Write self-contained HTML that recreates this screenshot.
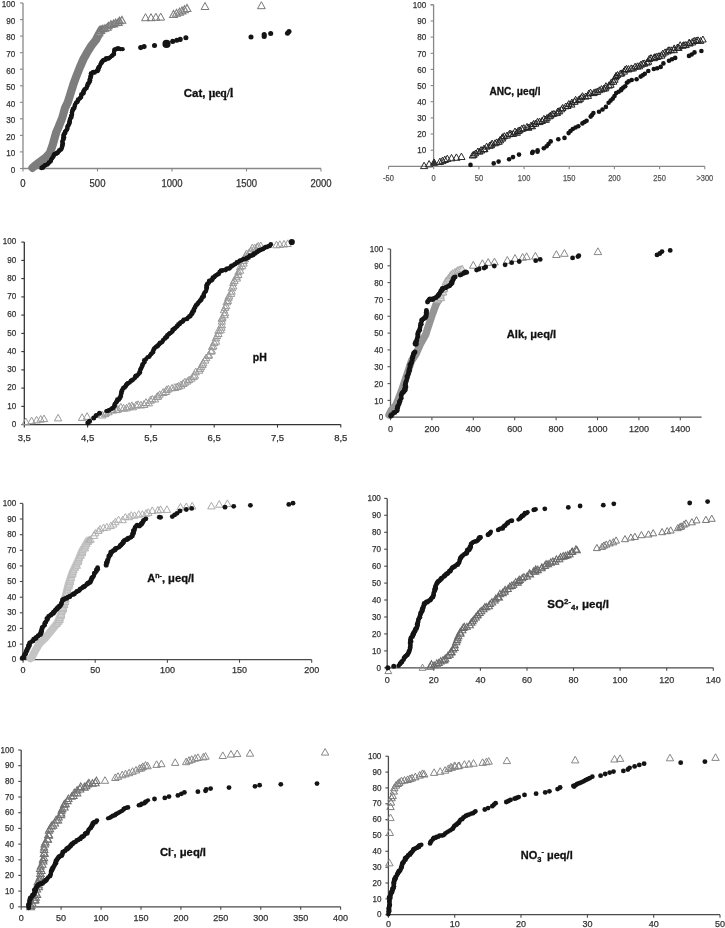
<!DOCTYPE html>
<html><head><meta charset="utf-8"><title>Cumulative distributions</title>
<style>html,body{margin:0;padding:0;background:#fff;} svg{display:block;}</style></head>
<body><svg width="725" height="928" viewBox="0 0 725 928">
<rect width="725" height="928" fill="#fff"/>
<line x1="23.0" y1="168.5" x2="23.0" y2="3.0" stroke="#888" stroke-width="1.3"/>
<line x1="20.0" y1="168.5" x2="23.0" y2="168.5" stroke="#888" stroke-width="1.1"/>
<text x="15.2" y="172.8" font-size="9" text-anchor="end" fill="#333" stroke="#333" stroke-width="0.25" font-weight="normal" font-family='"Liberation Sans", Arial, sans-serif'  textLength="4.50" lengthAdjust="spacingAndGlyphs">0</text>
<line x1="20.0" y1="151.9" x2="23.0" y2="151.9" stroke="#888" stroke-width="1.1"/>
<text x="15.2" y="156.2" font-size="9" text-anchor="end" fill="#333" stroke="#333" stroke-width="0.25" font-weight="normal" font-family='"Liberation Sans", Arial, sans-serif'  textLength="9.01" lengthAdjust="spacingAndGlyphs">10</text>
<line x1="20.0" y1="135.4" x2="23.0" y2="135.4" stroke="#888" stroke-width="1.1"/>
<text x="15.2" y="139.7" font-size="9" text-anchor="end" fill="#333" stroke="#333" stroke-width="0.25" font-weight="normal" font-family='"Liberation Sans", Arial, sans-serif'  textLength="9.01" lengthAdjust="spacingAndGlyphs">20</text>
<line x1="20.0" y1="118.8" x2="23.0" y2="118.8" stroke="#888" stroke-width="1.1"/>
<text x="15.2" y="123.1" font-size="9" text-anchor="end" fill="#333" stroke="#333" stroke-width="0.25" font-weight="normal" font-family='"Liberation Sans", Arial, sans-serif'  textLength="9.01" lengthAdjust="spacingAndGlyphs">30</text>
<line x1="20.0" y1="102.3" x2="23.0" y2="102.3" stroke="#888" stroke-width="1.1"/>
<text x="15.2" y="106.6" font-size="9" text-anchor="end" fill="#333" stroke="#333" stroke-width="0.25" font-weight="normal" font-family='"Liberation Sans", Arial, sans-serif'  textLength="9.01" lengthAdjust="spacingAndGlyphs">40</text>
<line x1="20.0" y1="85.8" x2="23.0" y2="85.8" stroke="#888" stroke-width="1.1"/>
<text x="15.2" y="90.0" font-size="9" text-anchor="end" fill="#333" stroke="#333" stroke-width="0.25" font-weight="normal" font-family='"Liberation Sans", Arial, sans-serif'  textLength="9.01" lengthAdjust="spacingAndGlyphs">50</text>
<line x1="20.0" y1="69.2" x2="23.0" y2="69.2" stroke="#888" stroke-width="1.1"/>
<text x="15.2" y="73.5" font-size="9" text-anchor="end" fill="#333" stroke="#333" stroke-width="0.25" font-weight="normal" font-family='"Liberation Sans", Arial, sans-serif'  textLength="9.01" lengthAdjust="spacingAndGlyphs">60</text>
<line x1="20.0" y1="52.7" x2="23.0" y2="52.7" stroke="#888" stroke-width="1.1"/>
<text x="15.2" y="57.0" font-size="9" text-anchor="end" fill="#333" stroke="#333" stroke-width="0.25" font-weight="normal" font-family='"Liberation Sans", Arial, sans-serif'  textLength="9.01" lengthAdjust="spacingAndGlyphs">70</text>
<line x1="20.0" y1="36.1" x2="23.0" y2="36.1" stroke="#888" stroke-width="1.1"/>
<text x="15.2" y="40.4" font-size="9" text-anchor="end" fill="#333" stroke="#333" stroke-width="0.25" font-weight="normal" font-family='"Liberation Sans", Arial, sans-serif'  textLength="9.01" lengthAdjust="spacingAndGlyphs">80</text>
<line x1="20.0" y1="19.6" x2="23.0" y2="19.6" stroke="#888" stroke-width="1.1"/>
<text x="15.2" y="23.9" font-size="9" text-anchor="end" fill="#333" stroke="#333" stroke-width="0.25" font-weight="normal" font-family='"Liberation Sans", Arial, sans-serif'  textLength="9.01" lengthAdjust="spacingAndGlyphs">90</text>
<line x1="20.0" y1="3.0" x2="23.0" y2="3.0" stroke="#888" stroke-width="1.1"/>
<text x="15.2" y="7.3" font-size="9" text-anchor="end" fill="#333" stroke="#333" stroke-width="0.25" font-weight="normal" font-family='"Liberation Sans", Arial, sans-serif'  textLength="13.51" lengthAdjust="spacingAndGlyphs">100</text>
<line x1="23.0" y1="168.5" x2="321.0" y2="168.5" stroke="#888" stroke-width="1.3"/>
<line x1="23.0" y1="168.5" x2="23.0" y2="171.5" stroke="#888" stroke-width="1.1"/>
<text x="23.0" y="187.4" font-size="10" text-anchor="middle" fill="#333" stroke="#333" stroke-width="0.25" font-weight="normal" font-family='"Liberation Sans", Arial, sans-serif'  textLength="5.28" lengthAdjust="spacingAndGlyphs">0</text>
<line x1="97.5" y1="168.5" x2="97.5" y2="171.5" stroke="#888" stroke-width="1.1"/>
<text x="97.5" y="187.4" font-size="10" text-anchor="middle" fill="#333" stroke="#333" stroke-width="0.25" font-weight="normal" font-family='"Liberation Sans", Arial, sans-serif'  textLength="15.85" lengthAdjust="spacingAndGlyphs">500</text>
<line x1="172.0" y1="168.5" x2="172.0" y2="171.5" stroke="#888" stroke-width="1.1"/>
<text x="172.0" y="187.4" font-size="10" text-anchor="middle" fill="#333" stroke="#333" stroke-width="0.25" font-weight="normal" font-family='"Liberation Sans", Arial, sans-serif'  textLength="21.13" lengthAdjust="spacingAndGlyphs">1000</text>
<line x1="246.5" y1="168.5" x2="246.5" y2="171.5" stroke="#888" stroke-width="1.1"/>
<text x="246.5" y="187.4" font-size="10" text-anchor="middle" fill="#333" stroke="#333" stroke-width="0.25" font-weight="normal" font-family='"Liberation Sans", Arial, sans-serif'  textLength="21.13" lengthAdjust="spacingAndGlyphs">1500</text>
<line x1="321.0" y1="168.5" x2="321.0" y2="171.5" stroke="#888" stroke-width="1.1"/>
<text x="321.0" y="187.4" font-size="10" text-anchor="middle" fill="#333" stroke="#333" stroke-width="0.25" font-weight="normal" font-family='"Liberation Sans", Arial, sans-serif'  textLength="21.13" lengthAdjust="spacingAndGlyphs">2000</text>
<polyline points="32.5,167.8 34.5,166.0 39.0,162.5 46.0,157.3 49.8,153.1 52.7,144.8 56.2,132.4 58.6,126.9 62.2,118.0 65.0,108.0 67.9,102.0 71.0,92.0 73.5,84.0 76.0,77.2 80.0,67.0 83.5,59.0 87.2,52.4 91.5,45.5 95.9,40.0 99.0,34.0 101.5,29.5" fill="none" stroke="#7d7d7d" stroke-width="8.2" stroke-linecap="round" stroke-linejoin="round" opacity="1"/>
<path d="M95.3 35.8L99.1 29.0L102.8 35.8Z" fill="#9a9a9a" stroke="#7a7a7a" stroke-width="1.1"/>
<path d="M97.1 33.5L100.9 26.7L104.7 33.5Z" fill="none" stroke="#7a7a7a" stroke-width="1.1"/>
<path d="M99.2 31.8L102.9 25.1L106.6 31.8Z" fill="none" stroke="#7a7a7a" stroke-width="1.1"/>
<path d="M101.4 31.1L105.0 24.6L108.6 31.1Z" fill="#9a9a9a" stroke="#7a7a7a" stroke-width="1.1"/>
<path d="M103.5 30.2L107.3 23.3L111.1 30.2Z" fill="none" stroke="#7a7a7a" stroke-width="1.1"/>
<path d="M104.9 28.8L108.5 22.3L112.1 28.8Z" fill="#9a9a9a" stroke="#7a7a7a" stroke-width="1.1"/>
<path d="M107.1 27.4L110.9 20.6L114.7 27.4Z" fill="#9a9a9a" stroke="#7a7a7a" stroke-width="1.1"/>
<path d="M109.8 26.9L113.6 19.9L117.5 26.9Z" fill="#9a9a9a" stroke="#7a7a7a" stroke-width="1.1"/>
<path d="M112.0 25.8L115.7 19.1L119.4 25.8Z" fill="#9a9a9a" stroke="#7a7a7a" stroke-width="1.1"/>
<path d="M114.4 25.4L118.2 18.5L122.1 25.4Z" fill="none" stroke="#7a7a7a" stroke-width="1.1"/>
<path d="M116.0 23.6L119.6 17.1L123.3 23.6Z" fill="#9a9a9a" stroke="#7a7a7a" stroke-width="1.1"/>
<path d="M118.2 23.2L121.9 16.4L125.7 23.2Z" fill="none" stroke="#7a7a7a" stroke-width="1.1"/>
<path d="M141.6 20.7L145.5 13.7L149.4 20.7Z" fill="none" stroke="#777" stroke-width="1.0"/>
<path d="M147.1 20.7L151.0 13.7L154.9 20.7Z" fill="none" stroke="#777" stroke-width="1.0"/>
<path d="M152.0 20.3L155.9 13.3L159.8 20.3Z" fill="none" stroke="#777" stroke-width="1.0"/>
<path d="M156.8 20.1L160.7 13.1L164.6 20.1Z" fill="none" stroke="#777" stroke-width="1.0"/>
<path d="M169.6 17.5L173.5 10.5L177.4 17.5Z" fill="none" stroke="#808080" stroke-width="1.1"/>
<path d="M172.6 16.3L176.5 9.3L180.4 16.3Z" fill="none" stroke="#808080" stroke-width="1.1"/>
<path d="M175.6 15.1L179.5 8.1L183.4 15.1Z" fill="none" stroke="#808080" stroke-width="1.1"/>
<path d="M178.1 13.9L182.0 6.9L185.9 13.9Z" fill="none" stroke="#808080" stroke-width="1.1"/>
<path d="M180.6 12.7L184.5 5.7L188.4 12.7Z" fill="none" stroke="#808080" stroke-width="1.1"/>
<path d="M183.1 11.5L187.0 4.5L190.9 11.5Z" fill="none" stroke="#808080" stroke-width="1.1"/>
<path d="M201.1 9.5L205.0 2.5L208.9 9.5Z" fill="none" stroke="#777" stroke-width="1.0"/>
<path d="M257.5 8.7L261.4 1.7L265.3 8.7Z" fill="none" stroke="#777" stroke-width="1.0"/>
<circle cx="41.6" cy="167.9" r="2.42" fill="#141414"/>
<circle cx="43.0" cy="167.4" r="2.31" fill="#141414"/>
<circle cx="43.3" cy="166.4" r="2.17" fill="#141414"/>
<circle cx="44.9" cy="165.6" r="2.42" fill="#141414"/>
<circle cx="45.3" cy="164.9" r="2.10" fill="#141414"/>
<circle cx="47.2" cy="164.4" r="2.24" fill="#141414"/>
<circle cx="47.8" cy="164.0" r="2.22" fill="#141414"/>
<circle cx="48.6" cy="162.9" r="2.18" fill="#141414"/>
<circle cx="49.3" cy="162.3" r="2.31" fill="#141414"/>
<circle cx="50.7" cy="161.3" r="2.21" fill="#141414"/>
<circle cx="51.1" cy="159.8" r="2.22" fill="#141414"/>
<circle cx="52.1" cy="158.2" r="2.24" fill="#141414"/>
<circle cx="52.7" cy="157.5" r="2.08" fill="#141414"/>
<circle cx="53.6" cy="156.1" r="2.27" fill="#141414"/>
<circle cx="53.8" cy="155.0" r="2.14" fill="#141414"/>
<circle cx="54.5" cy="154.1" r="2.32" fill="#141414"/>
<circle cx="56.2" cy="153.6" r="2.30" fill="#141414"/>
<circle cx="57.0" cy="153.0" r="2.39" fill="#141414"/>
<circle cx="57.9" cy="152.6" r="2.32" fill="#141414"/>
<circle cx="59.3" cy="150.9" r="2.10" fill="#141414"/>
<circle cx="59.4" cy="150.3" r="2.41" fill="#141414"/>
<circle cx="61.0" cy="149.7" r="2.11" fill="#141414"/>
<circle cx="61.5" cy="148.6" r="2.36" fill="#141414"/>
<circle cx="62.1" cy="146.7" r="2.13" fill="#141414"/>
<circle cx="62.3" cy="146.0" r="2.39" fill="#141414"/>
<circle cx="62.2" cy="144.9" r="2.12" fill="#141414"/>
<circle cx="63.0" cy="143.7" r="2.19" fill="#141414"/>
<circle cx="62.3" cy="142.0" r="2.32" fill="#141414"/>
<circle cx="62.8" cy="140.2" r="2.17" fill="#141414"/>
<circle cx="63.5" cy="138.9" r="2.41" fill="#141414"/>
<circle cx="63.1" cy="137.8" r="2.11" fill="#141414"/>
<circle cx="64.1" cy="137.3" r="2.18" fill="#141414"/>
<circle cx="63.6" cy="135.8" r="2.39" fill="#141414"/>
<circle cx="63.9" cy="134.5" r="2.38" fill="#141414"/>
<circle cx="64.9" cy="133.3" r="2.36" fill="#141414"/>
<circle cx="65.1" cy="131.7" r="2.31" fill="#141414"/>
<circle cx="66.0" cy="130.8" r="2.19" fill="#141414"/>
<circle cx="67.0" cy="129.4" r="2.31" fill="#141414"/>
<circle cx="67.5" cy="128.3" r="2.09" fill="#141414"/>
<circle cx="67.3" cy="126.8" r="2.12" fill="#141414"/>
<circle cx="67.8" cy="125.9" r="2.20" fill="#141414"/>
<circle cx="68.6" cy="125.1" r="2.31" fill="#141414"/>
<circle cx="69.3" cy="123.5" r="2.31" fill="#141414"/>
<circle cx="69.5" cy="122.0" r="2.27" fill="#141414"/>
<circle cx="69.7" cy="121.4" r="2.33" fill="#141414"/>
<circle cx="69.9" cy="119.8" r="2.23" fill="#141414"/>
<circle cx="70.3" cy="118.1" r="2.09" fill="#141414"/>
<circle cx="71.3" cy="117.6" r="2.23" fill="#141414"/>
<circle cx="71.2" cy="115.9" r="2.33" fill="#141414"/>
<circle cx="71.9" cy="115.1" r="2.24" fill="#141414"/>
<circle cx="72.2" cy="114.0" r="2.09" fill="#141414"/>
<circle cx="71.9" cy="112.3" r="2.17" fill="#141414"/>
<circle cx="72.4" cy="110.7" r="2.34" fill="#141414"/>
<circle cx="73.2" cy="109.4" r="2.32" fill="#141414"/>
<circle cx="73.1" cy="108.8" r="2.32" fill="#141414"/>
<circle cx="74.4" cy="107.9" r="2.19" fill="#141414"/>
<circle cx="74.7" cy="106.0" r="2.33" fill="#141414"/>
<circle cx="75.0" cy="104.9" r="2.16" fill="#141414"/>
<circle cx="75.3" cy="104.4" r="2.10" fill="#141414"/>
<circle cx="76.0" cy="102.6" r="2.13" fill="#141414"/>
<circle cx="77.3" cy="101.9" r="2.31" fill="#141414"/>
<circle cx="78.2" cy="100.7" r="2.08" fill="#141414"/>
<circle cx="78.1" cy="99.7" r="2.33" fill="#141414"/>
<circle cx="79.7" cy="98.6" r="2.15" fill="#141414"/>
<circle cx="80.1" cy="98.0" r="2.19" fill="#141414"/>
<circle cx="81.1" cy="96.9" r="2.28" fill="#141414"/>
<circle cx="81.3" cy="94.9" r="2.11" fill="#141414"/>
<circle cx="81.5" cy="94.4" r="2.33" fill="#141414"/>
<circle cx="83.3" cy="93.3" r="2.43" fill="#141414"/>
<circle cx="83.3" cy="91.6" r="2.09" fill="#141414"/>
<circle cx="83.9" cy="91.0" r="2.43" fill="#141414"/>
<circle cx="84.6" cy="89.5" r="2.33" fill="#141414"/>
<circle cx="85.3" cy="88.8" r="2.12" fill="#141414"/>
<circle cx="86.5" cy="88.1" r="2.34" fill="#141414"/>
<circle cx="87.3" cy="86.3" r="2.08" fill="#141414"/>
<circle cx="87.2" cy="85.8" r="2.24" fill="#141414"/>
<circle cx="87.7" cy="83.8" r="2.13" fill="#141414"/>
<circle cx="88.5" cy="83.5" r="2.39" fill="#141414"/>
<circle cx="89.5" cy="82.2" r="2.14" fill="#141414"/>
<circle cx="90.1" cy="80.4" r="2.26" fill="#141414"/>
<circle cx="89.4" cy="79.9" r="2.12" fill="#141414"/>
<circle cx="90.3" cy="78.3" r="2.30" fill="#141414"/>
<circle cx="90.6" cy="76.7" r="2.36" fill="#141414"/>
<circle cx="91.0" cy="75.7" r="2.42" fill="#141414"/>
<circle cx="91.2" cy="73.8" r="2.31" fill="#141414"/>
<circle cx="90.9" cy="73.5" r="2.20" fill="#141414"/>
<circle cx="93.0" cy="72.4" r="2.41" fill="#141414"/>
<circle cx="93.3" cy="71.9" r="2.07" fill="#141414"/>
<circle cx="94.6" cy="72.4" r="2.37" fill="#141414"/>
<circle cx="96.6" cy="71.0" r="2.32" fill="#141414"/>
<circle cx="97.6" cy="71.0" r="2.17" fill="#141414"/>
<circle cx="98.3" cy="69.8" r="2.32" fill="#141414"/>
<circle cx="98.2" cy="68.3" r="2.34" fill="#141414"/>
<circle cx="99.0" cy="67.2" r="2.40" fill="#141414"/>
<circle cx="99.5" cy="66.5" r="2.09" fill="#141414"/>
<circle cx="100.2" cy="65.1" r="2.07" fill="#141414"/>
<circle cx="100.9" cy="63.5" r="2.30" fill="#141414"/>
<circle cx="101.7" cy="62.4" r="2.41" fill="#141414"/>
<circle cx="102.2" cy="61.5" r="2.23" fill="#141414"/>
<circle cx="103.0" cy="60.5" r="2.34" fill="#141414"/>
<circle cx="103.9" cy="60.1" r="2.39" fill="#141414"/>
<circle cx="105.4" cy="59.7" r="2.37" fill="#141414"/>
<circle cx="106.2" cy="58.3" r="2.35" fill="#141414"/>
<circle cx="108.2" cy="58.5" r="2.33" fill="#141414"/>
<circle cx="108.9" cy="58.1" r="2.34" fill="#141414"/>
<circle cx="110.3" cy="57.3" r="2.09" fill="#141414"/>
<circle cx="111.4" cy="56.3" r="2.07" fill="#141414"/>
<circle cx="112.0" cy="55.7" r="2.26" fill="#141414"/>
<circle cx="113.3" cy="54.5" r="2.27" fill="#141414"/>
<circle cx="114.0" cy="54.0" r="2.27" fill="#141414"/>
<circle cx="114.1" cy="51.8" r="2.12" fill="#141414"/>
<circle cx="114.3" cy="51.3" r="2.11" fill="#141414"/>
<circle cx="114.3" cy="49.8" r="2.18" fill="#141414"/>
<circle cx="115.5" cy="49.1" r="2.22" fill="#141414"/>
<circle cx="117.5" cy="48.7" r="2.36" fill="#141414"/>
<circle cx="118.0" cy="48.5" r="2.31" fill="#141414"/>
<circle cx="119.2" cy="48.6" r="2.13" fill="#141414"/>
<circle cx="120.7" cy="49.2" r="2.13" fill="#141414"/>
<circle cx="122.6" cy="49.2" r="2.16" fill="#141414"/>
<circle cx="140.7" cy="47.6" r="2.53" fill="#141414"/>
<circle cx="144.1" cy="46.6" r="2.53" fill="#141414"/>
<circle cx="154.5" cy="45.5" r="2.53" fill="#141414"/>
<circle cx="172.7" cy="41.4" r="2.53" fill="#141414"/>
<circle cx="176.8" cy="40.3" r="2.53" fill="#141414"/>
<circle cx="180.2" cy="39.4" r="2.53" fill="#141414"/>
<circle cx="185.9" cy="37.8" r="2.53" fill="#141414"/>
<circle cx="251.0" cy="37.0" r="2.53" fill="#141414"/>
<circle cx="264.2" cy="34.6" r="2.53" fill="#141414"/>
<circle cx="264.2" cy="36.4" r="2.53" fill="#141414"/>
<circle cx="270.7" cy="33.5" r="2.53" fill="#141414"/>
<circle cx="287.5" cy="33.3" r="2.53" fill="#141414"/>
<circle cx="289.0" cy="31.5" r="2.53" fill="#141414"/>
<circle cx="166.5" cy="43.9" r="4.07" fill="#141414"/>
<text x="183.8" y="96.5" font-size="11.5" font-weight="bold" fill="#111" stroke="#111" stroke-width="0.3" font-family='"Liberation Sans", Arial, sans-serif'>Cat, <tspan font-family='"Liberation Serif", "Times New Roman", serif'>μeq/l</tspan></text>
<line x1="433.6" y1="166.3" x2="433.6" y2="4.8" stroke="#888" stroke-width="1.3"/>
<line x1="430.6" y1="150.2" x2="433.6" y2="150.2" stroke="#888" stroke-width="1.1"/>
<text x="426.3" y="153.3" font-size="9" text-anchor="end" fill="#333" stroke="#333" stroke-width="0.25" font-weight="normal" font-family='"Liberation Sans", Arial, sans-serif'  textLength="9.01" lengthAdjust="spacingAndGlyphs">10</text>
<line x1="430.6" y1="134.0" x2="433.6" y2="134.0" stroke="#888" stroke-width="1.1"/>
<text x="426.3" y="137.2" font-size="9" text-anchor="end" fill="#333" stroke="#333" stroke-width="0.25" font-weight="normal" font-family='"Liberation Sans", Arial, sans-serif'  textLength="9.01" lengthAdjust="spacingAndGlyphs">20</text>
<line x1="430.6" y1="117.9" x2="433.6" y2="117.9" stroke="#888" stroke-width="1.1"/>
<text x="426.3" y="121.1" font-size="9" text-anchor="end" fill="#333" stroke="#333" stroke-width="0.25" font-weight="normal" font-family='"Liberation Sans", Arial, sans-serif'  textLength="9.01" lengthAdjust="spacingAndGlyphs">30</text>
<line x1="430.6" y1="101.7" x2="433.6" y2="101.7" stroke="#888" stroke-width="1.1"/>
<text x="426.3" y="104.9" font-size="9" text-anchor="end" fill="#333" stroke="#333" stroke-width="0.25" font-weight="normal" font-family='"Liberation Sans", Arial, sans-serif'  textLength="9.01" lengthAdjust="spacingAndGlyphs">40</text>
<line x1="430.6" y1="85.6" x2="433.6" y2="85.6" stroke="#888" stroke-width="1.1"/>
<text x="426.3" y="88.8" font-size="9" text-anchor="end" fill="#333" stroke="#333" stroke-width="0.25" font-weight="normal" font-family='"Liberation Sans", Arial, sans-serif'  textLength="9.01" lengthAdjust="spacingAndGlyphs">50</text>
<line x1="430.6" y1="69.4" x2="433.6" y2="69.4" stroke="#888" stroke-width="1.1"/>
<text x="426.3" y="72.6" font-size="9" text-anchor="end" fill="#333" stroke="#333" stroke-width="0.25" font-weight="normal" font-family='"Liberation Sans", Arial, sans-serif'  textLength="9.01" lengthAdjust="spacingAndGlyphs">60</text>
<line x1="430.6" y1="53.3" x2="433.6" y2="53.3" stroke="#888" stroke-width="1.1"/>
<text x="426.3" y="56.5" font-size="9" text-anchor="end" fill="#333" stroke="#333" stroke-width="0.25" font-weight="normal" font-family='"Liberation Sans", Arial, sans-serif'  textLength="9.01" lengthAdjust="spacingAndGlyphs">70</text>
<line x1="430.6" y1="37.1" x2="433.6" y2="37.1" stroke="#888" stroke-width="1.1"/>
<text x="426.3" y="40.3" font-size="9" text-anchor="end" fill="#333" stroke="#333" stroke-width="0.25" font-weight="normal" font-family='"Liberation Sans", Arial, sans-serif'  textLength="9.01" lengthAdjust="spacingAndGlyphs">80</text>
<line x1="430.6" y1="21.0" x2="433.6" y2="21.0" stroke="#888" stroke-width="1.1"/>
<text x="426.3" y="24.2" font-size="9" text-anchor="end" fill="#333" stroke="#333" stroke-width="0.25" font-weight="normal" font-family='"Liberation Sans", Arial, sans-serif'  textLength="9.01" lengthAdjust="spacingAndGlyphs">90</text>
<line x1="430.6" y1="4.8" x2="433.6" y2="4.8" stroke="#888" stroke-width="1.1"/>
<text x="426.3" y="8.0" font-size="9" text-anchor="end" fill="#333" stroke="#333" stroke-width="0.25" font-weight="normal" font-family='"Liberation Sans", Arial, sans-serif'  textLength="13.51" lengthAdjust="spacingAndGlyphs">100</text>
<line x1="430.6" y1="4.8" x2="433.6" y2="4.8" stroke="#888" stroke-width="1.1"/>
<line x1="388.5" y1="166.3" x2="704.8" y2="166.3" stroke="#888" stroke-width="1.3"/>
<line x1="388.5" y1="166.3" x2="388.5" y2="169.3" stroke="#888" stroke-width="1.1"/>
<text x="388.5" y="181.0" font-size="8.5" text-anchor="middle" fill="#555" stroke="#555" stroke-width="0.25" font-weight="normal" font-family='"Liberation Sans", Arial, sans-serif'  textLength="10.81" lengthAdjust="spacingAndGlyphs">-50</text>
<line x1="433.7" y1="166.3" x2="433.7" y2="169.3" stroke="#888" stroke-width="1.1"/>
<text x="433.7" y="181.0" font-size="8.5" text-anchor="middle" fill="#555" stroke="#555" stroke-width="0.25" font-weight="normal" font-family='"Liberation Sans", Arial, sans-serif'  textLength="4.16" lengthAdjust="spacingAndGlyphs">0</text>
<line x1="478.9" y1="166.3" x2="478.9" y2="169.3" stroke="#888" stroke-width="1.1"/>
<text x="478.9" y="181.0" font-size="8.5" text-anchor="middle" fill="#555" stroke="#555" stroke-width="0.25" font-weight="normal" font-family='"Liberation Sans", Arial, sans-serif'  textLength="8.32" lengthAdjust="spacingAndGlyphs">50</text>
<line x1="524.1" y1="166.3" x2="524.1" y2="169.3" stroke="#888" stroke-width="1.1"/>
<text x="524.1" y="181.0" font-size="8.5" text-anchor="middle" fill="#555" stroke="#555" stroke-width="0.25" font-weight="normal" font-family='"Liberation Sans", Arial, sans-serif'  textLength="12.48" lengthAdjust="spacingAndGlyphs">100</text>
<line x1="569.2" y1="166.3" x2="569.2" y2="169.3" stroke="#888" stroke-width="1.1"/>
<text x="569.2" y="181.0" font-size="8.5" text-anchor="middle" fill="#555" stroke="#555" stroke-width="0.25" font-weight="normal" font-family='"Liberation Sans", Arial, sans-serif'  textLength="12.48" lengthAdjust="spacingAndGlyphs">150</text>
<line x1="614.4" y1="166.3" x2="614.4" y2="169.3" stroke="#888" stroke-width="1.1"/>
<text x="614.4" y="181.0" font-size="8.5" text-anchor="middle" fill="#555" stroke="#555" stroke-width="0.25" font-weight="normal" font-family='"Liberation Sans", Arial, sans-serif'  textLength="12.48" lengthAdjust="spacingAndGlyphs">200</text>
<line x1="659.6" y1="166.3" x2="659.6" y2="169.3" stroke="#888" stroke-width="1.1"/>
<text x="659.6" y="181.0" font-size="8.5" text-anchor="middle" fill="#555" stroke="#555" stroke-width="0.25" font-weight="normal" font-family='"Liberation Sans", Arial, sans-serif'  textLength="12.48" lengthAdjust="spacingAndGlyphs">250</text>
<line x1="704.8" y1="166.3" x2="704.8" y2="169.3" stroke="#888" stroke-width="1.1"/>
<text x="704.8" y="181.0" font-size="8.5" text-anchor="middle" fill="#555" stroke="#555" stroke-width="0.25" font-weight="normal" font-family='"Liberation Sans", Arial, sans-serif'  textLength="16.84" lengthAdjust="spacingAndGlyphs">&gt;300</text>
<path d="M430.5 165.3L434.1 158.9L437.7 165.3Z" fill="#333" stroke="#2a2a2a" stroke-width="1.0"/>
<path d="M420.5 168.6L424.1 162.2L427.7 168.6Z" fill="none" stroke="#2a2a2a" stroke-width="1.0"/>
<path d="M425.5 166.9L429.1 160.5L432.7 166.9Z" fill="none" stroke="#2a2a2a" stroke-width="1.0"/>
<path d="M436.3 164.5L439.9 158.1L443.5 164.5Z" fill="none" stroke="#2a2a2a" stroke-width="1.0"/>
<path d="M438.8 163.6L442.4 157.2L446.0 163.6Z" fill="none" stroke="#2a2a2a" stroke-width="1.0"/>
<path d="M441.2 162.5L444.8 156.1L448.4 162.5Z" fill="none" stroke="#2a2a2a" stroke-width="1.0"/>
<path d="M443.7 161.5L447.3 155.1L450.9 161.5Z" fill="none" stroke="#2a2a2a" stroke-width="1.0"/>
<path d="M447.9 160.8L451.5 154.4L455.1 160.8Z" fill="none" stroke="#2a2a2a" stroke-width="1.0"/>
<path d="M452.8 160.3L456.4 153.9L460.0 160.3Z" fill="none" stroke="#2a2a2a" stroke-width="1.0"/>
<path d="M457.8 159.5L461.4 153.1L465.0 159.5Z" fill="none" stroke="#2a2a2a" stroke-width="1.0"/>
<path d="M469.2 158.0L472.7 151.8L476.1 158.0Z" fill="none" stroke="#222" stroke-width="1.0"/>
<path d="M470.5 157.3L473.9 151.2L477.2 157.3Z" fill="none" stroke="#222" stroke-width="1.0"/>
<path d="M472.2 155.8L475.5 150.0L478.7 155.8Z" fill="none" stroke="#222" stroke-width="1.0"/>
<path d="M474.6 153.8L477.9 148.0L481.1 153.8Z" fill="none" stroke="#222" stroke-width="1.0"/>
<path d="M476.4 154.1L479.7 148.2L482.9 154.1Z" fill="none" stroke="#222" stroke-width="1.0"/>
<path d="M477.6 153.0L481.1 146.6L484.7 153.0Z" fill="none" stroke="#222" stroke-width="1.0"/>
<path d="M480.1 151.8L483.7 145.4L487.3 151.8Z" fill="none" stroke="#222" stroke-width="1.0"/>
<path d="M481.3 151.6L484.7 145.6L488.0 151.6Z" fill="none" stroke="#222" stroke-width="1.0"/>
<path d="M483.3 149.1L486.6 143.1L490.0 149.1Z" fill="none" stroke="#222" stroke-width="1.0"/>
<path d="M486.2 148.3L489.7 142.1L493.1 148.3Z" fill="none" stroke="#222" stroke-width="1.0"/>
<path d="M487.8 147.7L491.2 141.5L494.6 147.7Z" fill="none" stroke="#222" stroke-width="1.0"/>
<path d="M488.8 146.1L492.1 140.1L495.4 146.1Z" fill="none" stroke="#222" stroke-width="1.0"/>
<path d="M491.7 145.8L495.0 139.8L498.4 145.8Z" fill="none" stroke="#222" stroke-width="1.0"/>
<path d="M493.4 144.9L496.7 138.9L500.1 144.9Z" fill="none" stroke="#222" stroke-width="1.0"/>
<path d="M495.6 144.3L498.9 138.3L502.2 144.3Z" fill="none" stroke="#222" stroke-width="1.0"/>
<path d="M496.6 142.8L500.1 136.5L503.7 142.8Z" fill="none" stroke="#222" stroke-width="1.0"/>
<path d="M498.5 141.1L502.0 134.7L505.6 141.1Z" fill="none" stroke="#222" stroke-width="1.0"/>
<path d="M499.1 139.9L502.6 133.7L506.1 139.9Z" fill="none" stroke="#222" stroke-width="1.0"/>
<path d="M501.1 138.6L504.3 132.7L507.6 138.6Z" fill="none" stroke="#222" stroke-width="1.0"/>
<path d="M503.6 138.1L507.0 132.0L510.4 138.1Z" fill="none" stroke="#222" stroke-width="1.0"/>
<path d="M505.9 136.7L509.4 130.4L512.8 136.7Z" fill="none" stroke="#222" stroke-width="1.0"/>
<path d="M507.5 136.4L510.8 130.3L514.2 136.4Z" fill="none" stroke="#222" stroke-width="1.0"/>
<path d="M509.9 136.4L513.3 130.3L516.7 136.4Z" fill="none" stroke="#222" stroke-width="1.0"/>
<path d="M511.5 134.3L515.0 128.0L518.4 134.3Z" fill="none" stroke="#222" stroke-width="1.0"/>
<path d="M513.4 135.3L516.9 129.0L520.4 135.3Z" fill="none" stroke="#222" stroke-width="1.0"/>
<path d="M514.8 133.5L518.3 127.3L521.7 133.5Z" fill="none" stroke="#222" stroke-width="1.0"/>
<path d="M516.5 132.8L519.8 126.9L523.1 132.8Z" fill="none" stroke="#222" stroke-width="1.0"/>
<path d="M518.4 131.4L521.9 125.1L525.3 131.4Z" fill="none" stroke="#222" stroke-width="1.0"/>
<path d="M520.4 130.7L523.8 124.6L527.1 130.7Z" fill="none" stroke="#222" stroke-width="1.0"/>
<path d="M523.6 129.5L527.0 123.4L530.4 129.5Z" fill="none" stroke="#222" stroke-width="1.0"/>
<path d="M524.9 130.3L528.4 124.0L531.9 130.3Z" fill="none" stroke="#222" stroke-width="1.0"/>
<path d="M527.5 128.3L530.9 122.3L534.3 128.3Z" fill="none" stroke="#222" stroke-width="1.0"/>
<path d="M528.4 128.8L532.0 122.4L535.5 128.8Z" fill="none" stroke="#222" stroke-width="1.0"/>
<path d="M530.2 126.5L533.5 120.5L536.8 126.5Z" fill="none" stroke="#222" stroke-width="1.0"/>
<path d="M532.1 126.2L535.5 120.0L538.9 126.2Z" fill="none" stroke="#222" stroke-width="1.0"/>
<path d="M534.1 124.4L537.5 118.3L540.8 124.4Z" fill="none" stroke="#222" stroke-width="1.0"/>
<path d="M536.0 124.6L539.5 118.2L543.1 124.6Z" fill="none" stroke="#222" stroke-width="1.0"/>
<path d="M538.6 123.5L542.0 117.3L545.4 123.5Z" fill="none" stroke="#222" stroke-width="1.0"/>
<path d="M540.3 121.8L543.9 115.4L547.4 121.8Z" fill="none" stroke="#222" stroke-width="1.0"/>
<path d="M542.4 122.3L545.9 116.0L549.4 122.3Z" fill="none" stroke="#222" stroke-width="1.0"/>
<path d="M543.8 120.3L547.1 114.4L550.4 120.3Z" fill="none" stroke="#222" stroke-width="1.0"/>
<path d="M546.2 118.8L549.4 112.9L552.7 118.8Z" fill="none" stroke="#222" stroke-width="1.0"/>
<path d="M547.2 118.1L550.5 112.1L553.9 118.1Z" fill="none" stroke="#222" stroke-width="1.0"/>
<path d="M548.8 116.7L552.1 110.8L555.4 116.7Z" fill="none" stroke="#222" stroke-width="1.0"/>
<path d="M550.7 116.2L553.9 110.4L557.2 116.2Z" fill="none" stroke="#222" stroke-width="1.0"/>
<path d="M553.8 115.6L557.1 109.7L560.4 115.6Z" fill="none" stroke="#222" stroke-width="1.0"/>
<path d="M554.4 114.0L557.8 108.0L561.1 114.0Z" fill="none" stroke="#222" stroke-width="1.0"/>
<path d="M555.7 113.9L559.2 107.5L562.8 113.9Z" fill="none" stroke="#222" stroke-width="1.0"/>
<path d="M558.3 111.8L561.6 105.9L564.8 111.8Z" fill="none" stroke="#222" stroke-width="1.0"/>
<path d="M559.3 110.4L562.7 104.4L566.0 110.4Z" fill="none" stroke="#222" stroke-width="1.0"/>
<path d="M562.5 108.8L565.7 103.0L569.0 108.8Z" fill="none" stroke="#222" stroke-width="1.0"/>
<path d="M564.5 108.5L567.7 102.6L571.0 108.5Z" fill="none" stroke="#222" stroke-width="1.0"/>
<path d="M565.4 106.6L568.8 100.5L572.2 106.6Z" fill="none" stroke="#222" stroke-width="1.0"/>
<path d="M567.9 107.1L571.4 100.8L574.9 107.1Z" fill="none" stroke="#222" stroke-width="1.0"/>
<path d="M568.6 104.9L571.9 99.0L575.2 104.9Z" fill="none" stroke="#222" stroke-width="1.0"/>
<path d="M571.1 104.3L574.6 98.0L578.1 104.3Z" fill="none" stroke="#222" stroke-width="1.0"/>
<path d="M572.1 102.6L575.6 96.3L579.1 102.6Z" fill="none" stroke="#222" stroke-width="1.0"/>
<path d="M575.1 102.7L578.6 96.4L582.1 102.7Z" fill="none" stroke="#222" stroke-width="1.0"/>
<path d="M576.8 101.4L580.1 95.4L583.5 101.4Z" fill="none" stroke="#222" stroke-width="1.0"/>
<path d="M578.2 99.7L581.5 93.9L584.7 99.7Z" fill="none" stroke="#222" stroke-width="1.0"/>
<path d="M579.2 98.7L582.5 92.7L585.8 98.7Z" fill="none" stroke="#222" stroke-width="1.0"/>
<path d="M582.2 99.1L585.6 93.0L588.9 99.1Z" fill="none" stroke="#222" stroke-width="1.0"/>
<path d="M584.4 98.4L587.9 92.0L591.5 98.4Z" fill="none" stroke="#222" stroke-width="1.0"/>
<path d="M585.5 96.0L588.8 90.1L592.1 96.0Z" fill="none" stroke="#222" stroke-width="1.0"/>
<path d="M587.0 95.3L590.5 89.1L593.9 95.3Z" fill="none" stroke="#222" stroke-width="1.0"/>
<path d="M590.3 95.6L593.7 89.5L597.1 95.6Z" fill="none" stroke="#222" stroke-width="1.0"/>
<path d="M591.9 94.6L595.2 88.8L598.5 94.6Z" fill="none" stroke="#222" stroke-width="1.0"/>
<path d="M593.7 94.4L597.2 88.1L600.7 94.4Z" fill="none" stroke="#222" stroke-width="1.0"/>
<path d="M596.0 92.7L599.3 86.8L602.6 92.7Z" fill="none" stroke="#222" stroke-width="1.0"/>
<path d="M597.9 91.9L601.4 85.6L604.9 91.9Z" fill="none" stroke="#222" stroke-width="1.0"/>
<path d="M600.3 91.2L603.7 85.2L607.1 91.2Z" fill="none" stroke="#222" stroke-width="1.0"/>
<path d="M602.2 90.8L605.5 84.9L608.8 90.8Z" fill="none" stroke="#222" stroke-width="1.0"/>
<path d="M602.4 89.1L605.9 82.7L609.5 89.1Z" fill="none" stroke="#222" stroke-width="1.0"/>
<path d="M605.5 88.1L609.0 81.8L612.5 88.1Z" fill="none" stroke="#222" stroke-width="1.0"/>
<path d="M607.4 87.3L610.8 81.3L614.1 87.3Z" fill="none" stroke="#222" stroke-width="1.0"/>
<path d="M608.1 84.7L611.4 78.9L614.6 84.7Z" fill="none" stroke="#222" stroke-width="1.0"/>
<path d="M610.1 84.2L613.5 78.1L616.9 84.2Z" fill="none" stroke="#222" stroke-width="1.0"/>
<path d="M611.1 82.2L614.6 75.8L618.1 82.2Z" fill="none" stroke="#222" stroke-width="1.0"/>
<path d="M612.3 79.8L615.6 73.9L618.9 79.8Z" fill="none" stroke="#222" stroke-width="1.0"/>
<path d="M612.6 78.5L616.1 72.3L619.5 78.5Z" fill="none" stroke="#222" stroke-width="1.0"/>
<path d="M614.4 77.4L617.6 71.5L620.9 77.4Z" fill="none" stroke="#222" stroke-width="1.0"/>
<path d="M617.1 76.1L620.5 70.0L623.9 76.1Z" fill="none" stroke="#222" stroke-width="1.0"/>
<path d="M618.3 75.9L621.7 69.9L625.0 75.9Z" fill="none" stroke="#222" stroke-width="1.0"/>
<path d="M620.6 74.1L624.0 68.0L627.5 74.1Z" fill="none" stroke="#222" stroke-width="1.0"/>
<path d="M621.7 72.1L625.1 66.1L628.5 72.1Z" fill="none" stroke="#222" stroke-width="1.0"/>
<path d="M623.0 71.6L626.5 65.3L630.0 71.6Z" fill="none" stroke="#222" stroke-width="1.0"/>
<path d="M625.0 71.9L628.5 65.6L632.0 71.9Z" fill="none" stroke="#222" stroke-width="1.0"/>
<path d="M627.8 71.0L631.2 64.9L634.6 71.0Z" fill="none" stroke="#222" stroke-width="1.0"/>
<path d="M629.9 70.9L633.2 65.0L636.4 70.9Z" fill="none" stroke="#222" stroke-width="1.0"/>
<path d="M631.8 69.2L635.1 63.2L638.4 69.2Z" fill="none" stroke="#222" stroke-width="1.0"/>
<path d="M634.0 69.0L637.4 62.8L640.9 69.0Z" fill="none" stroke="#222" stroke-width="1.0"/>
<path d="M636.0 68.8L639.3 62.7L642.7 68.8Z" fill="none" stroke="#222" stroke-width="1.0"/>
<path d="M637.6 67.2L641.0 61.0L644.4 67.2Z" fill="none" stroke="#222" stroke-width="1.0"/>
<path d="M639.6 66.1L643.0 60.0L646.4 66.1Z" fill="none" stroke="#222" stroke-width="1.0"/>
<path d="M641.0 66.1L644.5 59.9L647.9 66.1Z" fill="none" stroke="#222" stroke-width="1.0"/>
<path d="M643.8 65.1L647.1 59.1L650.4 65.1Z" fill="none" stroke="#222" stroke-width="1.0"/>
<path d="M644.8 64.2L648.3 57.8L651.8 64.2Z" fill="none" stroke="#222" stroke-width="1.0"/>
<path d="M645.9 61.5L649.3 55.4L652.7 61.5Z" fill="none" stroke="#222" stroke-width="1.0"/>
<path d="M647.7 60.5L651.0 54.6L654.3 60.5Z" fill="none" stroke="#222" stroke-width="1.0"/>
<path d="M650.4 60.7L653.9 54.3L657.5 60.7Z" fill="none" stroke="#222" stroke-width="1.0"/>
<path d="M651.5 59.8L655.0 53.6L658.4 59.8Z" fill="none" stroke="#222" stroke-width="1.0"/>
<path d="M653.4 59.5L656.9 53.1L660.5 59.5Z" fill="none" stroke="#222" stroke-width="1.0"/>
<path d="M655.6 58.7L659.0 52.6L662.4 58.7Z" fill="none" stroke="#222" stroke-width="1.0"/>
<path d="M657.9 58.1L661.4 51.8L665.0 58.1Z" fill="none" stroke="#222" stroke-width="1.0"/>
<path d="M659.4 56.2L662.8 50.1L666.2 56.2Z" fill="none" stroke="#222" stroke-width="1.0"/>
<path d="M661.7 54.9L665.1 48.9L668.4 54.9Z" fill="none" stroke="#222" stroke-width="1.0"/>
<path d="M664.2 53.8L667.6 47.6L671.1 53.8Z" fill="none" stroke="#222" stroke-width="1.0"/>
<path d="M665.7 52.8L669.0 46.7L672.4 52.8Z" fill="none" stroke="#222" stroke-width="1.0"/>
<path d="M668.0 52.6L671.2 46.8L674.5 52.6Z" fill="none" stroke="#222" stroke-width="1.0"/>
<path d="M670.3 52.7L673.9 46.3L677.4 52.7Z" fill="none" stroke="#222" stroke-width="1.0"/>
<path d="M671.0 50.7L674.2 44.9L677.5 50.7Z" fill="none" stroke="#222" stroke-width="1.0"/>
<path d="M674.1 50.0L677.4 44.1L680.7 50.0Z" fill="none" stroke="#222" stroke-width="1.0"/>
<path d="M675.1 50.4L678.6 44.1L682.1 50.4Z" fill="none" stroke="#222" stroke-width="1.0"/>
<path d="M676.7 48.1L680.2 41.7L683.7 48.1Z" fill="none" stroke="#222" stroke-width="1.0"/>
<path d="M679.5 48.2L682.8 42.3L686.0 48.2Z" fill="none" stroke="#222" stroke-width="1.0"/>
<path d="M680.5 47.7L683.9 41.6L687.2 47.7Z" fill="none" stroke="#222" stroke-width="1.0"/>
<path d="M682.4 47.6L685.9 41.4L689.3 47.6Z" fill="none" stroke="#222" stroke-width="1.0"/>
<path d="M685.7 45.4L689.2 39.1L692.7 45.4Z" fill="none" stroke="#222" stroke-width="1.0"/>
<path d="M686.5 46.0L689.8 39.9L693.2 46.0Z" fill="none" stroke="#222" stroke-width="1.0"/>
<path d="M688.8 44.9L692.3 38.5L695.9 44.9Z" fill="none" stroke="#222" stroke-width="1.0"/>
<path d="M690.8 43.5L694.2 37.4L697.6 43.5Z" fill="none" stroke="#222" stroke-width="1.0"/>
<path d="M693.0 43.0L696.2 37.1L699.5 43.0Z" fill="none" stroke="#222" stroke-width="1.0"/>
<path d="M694.6 42.8L698.0 36.8L701.3 42.8Z" fill="none" stroke="#222" stroke-width="1.0"/>
<path d="M697.2 43.4L700.5 37.4L703.8 43.4Z" fill="none" stroke="#222" stroke-width="1.0"/>
<path d="M699.5 42.0L702.9 36.0L706.2 42.0Z" fill="none" stroke="#222" stroke-width="1.0"/>
<circle cx="470.5" cy="164.9" r="2.31" fill="#141414"/>
<circle cx="493.7" cy="163.4" r="2.31" fill="#141414"/>
<circle cx="498.6" cy="161.6" r="2.31" fill="#141414"/>
<circle cx="509.1" cy="159.3" r="2.31" fill="#141414"/>
<circle cx="513.0" cy="157.1" r="2.31" fill="#141414"/>
<circle cx="519.0" cy="154.6" r="2.31" fill="#141414"/>
<circle cx="532.2" cy="153.0" r="2.31" fill="#141414"/>
<circle cx="537.5" cy="151.7" r="2.31" fill="#141414"/>
<circle cx="532.8" cy="151.7" r="2.31" fill="#141414"/>
<circle cx="537.6" cy="150.3" r="2.31" fill="#141414"/>
<circle cx="543.8" cy="148.3" r="2.31" fill="#141414"/>
<circle cx="546.6" cy="146.2" r="2.31" fill="#141414"/>
<circle cx="550.7" cy="141.4" r="2.31" fill="#141414"/>
<circle cx="548.5" cy="144.0" r="2.31" fill="#141414"/>
<circle cx="558.3" cy="139.3" r="2.31" fill="#141414"/>
<circle cx="564.5" cy="137.9" r="2.31" fill="#141414"/>
<circle cx="568.6" cy="133.1" r="2.31" fill="#141414"/>
<circle cx="570.5" cy="131.0" r="2.31" fill="#141414"/>
<circle cx="572.8" cy="129.0" r="2.31" fill="#141414"/>
<circle cx="575.5" cy="127.5" r="2.31" fill="#141414"/>
<circle cx="578.3" cy="126.2" r="2.31" fill="#141414"/>
<circle cx="582.4" cy="123.4" r="2.31" fill="#141414"/>
<circle cx="584.5" cy="122.0" r="2.31" fill="#141414"/>
<circle cx="586.6" cy="120.7" r="2.31" fill="#141414"/>
<circle cx="590.7" cy="116.6" r="2.31" fill="#141414"/>
<circle cx="592.0" cy="115.0" r="2.31" fill="#141414"/>
<circle cx="593.4" cy="113.1" r="2.31" fill="#141414"/>
<circle cx="599.0" cy="111.7" r="2.31" fill="#141414"/>
<circle cx="602.5" cy="109.5" r="2.31" fill="#141414"/>
<circle cx="605.9" cy="106.9" r="2.31" fill="#141414"/>
<circle cx="608.6" cy="102.8" r="2.31" fill="#141414"/>
<circle cx="610.7" cy="100.6" r="2.31" fill="#141414"/>
<circle cx="612.8" cy="98.6" r="2.31" fill="#141414"/>
<circle cx="614.5" cy="96.0" r="2.31" fill="#141414"/>
<circle cx="616.2" cy="93.1" r="2.31" fill="#141414"/>
<circle cx="618.6" cy="91.8" r="2.31" fill="#141414"/>
<circle cx="621.0" cy="90.3" r="2.31" fill="#141414"/>
<circle cx="621.4" cy="89.0" r="2.31" fill="#141414"/>
<circle cx="623.3" cy="87.6" r="2.31" fill="#141414"/>
<circle cx="625.2" cy="86.2" r="2.31" fill="#141414"/>
<circle cx="626.9" cy="82.8" r="2.31" fill="#141414"/>
<circle cx="628.6" cy="81.4" r="2.31" fill="#141414"/>
<circle cx="631.7" cy="80.0" r="2.31" fill="#141414"/>
<circle cx="636.6" cy="79.3" r="2.31" fill="#141414"/>
<circle cx="640.7" cy="76.6" r="2.31" fill="#141414"/>
<circle cx="642.7" cy="75.2" r="2.31" fill="#141414"/>
<circle cx="644.8" cy="73.8" r="2.31" fill="#141414"/>
<circle cx="648.3" cy="71.0" r="2.31" fill="#141414"/>
<circle cx="653.8" cy="69.0" r="2.31" fill="#141414"/>
<circle cx="657.2" cy="68.3" r="2.31" fill="#141414"/>
<circle cx="660.7" cy="66.9" r="2.31" fill="#141414"/>
<circle cx="663.4" cy="63.4" r="2.31" fill="#141414"/>
<circle cx="669.0" cy="60.7" r="2.31" fill="#141414"/>
<circle cx="672.0" cy="59.3" r="2.31" fill="#141414"/>
<circle cx="675.2" cy="57.9" r="2.31" fill="#141414"/>
<circle cx="689.0" cy="55.9" r="2.31" fill="#141414"/>
<circle cx="691.7" cy="54.5" r="2.31" fill="#141414"/>
<circle cx="694.5" cy="52.4" r="2.31" fill="#141414"/>
<circle cx="701.4" cy="51.0" r="2.31" fill="#141414"/>
<text x="489.4" y="94.9" font-size="10.1" font-weight="bold" fill="#111" stroke="#111" stroke-width="0.3" font-family='"Liberation Sans", Arial, sans-serif'>ANC, μeq/l</text>
<line x1="24.3" y1="424.6" x2="24.3" y2="242.1" stroke="#333" stroke-width="1.3"/>
<line x1="21.3" y1="424.6" x2="24.3" y2="424.6" stroke="#333" stroke-width="1.1"/>
<text x="16.2" y="426.7" font-size="9" text-anchor="end" fill="#333" stroke="#333" stroke-width="0.25" font-weight="normal" font-family='"Liberation Sans", Arial, sans-serif'  textLength="4.50" lengthAdjust="spacingAndGlyphs">0</text>
<line x1="21.3" y1="406.4" x2="24.3" y2="406.4" stroke="#333" stroke-width="1.1"/>
<text x="16.2" y="408.5" font-size="9" text-anchor="end" fill="#333" stroke="#333" stroke-width="0.25" font-weight="normal" font-family='"Liberation Sans", Arial, sans-serif'  textLength="9.01" lengthAdjust="spacingAndGlyphs">10</text>
<line x1="21.3" y1="388.1" x2="24.3" y2="388.1" stroke="#333" stroke-width="1.1"/>
<text x="16.2" y="390.2" font-size="9" text-anchor="end" fill="#333" stroke="#333" stroke-width="0.25" font-weight="normal" font-family='"Liberation Sans", Arial, sans-serif'  textLength="9.01" lengthAdjust="spacingAndGlyphs">20</text>
<line x1="21.3" y1="369.9" x2="24.3" y2="369.9" stroke="#333" stroke-width="1.1"/>
<text x="16.2" y="372.0" font-size="9" text-anchor="end" fill="#333" stroke="#333" stroke-width="0.25" font-weight="normal" font-family='"Liberation Sans", Arial, sans-serif'  textLength="9.01" lengthAdjust="spacingAndGlyphs">30</text>
<line x1="21.3" y1="351.6" x2="24.3" y2="351.6" stroke="#333" stroke-width="1.1"/>
<text x="16.2" y="353.7" font-size="9" text-anchor="end" fill="#333" stroke="#333" stroke-width="0.25" font-weight="normal" font-family='"Liberation Sans", Arial, sans-serif'  textLength="9.01" lengthAdjust="spacingAndGlyphs">40</text>
<line x1="21.3" y1="333.4" x2="24.3" y2="333.4" stroke="#333" stroke-width="1.1"/>
<text x="16.2" y="335.5" font-size="9" text-anchor="end" fill="#333" stroke="#333" stroke-width="0.25" font-weight="normal" font-family='"Liberation Sans", Arial, sans-serif'  textLength="9.01" lengthAdjust="spacingAndGlyphs">50</text>
<line x1="21.3" y1="315.1" x2="24.3" y2="315.1" stroke="#333" stroke-width="1.1"/>
<text x="16.2" y="317.2" font-size="9" text-anchor="end" fill="#333" stroke="#333" stroke-width="0.25" font-weight="normal" font-family='"Liberation Sans", Arial, sans-serif'  textLength="9.01" lengthAdjust="spacingAndGlyphs">60</text>
<line x1="21.3" y1="296.9" x2="24.3" y2="296.9" stroke="#333" stroke-width="1.1"/>
<text x="16.2" y="299.0" font-size="9" text-anchor="end" fill="#333" stroke="#333" stroke-width="0.25" font-weight="normal" font-family='"Liberation Sans", Arial, sans-serif'  textLength="9.01" lengthAdjust="spacingAndGlyphs">70</text>
<line x1="21.3" y1="278.6" x2="24.3" y2="278.6" stroke="#333" stroke-width="1.1"/>
<text x="16.2" y="280.7" font-size="9" text-anchor="end" fill="#333" stroke="#333" stroke-width="0.25" font-weight="normal" font-family='"Liberation Sans", Arial, sans-serif'  textLength="9.01" lengthAdjust="spacingAndGlyphs">80</text>
<line x1="21.3" y1="260.4" x2="24.3" y2="260.4" stroke="#333" stroke-width="1.1"/>
<text x="16.2" y="262.5" font-size="9" text-anchor="end" fill="#333" stroke="#333" stroke-width="0.25" font-weight="normal" font-family='"Liberation Sans", Arial, sans-serif'  textLength="9.01" lengthAdjust="spacingAndGlyphs">90</text>
<line x1="21.3" y1="242.1" x2="24.3" y2="242.1" stroke="#333" stroke-width="1.1"/>
<text x="16.2" y="244.2" font-size="9" text-anchor="end" fill="#333" stroke="#333" stroke-width="0.25" font-weight="normal" font-family='"Liberation Sans", Arial, sans-serif'  textLength="13.51" lengthAdjust="spacingAndGlyphs">100</text>
<line x1="24.3" y1="424.6" x2="340.8" y2="424.6" stroke="#333" stroke-width="1.3"/>
<line x1="24.3" y1="424.6" x2="24.3" y2="427.6" stroke="#333" stroke-width="1.1"/>
<text x="24.3" y="440.8" font-size="9.5" text-anchor="middle" fill="#333" stroke="#333" stroke-width="0.25" font-weight="normal" font-family='"Liberation Sans", Arial, sans-serif' >3,5</text>
<line x1="87.6" y1="424.6" x2="87.6" y2="427.6" stroke="#333" stroke-width="1.1"/>
<text x="87.6" y="440.8" font-size="9.5" text-anchor="middle" fill="#333" stroke="#333" stroke-width="0.25" font-weight="normal" font-family='"Liberation Sans", Arial, sans-serif' >4,5</text>
<line x1="150.9" y1="424.6" x2="150.9" y2="427.6" stroke="#333" stroke-width="1.1"/>
<text x="150.9" y="440.8" font-size="9.5" text-anchor="middle" fill="#333" stroke="#333" stroke-width="0.25" font-weight="normal" font-family='"Liberation Sans", Arial, sans-serif' >5,5</text>
<line x1="214.2" y1="424.6" x2="214.2" y2="427.6" stroke="#333" stroke-width="1.1"/>
<text x="214.2" y="440.8" font-size="9.5" text-anchor="middle" fill="#333" stroke="#333" stroke-width="0.25" font-weight="normal" font-family='"Liberation Sans", Arial, sans-serif' >6,5</text>
<line x1="277.5" y1="424.6" x2="277.5" y2="427.6" stroke="#333" stroke-width="1.1"/>
<text x="277.5" y="440.8" font-size="9.5" text-anchor="middle" fill="#333" stroke="#333" stroke-width="0.25" font-weight="normal" font-family='"Liberation Sans", Arial, sans-serif' >7,5</text>
<line x1="340.8" y1="424.6" x2="340.8" y2="427.6" stroke="#333" stroke-width="1.1"/>
<text x="340.8" y="440.8" font-size="9.5" text-anchor="middle" fill="#333" stroke="#333" stroke-width="0.25" font-weight="normal" font-family='"Liberation Sans", Arial, sans-serif' >8,5</text>
<path d="M22.1 424.6L25.8 418.0L29.5 424.6Z" fill="none" stroke="#999" stroke-width="1.0"/>
<path d="M27.9 423.7L31.6 417.1L35.3 423.7Z" fill="none" stroke="#999" stroke-width="1.0"/>
<path d="M32.9 422.9L36.6 416.3L40.3 422.9Z" fill="none" stroke="#999" stroke-width="1.0"/>
<path d="M37.0 422.1L40.7 415.5L44.4 422.1Z" fill="none" stroke="#999" stroke-width="1.0"/>
<path d="M40.3 421.6L44.0 415.0L47.7 421.6Z" fill="none" stroke="#999" stroke-width="1.0"/>
<path d="M54.4 420.9L58.1 414.3L61.8 420.9Z" fill="none" stroke="#999" stroke-width="1.0"/>
<path d="M78.4 420.4L82.1 413.8L85.8 420.4Z" fill="none" stroke="#999" stroke-width="1.0"/>
<path d="M83.4 419.3L87.1 412.7L90.8 419.3Z" fill="none" stroke="#999" stroke-width="1.0"/>
<path d="M98.6 418.0L102.3 411.4L105.9 418.0Z" fill="none" stroke="#999" stroke-width="1.0"/>
<path d="M101.6 416.7L105.1 410.3L108.6 416.7Z" fill="none" stroke="#999" stroke-width="1.0"/>
<path d="M102.4 415.8L106.0 409.3L109.6 415.8Z" fill="none" stroke="#999" stroke-width="1.0"/>
<path d="M104.9 414.8L108.5 408.2L112.2 414.8Z" fill="none" stroke="#999" stroke-width="1.0"/>
<path d="M108.3 412.9L112.0 406.1L115.8 412.9Z" fill="none" stroke="#999" stroke-width="1.0"/>
<path d="M109.3 412.9L113.1 406.0L116.9 412.9Z" fill="none" stroke="#999" stroke-width="1.0"/>
<path d="M112.6 412.6L116.3 405.9L120.1 412.6Z" fill="none" stroke="#999" stroke-width="1.0"/>
<path d="M114.1 412.2L117.8 405.4L121.6 412.2Z" fill="none" stroke="#999" stroke-width="1.0"/>
<path d="M116.9 410.3L120.8 403.4L124.6 410.3Z" fill="none" stroke="#999" stroke-width="1.0"/>
<path d="M119.7 411.2L123.6 404.3L127.4 411.2Z" fill="none" stroke="#999" stroke-width="1.0"/>
<path d="M122.8 410.9L126.5 404.3L130.2 410.9Z" fill="none" stroke="#999" stroke-width="1.0"/>
<path d="M125.3 409.7L129.1 402.7L133.0 409.7Z" fill="none" stroke="#999" stroke-width="1.0"/>
<path d="M128.2 408.3L131.8 401.9L135.3 408.3Z" fill="none" stroke="#999" stroke-width="1.0"/>
<path d="M129.2 409.8L132.9 403.2L136.6 409.8Z" fill="none" stroke="#999" stroke-width="1.0"/>
<path d="M132.5 408.0L136.2 401.3L139.9 408.0Z" fill="none" stroke="#999" stroke-width="1.0"/>
<path d="M134.4 407.5L138.1 400.8L141.8 407.5Z" fill="none" stroke="#999" stroke-width="1.0"/>
<path d="M137.2 408.0L140.9 401.2L144.7 408.0Z" fill="none" stroke="#999" stroke-width="1.0"/>
<path d="M140.2 407.5L144.0 400.5L147.9 407.5Z" fill="none" stroke="#999" stroke-width="1.0"/>
<path d="M142.1 405.5L146.0 398.6L149.8 405.5Z" fill="none" stroke="#999" stroke-width="1.0"/>
<path d="M145.1 405.9L148.8 399.2L152.5 405.9Z" fill="none" stroke="#999" stroke-width="1.0"/>
<path d="M146.6 403.2L150.4 396.3L154.2 403.2Z" fill="none" stroke="#999" stroke-width="1.0"/>
<path d="M148.7 401.8L152.3 395.4L155.8 401.8Z" fill="none" stroke="#999" stroke-width="1.0"/>
<path d="M151.5 402.0L155.0 395.6L158.6 402.0Z" fill="none" stroke="#999" stroke-width="1.0"/>
<path d="M153.5 399.6L157.0 393.1L160.6 399.6Z" fill="none" stroke="#999" stroke-width="1.0"/>
<path d="M154.3 399.1L158.1 392.2L161.9 399.1Z" fill="none" stroke="#999" stroke-width="1.0"/>
<path d="M156.2 397.2L159.7 390.8L163.2 397.2Z" fill="none" stroke="#999" stroke-width="1.0"/>
<path d="M159.3 395.5L163.1 388.6L167.0 395.5Z" fill="none" stroke="#999" stroke-width="1.0"/>
<path d="M161.8 394.5L165.7 387.5L169.6 394.5Z" fill="none" stroke="#999" stroke-width="1.0"/>
<path d="M162.9 392.6L166.7 385.8L170.4 392.6Z" fill="none" stroke="#999" stroke-width="1.0"/>
<path d="M164.8 391.9L168.5 385.3L172.1 391.9Z" fill="none" stroke="#999" stroke-width="1.0"/>
<path d="M168.4 390.8L172.0 384.4L175.5 390.8Z" fill="none" stroke="#999" stroke-width="1.0"/>
<path d="M171.0 390.5L174.8 383.6L178.7 390.5Z" fill="none" stroke="#999" stroke-width="1.0"/>
<path d="M173.5 389.6L177.2 383.0L180.9 389.6Z" fill="none" stroke="#999" stroke-width="1.0"/>
<path d="M175.0 389.1L178.7 382.4L182.5 389.1Z" fill="none" stroke="#999" stroke-width="1.0"/>
<path d="M177.2 388.1L181.0 381.1L184.9 388.1Z" fill="none" stroke="#999" stroke-width="1.0"/>
<path d="M179.4 386.5L183.2 379.7L187.0 386.5Z" fill="none" stroke="#999" stroke-width="1.0"/>
<path d="M181.0 385.2L184.9 378.2L188.7 385.2Z" fill="none" stroke="#999" stroke-width="1.0"/>
<path d="M184.0 384.0L187.5 377.6L191.0 384.0Z" fill="none" stroke="#999" stroke-width="1.0"/>
<path d="M185.7 382.5L189.2 376.2L192.8 382.5Z" fill="none" stroke="#999" stroke-width="1.0"/>
<path d="M188.1 381.1L191.6 374.7L195.1 381.1Z" fill="none" stroke="#999" stroke-width="1.0"/>
<path d="M189.8 379.4L193.6 372.6L197.4 379.4Z" fill="none" stroke="#999" stroke-width="1.0"/>
<path d="M190.9 378.1L194.7 371.2L198.5 378.1Z" fill="none" stroke="#999" stroke-width="1.0"/>
<path d="M191.9 374.8L195.7 368.0L199.4 374.8Z" fill="none" stroke="#999" stroke-width="1.0"/>
<path d="M195.5 373.2L199.2 366.6L202.8 373.2Z" fill="none" stroke="#999" stroke-width="1.0"/>
<path d="M196.4 371.4L200.0 364.8L203.7 371.4Z" fill="none" stroke="#999" stroke-width="1.0"/>
<path d="M197.3 369.7L201.1 362.9L204.8 369.7Z" fill="none" stroke="#999" stroke-width="1.0"/>
<path d="M198.5 367.6L202.3 360.8L206.1 367.6Z" fill="none" stroke="#999" stroke-width="1.0"/>
<path d="M199.3 365.9L203.1 359.0L206.9 365.9Z" fill="none" stroke="#999" stroke-width="1.0"/>
<path d="M201.2 363.1L205.0 356.2L208.8 363.1Z" fill="none" stroke="#999" stroke-width="1.0"/>
<path d="M202.5 360.7L206.2 354.1L209.9 360.7Z" fill="none" stroke="#999" stroke-width="1.0"/>
<path d="M204.8 358.4L208.4 351.9L212.1 358.4Z" fill="none" stroke="#999" stroke-width="1.0"/>
<path d="M205.3 357.8L209.0 351.1L212.6 357.8Z" fill="none" stroke="#999" stroke-width="1.0"/>
<path d="M207.5 354.2L211.1 347.6L214.8 354.2Z" fill="none" stroke="#999" stroke-width="1.0"/>
<path d="M208.1 353.4L211.8 346.8L215.5 353.4Z" fill="none" stroke="#999" stroke-width="1.0"/>
<path d="M208.4 349.7L212.1 343.0L215.8 349.7Z" fill="none" stroke="#999" stroke-width="1.0"/>
<path d="M209.3 348.9L213.1 342.0L217.0 348.9Z" fill="none" stroke="#999" stroke-width="1.0"/>
<path d="M210.4 345.6L214.2 338.7L218.0 345.6Z" fill="none" stroke="#999" stroke-width="1.0"/>
<path d="M212.4 344.2L216.1 337.6L219.7 344.2Z" fill="none" stroke="#999" stroke-width="1.0"/>
<path d="M212.1 340.9L215.9 334.1L219.7 340.9Z" fill="none" stroke="#999" stroke-width="1.0"/>
<path d="M213.4 338.6L217.1 332.0L220.8 338.6Z" fill="none" stroke="#999" stroke-width="1.0"/>
<path d="M214.4 336.5L218.3 329.6L222.1 336.5Z" fill="none" stroke="#999" stroke-width="1.0"/>
<path d="M214.8 333.4L218.6 326.5L222.5 333.4Z" fill="none" stroke="#999" stroke-width="1.0"/>
<path d="M217.1 332.8L220.8 326.2L224.4 332.8Z" fill="none" stroke="#999" stroke-width="1.0"/>
<path d="M217.9 330.2L221.5 323.7L225.1 330.2Z" fill="none" stroke="#999" stroke-width="1.0"/>
<path d="M217.9 327.7L221.7 321.0L225.5 327.7Z" fill="none" stroke="#999" stroke-width="1.0"/>
<path d="M218.2 324.1L221.8 317.5L225.5 324.1Z" fill="none" stroke="#999" stroke-width="1.0"/>
<path d="M218.1 321.3L221.9 314.6L225.6 321.3Z" fill="none" stroke="#999" stroke-width="1.0"/>
<path d="M219.1 320.2L222.6 313.8L226.1 320.2Z" fill="none" stroke="#999" stroke-width="1.0"/>
<path d="M220.6 317.8L224.4 310.9L228.3 317.8Z" fill="none" stroke="#999" stroke-width="1.0"/>
<path d="M221.3 315.7L225.0 309.0L228.8 315.7Z" fill="none" stroke="#999" stroke-width="1.0"/>
<path d="M220.3 312.8L223.9 306.4L227.5 312.8Z" fill="none" stroke="#999" stroke-width="1.0"/>
<path d="M221.4 310.4L225.1 303.7L228.8 310.4Z" fill="none" stroke="#999" stroke-width="1.0"/>
<path d="M222.4 308.6L226.1 301.8L229.8 308.6Z" fill="none" stroke="#999" stroke-width="1.0"/>
<path d="M223.0 304.9L226.8 298.0L230.7 304.9Z" fill="none" stroke="#999" stroke-width="1.0"/>
<path d="M224.3 303.5L228.0 296.9L231.6 303.5Z" fill="none" stroke="#999" stroke-width="1.0"/>
<path d="M224.5 300.8L228.3 293.9L232.1 300.8Z" fill="none" stroke="#999" stroke-width="1.0"/>
<path d="M225.2 299.0L229.1 292.1L232.9 299.0Z" fill="none" stroke="#999" stroke-width="1.0"/>
<path d="M227.7 296.4L231.2 290.1L234.7 296.4Z" fill="none" stroke="#999" stroke-width="1.0"/>
<path d="M228.2 294.2L231.8 287.8L235.3 294.2Z" fill="none" stroke="#999" stroke-width="1.0"/>
<path d="M228.2 290.8L231.9 284.1L235.6 290.8Z" fill="none" stroke="#999" stroke-width="1.0"/>
<path d="M229.3 289.0L233.1 282.1L236.9 289.0Z" fill="none" stroke="#999" stroke-width="1.0"/>
<path d="M229.6 285.6L233.2 279.2L236.7 285.6Z" fill="none" stroke="#999" stroke-width="1.0"/>
<path d="M230.5 283.6L234.3 276.6L238.2 283.6Z" fill="none" stroke="#999" stroke-width="1.0"/>
<path d="M233.1 281.1L236.8 274.5L240.5 281.1Z" fill="none" stroke="#999" stroke-width="1.0"/>
<path d="M233.0 279.2L236.7 272.7L240.3 279.2Z" fill="none" stroke="#999" stroke-width="1.0"/>
<path d="M234.7 277.5L238.3 270.9L242.0 277.5Z" fill="none" stroke="#999" stroke-width="1.0"/>
<path d="M234.8 274.6L238.4 268.2L241.9 274.6Z" fill="none" stroke="#999" stroke-width="1.0"/>
<path d="M236.4 273.2L240.1 266.6L243.7 273.2Z" fill="none" stroke="#999" stroke-width="1.0"/>
<path d="M236.5 269.8L240.1 263.2L243.8 269.8Z" fill="none" stroke="#999" stroke-width="1.0"/>
<path d="M238.5 268.7L242.2 262.1L245.8 268.7Z" fill="none" stroke="#999" stroke-width="1.0"/>
<path d="M239.9 266.1L243.5 259.5L247.2 266.1Z" fill="none" stroke="#999" stroke-width="1.0"/>
<path d="M239.9 263.6L243.7 256.8L247.4 263.6Z" fill="none" stroke="#999" stroke-width="1.0"/>
<path d="M241.2 261.7L244.9 255.1L248.6 261.7Z" fill="none" stroke="#999" stroke-width="1.0"/>
<path d="M241.9 259.2L245.6 252.4L249.4 259.2Z" fill="none" stroke="#999" stroke-width="1.0"/>
<path d="M242.7 256.7L246.4 250.1L250.1 256.7Z" fill="none" stroke="#999" stroke-width="1.0"/>
<path d="M245.5 255.4L249.1 248.9L252.8 255.4Z" fill="none" stroke="#999" stroke-width="1.0"/>
<path d="M247.5 253.6L251.1 247.1L254.7 253.6Z" fill="none" stroke="#999" stroke-width="1.0"/>
<path d="M248.5 251.0L252.3 244.1L256.1 251.0Z" fill="none" stroke="#999" stroke-width="1.0"/>
<path d="M250.9 251.0L254.7 244.1L258.5 251.0Z" fill="none" stroke="#999" stroke-width="1.0"/>
<path d="M253.4 249.9L257.1 243.2L260.8 249.9Z" fill="none" stroke="#999" stroke-width="1.0"/>
<path d="M254.8 248.7L258.3 242.4L261.9 248.7Z" fill="none" stroke="#999" stroke-width="1.0"/>
<path d="M257.3 248.4L260.8 242.0L264.4 248.4Z" fill="none" stroke="#999" stroke-width="1.0"/>
<path d="M272.8 247.8L276.5 241.2L280.2 247.8Z" fill="none" stroke="#999" stroke-width="1.0"/>
<path d="M276.1 247.4L279.8 240.8L283.5 247.4Z" fill="none" stroke="#999" stroke-width="1.0"/>
<path d="M280.3 247.0L284.0 240.4L287.7 247.0Z" fill="none" stroke="#999" stroke-width="1.0"/>
<path d="M284.0 246.5L287.7 239.9L291.4 246.5Z" fill="none" stroke="#999" stroke-width="1.0"/>
<circle cx="87.9" cy="422.9" r="2.53" fill="#141414"/>
<circle cx="89.5" cy="421.3" r="2.53" fill="#141414"/>
<circle cx="93.7" cy="418.0" r="2.53" fill="#141414"/>
<circle cx="96.2" cy="415.5" r="2.53" fill="#141414"/>
<circle cx="99.5" cy="413.3" r="2.53" fill="#141414"/>
<circle cx="106.4" cy="411.1" r="2.12" fill="#141414"/>
<circle cx="107.9" cy="410.8" r="2.37" fill="#141414"/>
<circle cx="109.4" cy="410.0" r="2.28" fill="#141414"/>
<circle cx="111.1" cy="409.1" r="2.17" fill="#141414"/>
<circle cx="112.2" cy="408.3" r="2.31" fill="#141414"/>
<circle cx="113.1" cy="407.9" r="2.19" fill="#141414"/>
<circle cx="114.3" cy="406.5" r="2.21" fill="#141414"/>
<circle cx="114.5" cy="405.6" r="2.36" fill="#141414"/>
<circle cx="114.7" cy="403.9" r="2.14" fill="#141414"/>
<circle cx="116.1" cy="402.4" r="2.31" fill="#141414"/>
<circle cx="116.9" cy="401.5" r="2.37" fill="#141414"/>
<circle cx="117.3" cy="399.7" r="2.33" fill="#141414"/>
<circle cx="118.8" cy="399.6" r="2.44" fill="#141414"/>
<circle cx="119.6" cy="398.2" r="2.38" fill="#141414"/>
<circle cx="120.4" cy="397.5" r="2.12" fill="#141414"/>
<circle cx="120.7" cy="395.9" r="2.46" fill="#141414"/>
<circle cx="121.2" cy="393.8" r="2.33" fill="#141414"/>
<circle cx="121.4" cy="392.8" r="2.24" fill="#141414"/>
<circle cx="121.7" cy="391.2" r="2.40" fill="#141414"/>
<circle cx="122.4" cy="389.8" r="2.33" fill="#141414"/>
<circle cx="123.2" cy="387.9" r="2.25" fill="#141414"/>
<circle cx="124.6" cy="387.4" r="2.40" fill="#141414"/>
<circle cx="125.8" cy="385.9" r="2.38" fill="#141414"/>
<circle cx="126.3" cy="384.7" r="2.20" fill="#141414"/>
<circle cx="127.2" cy="384.0" r="2.44" fill="#141414"/>
<circle cx="127.9" cy="383.2" r="2.27" fill="#141414"/>
<circle cx="129.7" cy="382.4" r="2.18" fill="#141414"/>
<circle cx="130.9" cy="380.7" r="2.24" fill="#141414"/>
<circle cx="132.2" cy="380.3" r="2.12" fill="#141414"/>
<circle cx="132.5" cy="380.0" r="2.43" fill="#141414"/>
<circle cx="134.6" cy="378.3" r="2.23" fill="#141414"/>
<circle cx="135.3" cy="376.9" r="2.34" fill="#141414"/>
<circle cx="135.8" cy="376.0" r="2.39" fill="#141414"/>
<circle cx="136.9" cy="375.8" r="2.36" fill="#141414"/>
<circle cx="138.4" cy="374.3" r="2.20" fill="#141414"/>
<circle cx="139.8" cy="372.5" r="2.45" fill="#141414"/>
<circle cx="139.8" cy="371.8" r="2.32" fill="#141414"/>
<circle cx="140.2" cy="369.9" r="2.25" fill="#141414"/>
<circle cx="141.0" cy="368.6" r="2.41" fill="#141414"/>
<circle cx="141.6" cy="366.9" r="2.15" fill="#141414"/>
<circle cx="142.3" cy="366.1" r="2.17" fill="#141414"/>
<circle cx="142.5" cy="364.7" r="2.38" fill="#141414"/>
<circle cx="143.2" cy="363.8" r="2.12" fill="#141414"/>
<circle cx="144.4" cy="362.3" r="2.25" fill="#141414"/>
<circle cx="144.3" cy="360.4" r="2.37" fill="#141414"/>
<circle cx="145.9" cy="359.6" r="2.15" fill="#141414"/>
<circle cx="146.4" cy="358.6" r="2.16" fill="#141414"/>
<circle cx="147.7" cy="357.1" r="2.20" fill="#141414"/>
<circle cx="149.1" cy="357.0" r="2.12" fill="#141414"/>
<circle cx="150.0" cy="355.5" r="2.20" fill="#141414"/>
<circle cx="151.0" cy="353.9" r="2.19" fill="#141414"/>
<circle cx="151.6" cy="353.6" r="2.23" fill="#141414"/>
<circle cx="152.9" cy="352.2" r="2.37" fill="#141414"/>
<circle cx="153.3" cy="350.4" r="2.31" fill="#141414"/>
<circle cx="154.0" cy="349.1" r="2.25" fill="#141414"/>
<circle cx="154.5" cy="348.2" r="2.26" fill="#141414"/>
<circle cx="155.7" cy="347.0" r="2.14" fill="#141414"/>
<circle cx="157.3" cy="346.2" r="2.47" fill="#141414"/>
<circle cx="158.1" cy="345.3" r="2.41" fill="#141414"/>
<circle cx="159.3" cy="344.1" r="2.33" fill="#141414"/>
<circle cx="160.1" cy="343.0" r="2.45" fill="#141414"/>
<circle cx="162.0" cy="342.4" r="2.12" fill="#141414"/>
<circle cx="162.7" cy="341.1" r="2.23" fill="#141414"/>
<circle cx="163.2" cy="339.9" r="2.24" fill="#141414"/>
<circle cx="165.0" cy="338.4" r="2.43" fill="#141414"/>
<circle cx="165.8" cy="337.4" r="2.38" fill="#141414"/>
<circle cx="167.1" cy="336.7" r="2.22" fill="#141414"/>
<circle cx="167.3" cy="335.5" r="2.40" fill="#141414"/>
<circle cx="168.9" cy="334.0" r="2.36" fill="#141414"/>
<circle cx="170.1" cy="333.1" r="2.37" fill="#141414"/>
<circle cx="171.1" cy="332.7" r="2.12" fill="#141414"/>
<circle cx="172.5" cy="331.4" r="2.17" fill="#141414"/>
<circle cx="172.6" cy="329.9" r="2.34" fill="#141414"/>
<circle cx="174.2" cy="328.9" r="2.43" fill="#141414"/>
<circle cx="175.2" cy="328.1" r="2.37" fill="#141414"/>
<circle cx="176.6" cy="326.5" r="2.15" fill="#141414"/>
<circle cx="177.2" cy="326.2" r="2.44" fill="#141414"/>
<circle cx="178.4" cy="324.4" r="2.35" fill="#141414"/>
<circle cx="179.8" cy="324.1" r="2.18" fill="#141414"/>
<circle cx="180.1" cy="322.8" r="2.20" fill="#141414"/>
<circle cx="181.5" cy="322.1" r="2.40" fill="#141414"/>
<circle cx="182.9" cy="321.3" r="2.38" fill="#141414"/>
<circle cx="183.6" cy="319.8" r="2.23" fill="#141414"/>
<circle cx="185.9" cy="319.1" r="2.22" fill="#141414"/>
<circle cx="187.1" cy="319.0" r="2.25" fill="#141414"/>
<circle cx="187.8" cy="317.7" r="2.13" fill="#141414"/>
<circle cx="189.5" cy="316.6" r="2.48" fill="#141414"/>
<circle cx="190.5" cy="315.8" r="2.33" fill="#141414"/>
<circle cx="191.4" cy="314.2" r="2.37" fill="#141414"/>
<circle cx="192.2" cy="313.4" r="2.44" fill="#141414"/>
<circle cx="192.4" cy="311.6" r="2.20" fill="#141414"/>
<circle cx="194.0" cy="310.7" r="2.24" fill="#141414"/>
<circle cx="193.7" cy="309.4" r="2.21" fill="#141414"/>
<circle cx="194.8" cy="307.7" r="2.16" fill="#141414"/>
<circle cx="195.0" cy="307.4" r="2.40" fill="#141414"/>
<circle cx="195.9" cy="305.3" r="2.20" fill="#141414"/>
<circle cx="197.2" cy="304.4" r="2.38" fill="#141414"/>
<circle cx="198.3" cy="302.8" r="2.33" fill="#141414"/>
<circle cx="198.7" cy="302.2" r="2.14" fill="#141414"/>
<circle cx="200.1" cy="300.7" r="2.37" fill="#141414"/>
<circle cx="201.1" cy="300.3" r="2.15" fill="#141414"/>
<circle cx="201.6" cy="298.6" r="2.29" fill="#141414"/>
<circle cx="202.1" cy="297.4" r="2.32" fill="#141414"/>
<circle cx="203.6" cy="296.5" r="2.40" fill="#141414"/>
<circle cx="203.7" cy="294.8" r="2.29" fill="#141414"/>
<circle cx="204.1" cy="293.4" r="2.21" fill="#141414"/>
<circle cx="204.9" cy="292.1" r="2.20" fill="#141414"/>
<circle cx="206.1" cy="290.9" r="2.18" fill="#141414"/>
<circle cx="206.5" cy="288.7" r="2.35" fill="#141414"/>
<circle cx="206.7" cy="287.4" r="2.41" fill="#141414"/>
<circle cx="206.6" cy="285.8" r="2.41" fill="#141414"/>
<circle cx="207.0" cy="285.0" r="2.45" fill="#141414"/>
<circle cx="207.5" cy="283.9" r="2.39" fill="#141414"/>
<circle cx="208.9" cy="282.4" r="2.40" fill="#141414"/>
<circle cx="209.3" cy="280.8" r="2.41" fill="#141414"/>
<circle cx="211.3" cy="280.4" r="2.44" fill="#141414"/>
<circle cx="212.3" cy="279.6" r="2.45" fill="#141414"/>
<circle cx="212.8" cy="277.6" r="2.25" fill="#141414"/>
<circle cx="214.4" cy="277.2" r="2.17" fill="#141414"/>
<circle cx="214.9" cy="276.0" r="2.13" fill="#141414"/>
<circle cx="216.6" cy="275.1" r="2.46" fill="#141414"/>
<circle cx="217.8" cy="274.1" r="2.18" fill="#141414"/>
<circle cx="218.8" cy="273.8" r="2.40" fill="#141414"/>
<circle cx="219.5" cy="271.9" r="2.17" fill="#141414"/>
<circle cx="221.0" cy="270.8" r="2.45" fill="#141414"/>
<circle cx="222.2" cy="270.6" r="2.36" fill="#141414"/>
<circle cx="223.6" cy="270.1" r="2.13" fill="#141414"/>
<circle cx="225.6" cy="270.1" r="2.47" fill="#141414"/>
<circle cx="226.4" cy="268.6" r="2.16" fill="#141414"/>
<circle cx="228.0" cy="268.5" r="2.31" fill="#141414"/>
<circle cx="229.5" cy="268.3" r="2.36" fill="#141414"/>
<circle cx="230.7" cy="267.0" r="2.32" fill="#141414"/>
<circle cx="231.5" cy="265.9" r="2.47" fill="#141414"/>
<circle cx="233.2" cy="265.5" r="2.13" fill="#141414"/>
<circle cx="234.5" cy="264.3" r="2.25" fill="#141414"/>
<circle cx="235.4" cy="264.0" r="2.19" fill="#141414"/>
<circle cx="236.8" cy="262.5" r="2.39" fill="#141414"/>
<circle cx="237.8" cy="262.6" r="2.21" fill="#141414"/>
<circle cx="239.4" cy="261.0" r="2.21" fill="#141414"/>
<circle cx="240.2" cy="260.5" r="2.27" fill="#141414"/>
<circle cx="241.6" cy="260.2" r="2.16" fill="#141414"/>
<circle cx="243.3" cy="259.1" r="2.28" fill="#141414"/>
<circle cx="244.7" cy="259.0" r="2.33" fill="#141414"/>
<circle cx="245.8" cy="258.9" r="2.20" fill="#141414"/>
<circle cx="247.0" cy="258.0" r="2.42" fill="#141414"/>
<circle cx="248.7" cy="257.4" r="2.33" fill="#141414"/>
<circle cx="249.8" cy="255.6" r="2.38" fill="#141414"/>
<circle cx="251.6" cy="255.8" r="2.21" fill="#141414"/>
<circle cx="253.2" cy="254.9" r="2.29" fill="#141414"/>
<circle cx="253.8" cy="253.5" r="2.35" fill="#141414"/>
<circle cx="255.3" cy="253.5" r="2.18" fill="#141414"/>
<circle cx="256.6" cy="252.4" r="2.14" fill="#141414"/>
<circle cx="257.4" cy="251.8" r="2.45" fill="#141414"/>
<circle cx="259.2" cy="250.5" r="2.47" fill="#141414"/>
<circle cx="260.3" cy="250.0" r="2.21" fill="#141414"/>
<circle cx="261.6" cy="249.5" r="2.29" fill="#141414"/>
<circle cx="263.2" cy="248.8" r="2.37" fill="#141414"/>
<circle cx="264.1" cy="248.2" r="2.12" fill="#141414"/>
<circle cx="265.5" cy="247.2" r="2.45" fill="#141414"/>
<circle cx="267.3" cy="247.0" r="2.13" fill="#141414"/>
<circle cx="268.2" cy="246.2" r="2.32" fill="#141414"/>
<circle cx="269.9" cy="245.8" r="2.40" fill="#141414"/>
<circle cx="270.8" cy="244.2" r="2.31" fill="#141414"/>
<circle cx="291.8" cy="242.0" r="3.08" fill="#141414"/>
<text x="252.8" y="360.6" font-size="10.5" font-weight="bold" fill="#111" stroke="#111" stroke-width="0.3" font-family='"Liberation Sans", Arial, sans-serif'>pH</text>
<line x1="390.5" y1="417.2" x2="390.5" y2="249.0" stroke="#555" stroke-width="1.3"/>
<line x1="387.5" y1="417.2" x2="390.5" y2="417.2" stroke="#555" stroke-width="1.1"/>
<text x="383.3" y="420.4" font-size="9" text-anchor="end" fill="#333" stroke="#333" stroke-width="0.25" font-weight="normal" font-family='"Liberation Sans", Arial, sans-serif'  textLength="4.50" lengthAdjust="spacingAndGlyphs">0</text>
<line x1="387.5" y1="400.4" x2="390.5" y2="400.4" stroke="#555" stroke-width="1.1"/>
<text x="383.3" y="403.6" font-size="9" text-anchor="end" fill="#333" stroke="#333" stroke-width="0.25" font-weight="normal" font-family='"Liberation Sans", Arial, sans-serif'  textLength="9.01" lengthAdjust="spacingAndGlyphs">10</text>
<line x1="387.5" y1="383.6" x2="390.5" y2="383.6" stroke="#555" stroke-width="1.1"/>
<text x="383.3" y="386.8" font-size="9" text-anchor="end" fill="#333" stroke="#333" stroke-width="0.25" font-weight="normal" font-family='"Liberation Sans", Arial, sans-serif'  textLength="9.01" lengthAdjust="spacingAndGlyphs">20</text>
<line x1="387.5" y1="366.7" x2="390.5" y2="366.7" stroke="#555" stroke-width="1.1"/>
<text x="383.3" y="369.9" font-size="9" text-anchor="end" fill="#333" stroke="#333" stroke-width="0.25" font-weight="normal" font-family='"Liberation Sans", Arial, sans-serif'  textLength="9.01" lengthAdjust="spacingAndGlyphs">30</text>
<line x1="387.5" y1="349.9" x2="390.5" y2="349.9" stroke="#555" stroke-width="1.1"/>
<text x="383.3" y="353.1" font-size="9" text-anchor="end" fill="#333" stroke="#333" stroke-width="0.25" font-weight="normal" font-family='"Liberation Sans", Arial, sans-serif'  textLength="9.01" lengthAdjust="spacingAndGlyphs">40</text>
<line x1="387.5" y1="333.1" x2="390.5" y2="333.1" stroke="#555" stroke-width="1.1"/>
<text x="383.3" y="336.3" font-size="9" text-anchor="end" fill="#333" stroke="#333" stroke-width="0.25" font-weight="normal" font-family='"Liberation Sans", Arial, sans-serif'  textLength="9.01" lengthAdjust="spacingAndGlyphs">50</text>
<line x1="387.5" y1="316.3" x2="390.5" y2="316.3" stroke="#555" stroke-width="1.1"/>
<text x="383.3" y="319.5" font-size="9" text-anchor="end" fill="#333" stroke="#333" stroke-width="0.25" font-weight="normal" font-family='"Liberation Sans", Arial, sans-serif'  textLength="9.01" lengthAdjust="spacingAndGlyphs">60</text>
<line x1="387.5" y1="299.5" x2="390.5" y2="299.5" stroke="#555" stroke-width="1.1"/>
<text x="383.3" y="302.7" font-size="9" text-anchor="end" fill="#333" stroke="#333" stroke-width="0.25" font-weight="normal" font-family='"Liberation Sans", Arial, sans-serif'  textLength="9.01" lengthAdjust="spacingAndGlyphs">70</text>
<line x1="387.5" y1="282.6" x2="390.5" y2="282.6" stroke="#555" stroke-width="1.1"/>
<text x="383.3" y="285.8" font-size="9" text-anchor="end" fill="#333" stroke="#333" stroke-width="0.25" font-weight="normal" font-family='"Liberation Sans", Arial, sans-serif'  textLength="9.01" lengthAdjust="spacingAndGlyphs">80</text>
<line x1="387.5" y1="265.8" x2="390.5" y2="265.8" stroke="#555" stroke-width="1.1"/>
<text x="383.3" y="269.0" font-size="9" text-anchor="end" fill="#333" stroke="#333" stroke-width="0.25" font-weight="normal" font-family='"Liberation Sans", Arial, sans-serif'  textLength="9.01" lengthAdjust="spacingAndGlyphs">90</text>
<line x1="387.5" y1="249.0" x2="390.5" y2="249.0" stroke="#555" stroke-width="1.1"/>
<text x="383.3" y="252.2" font-size="9" text-anchor="end" fill="#333" stroke="#333" stroke-width="0.25" font-weight="normal" font-family='"Liberation Sans", Arial, sans-serif'  textLength="13.51" lengthAdjust="spacingAndGlyphs">100</text>
<line x1="390.5" y1="417.2" x2="701.6" y2="417.2" stroke="#555" stroke-width="1.3"/>
<line x1="390.5" y1="417.2" x2="390.5" y2="420.2" stroke="#555" stroke-width="1.1"/>
<text x="390.5" y="431.7" font-size="9" text-anchor="middle" fill="#333" stroke="#333" stroke-width="0.25" font-weight="normal" font-family='"Liberation Sans", Arial, sans-serif' >0</text>
<line x1="431.9" y1="417.2" x2="431.9" y2="420.2" stroke="#555" stroke-width="1.1"/>
<text x="431.9" y="431.7" font-size="9" text-anchor="middle" fill="#333" stroke="#333" stroke-width="0.25" font-weight="normal" font-family='"Liberation Sans", Arial, sans-serif' >200</text>
<line x1="473.3" y1="417.2" x2="473.3" y2="420.2" stroke="#555" stroke-width="1.1"/>
<text x="473.3" y="431.7" font-size="9" text-anchor="middle" fill="#333" stroke="#333" stroke-width="0.25" font-weight="normal" font-family='"Liberation Sans", Arial, sans-serif' >400</text>
<line x1="514.7" y1="417.2" x2="514.7" y2="420.2" stroke="#555" stroke-width="1.1"/>
<text x="514.7" y="431.7" font-size="9" text-anchor="middle" fill="#333" stroke="#333" stroke-width="0.25" font-weight="normal" font-family='"Liberation Sans", Arial, sans-serif' >600</text>
<line x1="556.1" y1="417.2" x2="556.1" y2="420.2" stroke="#555" stroke-width="1.1"/>
<text x="556.1" y="431.7" font-size="9" text-anchor="middle" fill="#333" stroke="#333" stroke-width="0.25" font-weight="normal" font-family='"Liberation Sans", Arial, sans-serif' >800</text>
<line x1="597.5" y1="417.2" x2="597.5" y2="420.2" stroke="#555" stroke-width="1.1"/>
<text x="597.5" y="431.7" font-size="9" text-anchor="middle" fill="#333" stroke="#333" stroke-width="0.25" font-weight="normal" font-family='"Liberation Sans", Arial, sans-serif' >1000</text>
<line x1="638.9" y1="417.2" x2="638.9" y2="420.2" stroke="#555" stroke-width="1.1"/>
<text x="638.9" y="431.7" font-size="9" text-anchor="middle" fill="#333" stroke="#333" stroke-width="0.25" font-weight="normal" font-family='"Liberation Sans", Arial, sans-serif' >1200</text>
<line x1="680.3" y1="417.2" x2="680.3" y2="420.2" stroke="#555" stroke-width="1.1"/>
<text x="680.3" y="431.7" font-size="9" text-anchor="middle" fill="#333" stroke="#333" stroke-width="0.25" font-weight="normal" font-family='"Liberation Sans", Arial, sans-serif' >1400</text>
<polyline points="389.0,415.0 391.5,410.0 396.0,405.0 401.6,390.7 407.1,374.1 411.5,360.9 415.9,354.3 420.3,344.3 422.7,340.0 425.8,334.4 427.1,330.0 431.5,316.8 435.9,304.7 440.3,296.9" fill="none" stroke="#959595" stroke-width="7.4" stroke-linecap="round" stroke-linejoin="round" opacity="1"/>
<path d="M434.0 302.7L437.6 296.1L441.3 302.7Z" fill="#ddd" stroke="#aaa" stroke-width="1.0"/>
<path d="M435.0 301.1L438.7 294.5L442.4 301.1Z" fill="#ddd" stroke="#aaa" stroke-width="1.0"/>
<path d="M437.1 300.6L440.9 293.8L444.7 300.6Z" fill="#ddd" stroke="#aaa" stroke-width="1.0"/>
<path d="M437.0 298.2L440.7 291.7L444.3 298.2Z" fill="#ddd" stroke="#aaa" stroke-width="1.0"/>
<path d="M437.7 295.7L441.3 289.2L444.9 295.7Z" fill="#ddd" stroke="#aaa" stroke-width="1.0"/>
<path d="M439.2 295.0L443.1 288.2L446.9 295.0Z" fill="#ddd" stroke="#aaa" stroke-width="1.0"/>
<path d="M439.9 292.1L443.6 285.6L447.2 292.1Z" fill="#ddd" stroke="#aaa" stroke-width="1.0"/>
<path d="M440.2 291.2L444.0 284.3L447.9 291.2Z" fill="#ddd" stroke="#aaa" stroke-width="1.0"/>
<path d="M441.4 288.3L445.1 281.6L448.8 288.3Z" fill="#ddd" stroke="#aaa" stroke-width="1.0"/>
<path d="M441.9 286.9L445.5 280.4L449.1 286.9Z" fill="#ddd" stroke="#aaa" stroke-width="1.0"/>
<path d="M442.1 284.7L445.9 277.7L449.8 284.7Z" fill="#ddd" stroke="#aaa" stroke-width="1.0"/>
<path d="M443.6 283.2L447.2 276.7L450.8 283.2Z" fill="#ddd" stroke="#aaa" stroke-width="1.0"/>
<path d="M444.5 281.8L448.3 274.9L452.2 281.8Z" fill="#ddd" stroke="#aaa" stroke-width="1.0"/>
<path d="M445.8 280.0L449.5 273.4L453.2 280.0Z" fill="#ddd" stroke="#aaa" stroke-width="1.0"/>
<path d="M446.8 278.3L450.4 271.9L454.0 278.3Z" fill="#ddd" stroke="#aaa" stroke-width="1.0"/>
<path d="M447.8 277.3L451.3 270.9L454.9 277.3Z" fill="#ddd" stroke="#aaa" stroke-width="1.0"/>
<path d="M449.1 276.1L452.7 269.6L456.3 276.1Z" fill="#ddd" stroke="#aaa" stroke-width="1.0"/>
<path d="M451.4 274.9L455.1 268.3L458.7 274.9Z" fill="#ddd" stroke="#aaa" stroke-width="1.0"/>
<path d="M453.8 273.5L457.4 266.9L461.1 273.5Z" fill="#ddd" stroke="#aaa" stroke-width="1.0"/>
<path d="M454.5 273.1L458.1 266.6L461.7 273.1Z" fill="#ddd" stroke="#aaa" stroke-width="1.0"/>
<path d="M456.5 272.4L460.1 265.8L463.7 272.4Z" fill="#ddd" stroke="#aaa" stroke-width="1.0"/>
<path d="M458.6 271.6L462.2 265.2L465.7 271.6Z" fill="#ddd" stroke="#aaa" stroke-width="1.0"/>
<path d="M469.5 268.2L473.3 261.4L477.1 268.2Z" fill="none" stroke="#888" stroke-width="1.0"/>
<path d="M478.6 266.6L482.4 259.8L486.2 266.6Z" fill="none" stroke="#888" stroke-width="1.0"/>
<path d="M484.4 265.4L488.2 258.6L492.0 265.4Z" fill="none" stroke="#888" stroke-width="1.0"/>
<path d="M490.7 264.9L494.5 258.1L498.3 264.9Z" fill="none" stroke="#888" stroke-width="1.0"/>
<path d="M503.5 263.3L507.3 256.5L511.1 263.3Z" fill="none" stroke="#888" stroke-width="1.0"/>
<path d="M511.2 261.3L515.0 254.5L518.8 261.3Z" fill="none" stroke="#888" stroke-width="1.0"/>
<path d="M518.8 260.3L522.6 253.5L526.4 260.3Z" fill="none" stroke="#888" stroke-width="1.0"/>
<path d="M522.8 259.6L526.6 252.8L530.4 259.6Z" fill="none" stroke="#888" stroke-width="1.0"/>
<path d="M531.6 259.1L535.4 252.3L539.2 259.1Z" fill="none" stroke="#888" stroke-width="1.0"/>
<path d="M552.6 257.5L556.4 250.7L560.2 257.5Z" fill="none" stroke="#888" stroke-width="1.0"/>
<path d="M560.6 256.3L564.4 249.5L568.2 256.3Z" fill="none" stroke="#888" stroke-width="1.0"/>
<path d="M594.1 254.6L597.9 247.8L601.7 254.6Z" fill="none" stroke="#888" stroke-width="1.0"/>
<circle cx="390.8" cy="416.3" r="2.37" fill="#141414"/>
<circle cx="391.2" cy="415.2" r="2.58" fill="#141414"/>
<circle cx="392.5" cy="414.4" r="2.22" fill="#141414"/>
<circle cx="393.7" cy="412.6" r="2.40" fill="#141414"/>
<circle cx="395.0" cy="412.5" r="2.41" fill="#141414"/>
<circle cx="396.6" cy="411.0" r="2.26" fill="#141414"/>
<circle cx="397.2" cy="410.5" r="2.48" fill="#141414"/>
<circle cx="397.0" cy="408.5" r="2.31" fill="#141414"/>
<circle cx="397.9" cy="407.7" r="2.31" fill="#141414"/>
<circle cx="397.8" cy="406.3" r="2.54" fill="#141414"/>
<circle cx="399.2" cy="404.0" r="2.31" fill="#141414"/>
<circle cx="399.1" cy="403.6" r="2.26" fill="#141414"/>
<circle cx="399.6" cy="401.4" r="2.51" fill="#141414"/>
<circle cx="400.2" cy="400.9" r="2.33" fill="#141414"/>
<circle cx="401.0" cy="398.5" r="2.32" fill="#141414"/>
<circle cx="401.4" cy="397.9" r="2.30" fill="#141414"/>
<circle cx="401.1" cy="395.4" r="2.28" fill="#141414"/>
<circle cx="401.4" cy="394.4" r="2.43" fill="#141414"/>
<circle cx="402.2" cy="392.9" r="2.42" fill="#141414"/>
<circle cx="403.3" cy="392.0" r="2.58" fill="#141414"/>
<circle cx="404.4" cy="390.5" r="2.58" fill="#141414"/>
<circle cx="405.2" cy="389.4" r="2.58" fill="#141414"/>
<circle cx="404.5" cy="388.6" r="2.27" fill="#141414"/>
<circle cx="405.7" cy="386.8" r="2.58" fill="#141414"/>
<circle cx="405.3" cy="385.3" r="2.57" fill="#141414"/>
<circle cx="405.5" cy="383.3" r="2.42" fill="#141414"/>
<circle cx="405.8" cy="381.7" r="2.21" fill="#141414"/>
<circle cx="406.4" cy="380.9" r="2.39" fill="#141414"/>
<circle cx="407.0" cy="378.8" r="2.25" fill="#141414"/>
<circle cx="407.3" cy="377.5" r="2.21" fill="#141414"/>
<circle cx="407.1" cy="376.6" r="2.58" fill="#141414"/>
<circle cx="408.0" cy="374.4" r="2.28" fill="#141414"/>
<circle cx="408.6" cy="373.8" r="2.29" fill="#141414"/>
<circle cx="408.7" cy="371.5" r="2.42" fill="#141414"/>
<circle cx="409.4" cy="370.6" r="2.51" fill="#141414"/>
<circle cx="409.2" cy="369.3" r="2.39" fill="#141414"/>
<circle cx="409.9" cy="367.2" r="2.38" fill="#141414"/>
<circle cx="410.3" cy="365.9" r="2.42" fill="#141414"/>
<circle cx="410.0" cy="364.7" r="2.57" fill="#141414"/>
<circle cx="411.1" cy="363.3" r="2.54" fill="#141414"/>
<circle cx="411.6" cy="361.9" r="2.35" fill="#141414"/>
<circle cx="412.2" cy="360.5" r="2.40" fill="#141414"/>
<circle cx="412.1" cy="358.6" r="2.28" fill="#141414"/>
<circle cx="412.7" cy="357.6" r="2.51" fill="#141414"/>
<circle cx="413.0" cy="356.0" r="2.42" fill="#141414"/>
<circle cx="413.2" cy="355.2" r="2.45" fill="#141414"/>
<circle cx="413.7" cy="353.2" r="2.53" fill="#141414"/>
<circle cx="414.9" cy="352.0" r="2.54" fill="#141414"/>
<circle cx="415.9" cy="343.8" r="2.86" fill="#141414"/>
<circle cx="415.0" cy="343.7" r="2.44" fill="#141414"/>
<circle cx="415.6" cy="342.2" r="2.44" fill="#141414"/>
<circle cx="416.7" cy="340.5" r="2.49" fill="#141414"/>
<circle cx="417.0" cy="338.8" r="2.24" fill="#141414"/>
<circle cx="417.6" cy="337.1" r="2.42" fill="#141414"/>
<circle cx="418.1" cy="335.9" r="2.31" fill="#141414"/>
<circle cx="417.8" cy="334.3" r="2.50" fill="#141414"/>
<circle cx="418.1" cy="332.7" r="2.44" fill="#141414"/>
<circle cx="418.5" cy="331.4" r="2.21" fill="#141414"/>
<circle cx="419.6" cy="330.2" r="2.44" fill="#141414"/>
<circle cx="419.6" cy="329.3" r="2.23" fill="#141414"/>
<circle cx="420.1" cy="327.8" r="2.32" fill="#141414"/>
<circle cx="420.3" cy="325.8" r="2.33" fill="#141414"/>
<circle cx="421.2" cy="324.2" r="2.49" fill="#141414"/>
<circle cx="420.6" cy="323.4" r="2.24" fill="#141414"/>
<circle cx="421.7" cy="321.1" r="2.29" fill="#141414"/>
<circle cx="421.8" cy="320.1" r="2.51" fill="#141414"/>
<circle cx="423.2" cy="318.9" r="2.28" fill="#141414"/>
<circle cx="424.2" cy="318.6" r="2.45" fill="#141414"/>
<circle cx="425.1" cy="317.5" r="2.57" fill="#141414"/>
<circle cx="425.9" cy="316.3" r="2.56" fill="#141414"/>
<circle cx="426.3" cy="314.5" r="2.47" fill="#141414"/>
<circle cx="426.3" cy="312.7" r="2.53" fill="#141414"/>
<circle cx="426.4" cy="311.8" r="2.38" fill="#141414"/>
<circle cx="426.4" cy="310.3" r="2.39" fill="#141414"/>
<circle cx="427.5" cy="302.0" r="2.43" fill="#141414"/>
<circle cx="428.0" cy="301.2" r="2.34" fill="#141414"/>
<circle cx="429.4" cy="299.6" r="2.58" fill="#141414"/>
<circle cx="430.0" cy="299.0" r="2.47" fill="#141414"/>
<circle cx="432.5" cy="299.6" r="2.52" fill="#141414"/>
<circle cx="433.1" cy="298.5" r="2.32" fill="#141414"/>
<circle cx="434.6" cy="298.2" r="2.32" fill="#141414"/>
<circle cx="435.9" cy="297.4" r="2.52" fill="#141414"/>
<circle cx="437.5" cy="296.2" r="2.41" fill="#141414"/>
<circle cx="438.5" cy="295.0" r="2.57" fill="#141414"/>
<circle cx="439.0" cy="294.1" r="2.36" fill="#141414"/>
<circle cx="440.0" cy="292.9" r="2.38" fill="#141414"/>
<circle cx="440.7" cy="291.2" r="2.39" fill="#141414"/>
<circle cx="441.5" cy="290.6" r="2.51" fill="#141414"/>
<circle cx="442.3" cy="288.6" r="2.47" fill="#141414"/>
<circle cx="442.9" cy="288.6" r="2.58" fill="#141414"/>
<circle cx="444.2" cy="288.0" r="2.35" fill="#141414"/>
<circle cx="445.7" cy="287.5" r="2.55" fill="#141414"/>
<circle cx="447.5" cy="286.4" r="2.23" fill="#141414"/>
<circle cx="448.9" cy="286.0" r="2.43" fill="#141414"/>
<circle cx="449.9" cy="285.5" r="2.49" fill="#141414"/>
<circle cx="451.0" cy="284.1" r="2.47" fill="#141414"/>
<circle cx="451.7" cy="282.9" r="2.58" fill="#141414"/>
<circle cx="452.0" cy="281.9" r="2.59" fill="#141414"/>
<circle cx="453.0" cy="280.0" r="2.41" fill="#141414"/>
<circle cx="453.2" cy="279.0" r="2.50" fill="#141414"/>
<circle cx="454.0" cy="277.5" r="2.50" fill="#141414"/>
<circle cx="455.2" cy="277.0" r="2.42" fill="#141414"/>
<circle cx="460.1" cy="275.1" r="2.41" fill="#141414"/>
<circle cx="461.5" cy="274.6" r="2.29" fill="#141414"/>
<circle cx="463.4" cy="273.6" r="2.25" fill="#141414"/>
<circle cx="464.5" cy="272.6" r="2.58" fill="#141414"/>
<circle cx="465.8" cy="272.0" r="2.58" fill="#141414"/>
<circle cx="466.9" cy="272.4" r="2.21" fill="#141414"/>
<circle cx="476.6" cy="270.1" r="2.42" fill="#141414"/>
<circle cx="479.1" cy="269.0" r="2.42" fill="#141414"/>
<circle cx="484.1" cy="268.1" r="2.42" fill="#141414"/>
<circle cx="485.7" cy="267.0" r="2.42" fill="#141414"/>
<circle cx="494.3" cy="266.0" r="2.42" fill="#141414"/>
<circle cx="505.1" cy="264.8" r="2.42" fill="#141414"/>
<circle cx="511.7" cy="262.7" r="2.42" fill="#141414"/>
<circle cx="519.2" cy="261.5" r="2.42" fill="#141414"/>
<circle cx="535.7" cy="260.7" r="2.42" fill="#141414"/>
<circle cx="540.2" cy="259.4" r="2.42" fill="#141414"/>
<circle cx="572.6" cy="257.9" r="2.42" fill="#141414"/>
<circle cx="577.9" cy="256.6" r="2.42" fill="#141414"/>
<circle cx="578.8" cy="255.7" r="2.42" fill="#141414"/>
<circle cx="657.0" cy="254.9" r="2.42" fill="#141414"/>
<circle cx="659.8" cy="253.5" r="2.42" fill="#141414"/>
<circle cx="662.0" cy="251.6" r="2.42" fill="#141414"/>
<circle cx="670.2" cy="250.4" r="2.42" fill="#141414"/>
<text x="506.8" y="337.7" font-size="11.1" font-weight="bold" fill="#111" stroke="#111" stroke-width="0.3" font-family='"Liberation Sans", Arial, sans-serif'>Alk, μeq/l</text>
<line x1="22.8" y1="659.7" x2="22.8" y2="503.4" stroke="#4a4a4a" stroke-width="1.3"/>
<line x1="19.8" y1="659.7" x2="22.8" y2="659.7" stroke="#4a4a4a" stroke-width="1.1"/>
<text x="16.2" y="662.3" font-size="9" text-anchor="end" fill="#333" stroke="#333" stroke-width="0.25" font-weight="normal" font-family='"Liberation Sans", Arial, sans-serif'  textLength="4.50" lengthAdjust="spacingAndGlyphs">0</text>
<line x1="19.8" y1="644.1" x2="22.8" y2="644.1" stroke="#4a4a4a" stroke-width="1.1"/>
<text x="16.2" y="646.7" font-size="9" text-anchor="end" fill="#333" stroke="#333" stroke-width="0.25" font-weight="normal" font-family='"Liberation Sans", Arial, sans-serif'  textLength="9.01" lengthAdjust="spacingAndGlyphs">10</text>
<line x1="19.8" y1="628.4" x2="22.8" y2="628.4" stroke="#4a4a4a" stroke-width="1.1"/>
<text x="16.2" y="631.0" font-size="9" text-anchor="end" fill="#333" stroke="#333" stroke-width="0.25" font-weight="normal" font-family='"Liberation Sans", Arial, sans-serif'  textLength="9.01" lengthAdjust="spacingAndGlyphs">20</text>
<line x1="19.8" y1="612.8" x2="22.8" y2="612.8" stroke="#4a4a4a" stroke-width="1.1"/>
<text x="16.2" y="615.4" font-size="9" text-anchor="end" fill="#333" stroke="#333" stroke-width="0.25" font-weight="normal" font-family='"Liberation Sans", Arial, sans-serif'  textLength="9.01" lengthAdjust="spacingAndGlyphs">30</text>
<line x1="19.8" y1="597.2" x2="22.8" y2="597.2" stroke="#4a4a4a" stroke-width="1.1"/>
<text x="16.2" y="599.8" font-size="9" text-anchor="end" fill="#333" stroke="#333" stroke-width="0.25" font-weight="normal" font-family='"Liberation Sans", Arial, sans-serif'  textLength="9.01" lengthAdjust="spacingAndGlyphs">40</text>
<line x1="19.8" y1="581.5" x2="22.8" y2="581.5" stroke="#4a4a4a" stroke-width="1.1"/>
<text x="16.2" y="584.1" font-size="9" text-anchor="end" fill="#333" stroke="#333" stroke-width="0.25" font-weight="normal" font-family='"Liberation Sans", Arial, sans-serif'  textLength="9.01" lengthAdjust="spacingAndGlyphs">50</text>
<line x1="19.8" y1="565.9" x2="22.8" y2="565.9" stroke="#4a4a4a" stroke-width="1.1"/>
<text x="16.2" y="568.5" font-size="9" text-anchor="end" fill="#333" stroke="#333" stroke-width="0.25" font-weight="normal" font-family='"Liberation Sans", Arial, sans-serif'  textLength="9.01" lengthAdjust="spacingAndGlyphs">60</text>
<line x1="19.8" y1="550.3" x2="22.8" y2="550.3" stroke="#4a4a4a" stroke-width="1.1"/>
<text x="16.2" y="552.9" font-size="9" text-anchor="end" fill="#333" stroke="#333" stroke-width="0.25" font-weight="normal" font-family='"Liberation Sans", Arial, sans-serif'  textLength="9.01" lengthAdjust="spacingAndGlyphs">70</text>
<line x1="19.8" y1="534.7" x2="22.8" y2="534.7" stroke="#4a4a4a" stroke-width="1.1"/>
<text x="16.2" y="537.3" font-size="9" text-anchor="end" fill="#333" stroke="#333" stroke-width="0.25" font-weight="normal" font-family='"Liberation Sans", Arial, sans-serif'  textLength="9.01" lengthAdjust="spacingAndGlyphs">80</text>
<line x1="19.8" y1="519.0" x2="22.8" y2="519.0" stroke="#4a4a4a" stroke-width="1.1"/>
<text x="16.2" y="521.6" font-size="9" text-anchor="end" fill="#333" stroke="#333" stroke-width="0.25" font-weight="normal" font-family='"Liberation Sans", Arial, sans-serif'  textLength="9.01" lengthAdjust="spacingAndGlyphs">90</text>
<line x1="19.8" y1="503.4" x2="22.8" y2="503.4" stroke="#4a4a4a" stroke-width="1.1"/>
<text x="16.2" y="506.0" font-size="9" text-anchor="end" fill="#333" stroke="#333" stroke-width="0.25" font-weight="normal" font-family='"Liberation Sans", Arial, sans-serif'  textLength="13.51" lengthAdjust="spacingAndGlyphs">100</text>
<line x1="23.1" y1="659.7" x2="311.7" y2="659.7" stroke="#4a4a4a" stroke-width="1.3"/>
<line x1="23.1" y1="659.7" x2="23.1" y2="662.7" stroke="#4a4a4a" stroke-width="1.1"/>
<text x="23.1" y="673.0" font-size="9" text-anchor="middle" fill="#333" stroke="#333" stroke-width="0.25" font-weight="normal" font-family='"Liberation Sans", Arial, sans-serif' >0</text>
<line x1="95.2" y1="659.7" x2="95.2" y2="662.7" stroke="#4a4a4a" stroke-width="1.1"/>
<text x="95.2" y="673.0" font-size="9" text-anchor="middle" fill="#333" stroke="#333" stroke-width="0.25" font-weight="normal" font-family='"Liberation Sans", Arial, sans-serif' >50</text>
<line x1="167.4" y1="659.7" x2="167.4" y2="662.7" stroke="#4a4a4a" stroke-width="1.1"/>
<text x="167.4" y="673.0" font-size="9" text-anchor="middle" fill="#333" stroke="#333" stroke-width="0.25" font-weight="normal" font-family='"Liberation Sans", Arial, sans-serif' >100</text>
<line x1="239.5" y1="659.7" x2="239.5" y2="662.7" stroke="#4a4a4a" stroke-width="1.1"/>
<text x="239.5" y="673.0" font-size="9" text-anchor="middle" fill="#333" stroke="#333" stroke-width="0.25" font-weight="normal" font-family='"Liberation Sans", Arial, sans-serif' >150</text>
<line x1="311.7" y1="659.7" x2="311.7" y2="662.7" stroke="#4a4a4a" stroke-width="1.1"/>
<text x="311.7" y="673.0" font-size="9" text-anchor="middle" fill="#333" stroke="#333" stroke-width="0.25" font-weight="normal" font-family='"Liberation Sans", Arial, sans-serif' >200</text>
<polyline points="30.5,658.5 31.7,657.6 35.2,650.7 39.3,643.8 46.2,636.9 51.0,631.0 57.2,623.3 62.4,610.9 65.5,596.4 68.6,584.0 72.8,571.6 77.9,561.2 82.1,550.9 88.3,540.5" fill="none" stroke="#c4c4c4" stroke-width="7.8" stroke-linecap="round" stroke-linejoin="round" opacity="1"/>
<path d="M53.4 626.4L56.8 620.2L60.3 626.4Z" fill="#cfcfcf" stroke="#bbb" stroke-width="1.0"/>
<path d="M54.9 624.2L58.5 617.6L62.1 624.2Z" fill="#cfcfcf" stroke="#bbb" stroke-width="1.0"/>
<path d="M55.7 622.5L59.5 615.7L63.3 622.5Z" fill="#cfcfcf" stroke="#bbb" stroke-width="1.0"/>
<path d="M56.4 620.6L60.1 614.0L63.7 620.6Z" fill="#cfcfcf" stroke="#bbb" stroke-width="1.0"/>
<path d="M56.9 618.4L60.7 611.6L64.5 618.4Z" fill="#cfcfcf" stroke="#bbb" stroke-width="1.0"/>
<path d="M57.6 617.2L61.3 610.5L65.0 617.2Z" fill="#cfcfcf" stroke="#bbb" stroke-width="1.0"/>
<path d="M58.1 614.0L61.6 607.6L65.2 614.0Z" fill="#cfcfcf" stroke="#bbb" stroke-width="1.0"/>
<path d="M59.6 611.8L63.2 605.3L66.9 611.8Z" fill="#cfcfcf" stroke="#bbb" stroke-width="1.0"/>
<path d="M59.3 610.6L63.1 603.9L66.8 610.6Z" fill="#cfcfcf" stroke="#bbb" stroke-width="1.0"/>
<path d="M60.4 607.6L64.1 600.9L67.8 607.6Z" fill="#cfcfcf" stroke="#bbb" stroke-width="1.0"/>
<path d="M60.5 606.2L64.1 599.8L67.7 606.2Z" fill="#cfcfcf" stroke="#bbb" stroke-width="1.0"/>
<path d="M61.5 604.4L65.2 597.7L68.9 604.4Z" fill="#cfcfcf" stroke="#bbb" stroke-width="1.0"/>
<path d="M61.9 601.9L65.6 595.4L69.2 601.9Z" fill="#cfcfcf" stroke="#bbb" stroke-width="1.0"/>
<path d="M61.5 600.0L65.1 593.5L68.7 600.0Z" fill="#cfcfcf" stroke="#bbb" stroke-width="1.0"/>
<path d="M61.9 597.1L65.4 590.6L69.0 597.1Z" fill="#cfcfcf" stroke="#bbb" stroke-width="1.0"/>
<path d="M62.8 595.6L66.2 589.3L69.7 595.6Z" fill="#cfcfcf" stroke="#bbb" stroke-width="1.0"/>
<path d="M64.3 592.9L67.7 586.6L71.2 592.9Z" fill="#cfcfcf" stroke="#bbb" stroke-width="1.0"/>
<path d="M64.1 590.6L67.5 584.4L71.0 590.6Z" fill="#cfcfcf" stroke="#bbb" stroke-width="1.0"/>
<path d="M64.8 589.0L68.6 582.2L72.4 589.0Z" fill="#cfcfcf" stroke="#bbb" stroke-width="1.0"/>
<path d="M65.5 587.1L69.3 580.3L73.1 587.1Z" fill="#cfcfcf" stroke="#bbb" stroke-width="1.0"/>
<path d="M66.5 584.7L70.1 578.2L73.8 584.7Z" fill="#cfcfcf" stroke="#bbb" stroke-width="1.0"/>
<path d="M66.5 582.9L70.3 576.2L74.0 582.9Z" fill="#cfcfcf" stroke="#bbb" stroke-width="1.0"/>
<path d="M68.0 580.6L71.4 574.4L74.8 580.6Z" fill="#cfcfcf" stroke="#bbb" stroke-width="1.0"/>
<path d="M67.9 577.6L71.6 571.1L75.2 577.6Z" fill="#cfcfcf" stroke="#bbb" stroke-width="1.0"/>
<path d="M68.8 576.3L72.5 569.6L76.2 576.3Z" fill="#cfcfcf" stroke="#bbb" stroke-width="1.0"/>
<path d="M69.2 574.4L72.8 567.9L76.4 574.4Z" fill="#cfcfcf" stroke="#bbb" stroke-width="1.0"/>
<path d="M70.3 572.6L73.7 566.4L77.2 572.6Z" fill="#cfcfcf" stroke="#bbb" stroke-width="1.0"/>
<path d="M71.4 570.2L75.1 563.7L78.7 570.2Z" fill="#cfcfcf" stroke="#bbb" stroke-width="1.0"/>
<path d="M73.0 568.3L76.8 561.6L80.5 568.3Z" fill="#cfcfcf" stroke="#bbb" stroke-width="1.0"/>
<path d="M73.3 566.0L76.8 559.8L80.2 566.0Z" fill="#cfcfcf" stroke="#bbb" stroke-width="1.0"/>
<path d="M74.5 564.2L78.2 557.5L81.9 564.2Z" fill="#cfcfcf" stroke="#bbb" stroke-width="1.0"/>
<path d="M74.5 562.3L78.3 555.5L82.1 562.3Z" fill="#cfcfcf" stroke="#bbb" stroke-width="1.0"/>
<path d="M75.3 560.4L79.0 553.8L82.6 560.4Z" fill="#cfcfcf" stroke="#bbb" stroke-width="1.0"/>
<path d="M77.2 558.2L80.8 551.7L84.4 558.2Z" fill="#cfcfcf" stroke="#bbb" stroke-width="1.0"/>
<path d="M78.3 555.8L82.0 549.2L85.6 555.8Z" fill="#cfcfcf" stroke="#bbb" stroke-width="1.0"/>
<path d="M78.8 554.3L82.4 547.9L86.0 554.3Z" fill="#cfcfcf" stroke="#bbb" stroke-width="1.0"/>
<path d="M79.1 552.4L82.6 546.1L86.1 552.4Z" fill="#cfcfcf" stroke="#bbb" stroke-width="1.0"/>
<path d="M81.1 551.0L84.8 544.3L88.5 551.0Z" fill="#cfcfcf" stroke="#bbb" stroke-width="1.0"/>
<path d="M81.9 548.8L85.4 542.4L89.0 548.8Z" fill="#cfcfcf" stroke="#bbb" stroke-width="1.0"/>
<path d="M82.8 546.6L86.4 540.0L90.1 546.6Z" fill="#cfcfcf" stroke="#bbb" stroke-width="1.0"/>
<path d="M84.5 544.6L88.1 538.2L91.6 544.6Z" fill="#cfcfcf" stroke="#bbb" stroke-width="1.0"/>
<path d="M85.6 542.9L89.3 536.3L92.9 542.9Z" fill="none" stroke="#b0b0b0" stroke-width="1.0"/>
<path d="M87.1 542.2L90.7 535.8L94.2 542.2Z" fill="none" stroke="#b0b0b0" stroke-width="1.0"/>
<path d="M90.2 538.4L93.9 531.6L97.7 538.4Z" fill="none" stroke="#b0b0b0" stroke-width="1.0"/>
<path d="M91.8 535.8L95.3 529.5L98.9 535.8Z" fill="none" stroke="#b0b0b0" stroke-width="1.0"/>
<path d="M94.9 533.5L98.5 527.1L102.0 533.5Z" fill="none" stroke="#b0b0b0" stroke-width="1.0"/>
<path d="M96.6 531.8L100.1 525.5L103.6 531.8Z" fill="none" stroke="#b0b0b0" stroke-width="1.0"/>
<path d="M99.8 530.6L103.5 524.0L107.2 530.6Z" fill="none" stroke="#b0b0b0" stroke-width="1.0"/>
<path d="M103.0 530.1L106.8 523.3L110.5 530.1Z" fill="none" stroke="#b0b0b0" stroke-width="1.0"/>
<path d="M107.1 528.6L110.8 522.1L114.4 528.6Z" fill="none" stroke="#b0b0b0" stroke-width="1.0"/>
<path d="M109.8 527.0L113.4 520.5L117.0 527.0Z" fill="none" stroke="#b0b0b0" stroke-width="1.0"/>
<path d="M111.8 524.7L115.4 518.2L119.0 524.7Z" fill="none" stroke="#b0b0b0" stroke-width="1.0"/>
<path d="M115.1 522.4L118.5 516.1L122.0 522.4Z" fill="none" stroke="#b0b0b0" stroke-width="1.0"/>
<path d="M119.1 522.7L122.7 516.2L126.4 522.7Z" fill="none" stroke="#b0b0b0" stroke-width="1.0"/>
<path d="M121.9 519.7L125.3 513.5L128.8 519.7Z" fill="none" stroke="#b0b0b0" stroke-width="1.0"/>
<path d="M125.4 519.7L129.0 513.3L132.6 519.7Z" fill="none" stroke="#b0b0b0" stroke-width="1.0"/>
<path d="M127.9 518.0L131.3 511.7L134.8 518.0Z" fill="none" stroke="#b0b0b0" stroke-width="1.0"/>
<path d="M131.0 518.2L134.6 511.9L138.1 518.2Z" fill="none" stroke="#b0b0b0" stroke-width="1.0"/>
<path d="M135.1 517.1L138.7 510.6L142.3 517.1Z" fill="none" stroke="#b0b0b0" stroke-width="1.0"/>
<path d="M138.9 516.9L142.4 510.6L145.9 516.9Z" fill="none" stroke="#b0b0b0" stroke-width="1.0"/>
<path d="M142.4 516.3L146.1 509.6L149.8 516.3Z" fill="none" stroke="#b0b0b0" stroke-width="1.0"/>
<path d="M144.6 515.4L148.3 508.7L152.0 515.4Z" fill="none" stroke="#b0b0b0" stroke-width="1.0"/>
<path d="M148.6 513.5L152.3 506.9L156.0 513.5Z" fill="none" stroke="#aaa" stroke-width="1.0"/>
<path d="M154.2 513.0L157.9 506.4L161.6 513.0Z" fill="none" stroke="#aaa" stroke-width="1.0"/>
<path d="M156.9 512.4L160.6 505.8L164.3 512.4Z" fill="none" stroke="#aaa" stroke-width="1.0"/>
<path d="M163.2 512.4L166.9 505.8L170.6 512.4Z" fill="none" stroke="#aaa" stroke-width="1.0"/>
<path d="M176.8 510.0L180.5 503.4L184.2 510.0Z" fill="none" stroke="#aaa" stroke-width="1.0"/>
<path d="M182.6 509.6L186.3 503.0L190.0 509.6Z" fill="none" stroke="#aaa" stroke-width="1.0"/>
<path d="M188.5 508.9L192.2 502.3L195.9 508.9Z" fill="none" stroke="#aaa" stroke-width="1.0"/>
<path d="M207.7 508.9L211.4 502.3L215.1 508.9Z" fill="none" stroke="#aaa" stroke-width="1.0"/>
<path d="M215.5 507.2L219.2 500.6L222.9 507.2Z" fill="none" stroke="#aaa" stroke-width="1.0"/>
<path d="M223.7 506.5L227.4 499.9L231.1 506.5Z" fill="none" stroke="#aaa" stroke-width="1.0"/>
<circle cx="22.3" cy="658.2" r="2.49" fill="#141414"/>
<circle cx="23.9" cy="657.5" r="2.58" fill="#141414"/>
<circle cx="24.0" cy="655.6" r="2.41" fill="#141414"/>
<circle cx="25.2" cy="654.2" r="2.49" fill="#141414"/>
<circle cx="25.6" cy="653.4" r="2.46" fill="#141414"/>
<circle cx="26.2" cy="651.8" r="2.47" fill="#141414"/>
<circle cx="26.9" cy="650.2" r="2.57" fill="#141414"/>
<circle cx="27.2" cy="648.8" r="2.25" fill="#141414"/>
<circle cx="28.3" cy="647.8" r="2.46" fill="#141414"/>
<circle cx="28.3" cy="645.8" r="2.21" fill="#141414"/>
<circle cx="29.2" cy="645.2" r="2.59" fill="#141414"/>
<circle cx="29.4" cy="643.1" r="2.23" fill="#141414"/>
<circle cx="30.3" cy="642.6" r="2.47" fill="#141414"/>
<circle cx="32.1" cy="641.2" r="2.27" fill="#141414"/>
<circle cx="33.3" cy="640.9" r="2.25" fill="#141414"/>
<circle cx="33.6" cy="639.1" r="2.33" fill="#141414"/>
<circle cx="35.5" cy="638.8" r="2.29" fill="#141414"/>
<circle cx="36.1" cy="637.7" r="2.58" fill="#141414"/>
<circle cx="38.1" cy="636.1" r="2.25" fill="#141414"/>
<circle cx="38.2" cy="635.7" r="2.38" fill="#141414"/>
<circle cx="40.1" cy="634.4" r="2.53" fill="#141414"/>
<circle cx="40.9" cy="633.2" r="2.57" fill="#141414"/>
<circle cx="41.2" cy="631.4" r="2.50" fill="#141414"/>
<circle cx="41.7" cy="630.8" r="2.43" fill="#141414"/>
<circle cx="41.8" cy="629.4" r="2.45" fill="#141414"/>
<circle cx="42.1" cy="627.7" r="2.38" fill="#141414"/>
<circle cx="43.1" cy="626.7" r="2.30" fill="#141414"/>
<circle cx="44.6" cy="625.3" r="2.28" fill="#141414"/>
<circle cx="44.7" cy="623.5" r="2.40" fill="#141414"/>
<circle cx="45.5" cy="622.3" r="2.31" fill="#141414"/>
<circle cx="46.1" cy="621.8" r="2.26" fill="#141414"/>
<circle cx="47.4" cy="619.6" r="2.35" fill="#141414"/>
<circle cx="47.1" cy="618.6" r="2.55" fill="#141414"/>
<circle cx="48.5" cy="616.7" r="2.40" fill="#141414"/>
<circle cx="49.1" cy="615.9" r="2.27" fill="#141414"/>
<circle cx="50.8" cy="615.0" r="2.52" fill="#141414"/>
<circle cx="51.7" cy="614.0" r="2.22" fill="#141414"/>
<circle cx="53.2" cy="613.3" r="2.53" fill="#141414"/>
<circle cx="53.5" cy="612.3" r="2.54" fill="#141414"/>
<circle cx="54.7" cy="611.5" r="2.46" fill="#141414"/>
<circle cx="55.4" cy="610.2" r="2.44" fill="#141414"/>
<circle cx="56.7" cy="609.0" r="2.56" fill="#141414"/>
<circle cx="57.7" cy="607.7" r="2.57" fill="#141414"/>
<circle cx="59.2" cy="606.4" r="2.58" fill="#141414"/>
<circle cx="60.3" cy="605.7" r="2.27" fill="#141414"/>
<circle cx="61.1" cy="604.6" r="2.44" fill="#141414"/>
<circle cx="61.3" cy="603.4" r="2.42" fill="#141414"/>
<circle cx="62.1" cy="601.5" r="2.23" fill="#141414"/>
<circle cx="62.6" cy="600.1" r="2.49" fill="#141414"/>
<circle cx="63.7" cy="599.2" r="2.55" fill="#141414"/>
<circle cx="65.4" cy="598.2" r="2.22" fill="#141414"/>
<circle cx="66.6" cy="598.2" r="2.50" fill="#141414"/>
<circle cx="68.0" cy="597.1" r="2.29" fill="#141414"/>
<circle cx="69.6" cy="596.9" r="2.45" fill="#141414"/>
<circle cx="69.9" cy="596.1" r="2.43" fill="#141414"/>
<circle cx="72.1" cy="594.8" r="2.22" fill="#141414"/>
<circle cx="73.5" cy="594.0" r="2.56" fill="#141414"/>
<circle cx="74.4" cy="593.8" r="2.49" fill="#141414"/>
<circle cx="76.0" cy="592.3" r="2.23" fill="#141414"/>
<circle cx="76.9" cy="591.5" r="2.44" fill="#141414"/>
<circle cx="78.3" cy="591.0" r="2.29" fill="#141414"/>
<circle cx="79.4" cy="590.3" r="2.38" fill="#141414"/>
<circle cx="80.0" cy="589.1" r="2.32" fill="#141414"/>
<circle cx="81.5" cy="588.2" r="2.25" fill="#141414"/>
<circle cx="83.1" cy="587.3" r="2.45" fill="#141414"/>
<circle cx="84.1" cy="586.6" r="2.52" fill="#141414"/>
<circle cx="85.0" cy="585.9" r="2.24" fill="#141414"/>
<circle cx="86.6" cy="584.6" r="2.46" fill="#141414"/>
<circle cx="87.5" cy="583.8" r="2.46" fill="#141414"/>
<circle cx="88.2" cy="583.1" r="2.59" fill="#141414"/>
<circle cx="90.1" cy="582.1" r="2.55" fill="#141414"/>
<circle cx="90.7" cy="580.9" r="2.26" fill="#141414"/>
<circle cx="91.3" cy="579.6" r="2.55" fill="#141414"/>
<circle cx="92.0" cy="577.7" r="2.53" fill="#141414"/>
<circle cx="92.9" cy="576.9" r="2.21" fill="#141414"/>
<circle cx="93.9" cy="575.7" r="2.23" fill="#141414"/>
<circle cx="94.4" cy="573.4" r="2.43" fill="#141414"/>
<circle cx="94.6" cy="573.1" r="2.38" fill="#141414"/>
<circle cx="96.2" cy="571.5" r="2.46" fill="#141414"/>
<circle cx="96.2" cy="569.7" r="2.22" fill="#141414"/>
<circle cx="97.7" cy="569.3" r="2.39" fill="#141414"/>
<circle cx="97.6" cy="567.5" r="2.35" fill="#141414"/>
<circle cx="106.2" cy="565.0" r="2.54" fill="#141414"/>
<circle cx="106.4" cy="563.0" r="2.47" fill="#141414"/>
<circle cx="107.1" cy="562.2" r="2.53" fill="#141414"/>
<circle cx="107.3" cy="560.4" r="2.28" fill="#141414"/>
<circle cx="108.1" cy="559.7" r="2.29" fill="#141414"/>
<circle cx="108.8" cy="557.5" r="2.27" fill="#141414"/>
<circle cx="109.0" cy="555.9" r="2.51" fill="#141414"/>
<circle cx="110.2" cy="554.8" r="2.50" fill="#141414"/>
<circle cx="111.0" cy="553.3" r="2.46" fill="#141414"/>
<circle cx="110.7" cy="552.0" r="2.35" fill="#141414"/>
<circle cx="112.3" cy="551.5" r="2.35" fill="#141414"/>
<circle cx="113.3" cy="550.7" r="2.35" fill="#141414"/>
<circle cx="114.9" cy="549.7" r="2.55" fill="#141414"/>
<circle cx="115.6" cy="548.4" r="2.50" fill="#141414"/>
<circle cx="117.0" cy="548.0" r="2.33" fill="#141414"/>
<circle cx="119.0" cy="547.3" r="2.28" fill="#141414"/>
<circle cx="120.2" cy="545.8" r="2.32" fill="#141414"/>
<circle cx="120.8" cy="545.0" r="2.52" fill="#141414"/>
<circle cx="122.0" cy="544.0" r="2.40" fill="#141414"/>
<circle cx="122.9" cy="542.9" r="2.47" fill="#141414"/>
<circle cx="123.4" cy="541.9" r="2.54" fill="#141414"/>
<circle cx="124.1" cy="540.5" r="2.22" fill="#141414"/>
<circle cx="125.6" cy="539.9" r="2.36" fill="#141414"/>
<circle cx="127.2" cy="539.5" r="2.46" fill="#141414"/>
<circle cx="128.1" cy="538.4" r="2.53" fill="#141414"/>
<circle cx="130.4" cy="537.5" r="2.32" fill="#141414"/>
<circle cx="131.1" cy="537.0" r="2.27" fill="#141414"/>
<circle cx="132.4" cy="536.0" r="2.36" fill="#141414"/>
<circle cx="132.3" cy="534.1" r="2.29" fill="#141414"/>
<circle cx="133.5" cy="533.6" r="2.33" fill="#141414"/>
<circle cx="133.6" cy="531.2" r="2.56" fill="#141414"/>
<circle cx="133.7" cy="530.5" r="2.54" fill="#141414"/>
<circle cx="134.6" cy="529.4" r="2.29" fill="#141414"/>
<circle cx="135.0" cy="527.2" r="2.23" fill="#141414"/>
<circle cx="136.0" cy="526.4" r="2.25" fill="#141414"/>
<circle cx="137.1" cy="525.3" r="2.55" fill="#141414"/>
<circle cx="139.4" cy="525.7" r="2.55" fill="#141414"/>
<circle cx="140.8" cy="524.4" r="2.50" fill="#141414"/>
<circle cx="141.7" cy="523.5" r="2.59" fill="#141414"/>
<circle cx="142.5" cy="522.4" r="2.25" fill="#141414"/>
<circle cx="143.1" cy="521.4" r="2.43" fill="#141414"/>
<circle cx="143.6" cy="520.4" r="2.38" fill="#141414"/>
<circle cx="145.4" cy="519.1" r="2.22" fill="#141414"/>
<circle cx="146.0" cy="518.8" r="2.29" fill="#141414"/>
<circle cx="159.3" cy="517.2" r="2.42" fill="#141414"/>
<circle cx="160.6" cy="517.3" r="2.42" fill="#141414"/>
<circle cx="172.3" cy="516.6" r="2.42" fill="#141414"/>
<circle cx="174.6" cy="514.9" r="2.42" fill="#141414"/>
<circle cx="177.0" cy="513.3" r="2.42" fill="#141414"/>
<circle cx="180.0" cy="510.9" r="2.42" fill="#141414"/>
<circle cx="186.3" cy="509.5" r="2.42" fill="#141414"/>
<circle cx="191.7" cy="508.4" r="2.42" fill="#141414"/>
<circle cx="225.0" cy="507.2" r="2.42" fill="#141414"/>
<circle cx="233.7" cy="506.3" r="2.42" fill="#141414"/>
<circle cx="250.4" cy="505.3" r="2.42" fill="#141414"/>
<circle cx="288.8" cy="504.4" r="2.42" fill="#141414"/>
<circle cx="293.0" cy="503.2" r="2.42" fill="#141414"/>
<text x="147.2" y="581.6" font-size="11.2" font-weight="bold" fill="#111" stroke="#111" stroke-width="0.3" font-family='"Liberation Sans", Arial, sans-serif'>A<tspan font-size="7" dy="-4">n-</tspan><tspan dy="4">, μeq/l</tspan></text>
<line x1="387.2" y1="667.8" x2="387.2" y2="498.4" stroke="#4a4a4a" stroke-width="1.3"/>
<line x1="384.2" y1="667.8" x2="387.2" y2="667.8" stroke="#4a4a4a" stroke-width="1.1"/>
<text x="380.9" y="670.6" font-size="9" text-anchor="end" fill="#333" stroke="#333" stroke-width="0.25" font-weight="normal" font-family='"Liberation Sans", Arial, sans-serif'  textLength="4.50" lengthAdjust="spacingAndGlyphs">0</text>
<line x1="384.2" y1="650.9" x2="387.2" y2="650.9" stroke="#4a4a4a" stroke-width="1.1"/>
<text x="380.9" y="653.7" font-size="9" text-anchor="end" fill="#333" stroke="#333" stroke-width="0.25" font-weight="normal" font-family='"Liberation Sans", Arial, sans-serif'  textLength="9.01" lengthAdjust="spacingAndGlyphs">10</text>
<line x1="384.2" y1="633.9" x2="387.2" y2="633.9" stroke="#4a4a4a" stroke-width="1.1"/>
<text x="380.9" y="636.7" font-size="9" text-anchor="end" fill="#333" stroke="#333" stroke-width="0.25" font-weight="normal" font-family='"Liberation Sans", Arial, sans-serif'  textLength="9.01" lengthAdjust="spacingAndGlyphs">20</text>
<line x1="384.2" y1="617.0" x2="387.2" y2="617.0" stroke="#4a4a4a" stroke-width="1.1"/>
<text x="380.9" y="619.8" font-size="9" text-anchor="end" fill="#333" stroke="#333" stroke-width="0.25" font-weight="normal" font-family='"Liberation Sans", Arial, sans-serif'  textLength="9.01" lengthAdjust="spacingAndGlyphs">30</text>
<line x1="384.2" y1="600.0" x2="387.2" y2="600.0" stroke="#4a4a4a" stroke-width="1.1"/>
<text x="380.9" y="602.8" font-size="9" text-anchor="end" fill="#333" stroke="#333" stroke-width="0.25" font-weight="normal" font-family='"Liberation Sans", Arial, sans-serif'  textLength="9.01" lengthAdjust="spacingAndGlyphs">40</text>
<line x1="384.2" y1="583.1" x2="387.2" y2="583.1" stroke="#4a4a4a" stroke-width="1.1"/>
<text x="380.9" y="585.9" font-size="9" text-anchor="end" fill="#333" stroke="#333" stroke-width="0.25" font-weight="normal" font-family='"Liberation Sans", Arial, sans-serif'  textLength="9.01" lengthAdjust="spacingAndGlyphs">50</text>
<line x1="384.2" y1="566.2" x2="387.2" y2="566.2" stroke="#4a4a4a" stroke-width="1.1"/>
<text x="380.9" y="569.0" font-size="9" text-anchor="end" fill="#333" stroke="#333" stroke-width="0.25" font-weight="normal" font-family='"Liberation Sans", Arial, sans-serif'  textLength="9.01" lengthAdjust="spacingAndGlyphs">60</text>
<line x1="384.2" y1="549.2" x2="387.2" y2="549.2" stroke="#4a4a4a" stroke-width="1.1"/>
<text x="380.9" y="552.0" font-size="9" text-anchor="end" fill="#333" stroke="#333" stroke-width="0.25" font-weight="normal" font-family='"Liberation Sans", Arial, sans-serif'  textLength="9.01" lengthAdjust="spacingAndGlyphs">70</text>
<line x1="384.2" y1="532.3" x2="387.2" y2="532.3" stroke="#4a4a4a" stroke-width="1.1"/>
<text x="380.9" y="535.1" font-size="9" text-anchor="end" fill="#333" stroke="#333" stroke-width="0.25" font-weight="normal" font-family='"Liberation Sans", Arial, sans-serif'  textLength="9.01" lengthAdjust="spacingAndGlyphs">80</text>
<line x1="384.2" y1="515.3" x2="387.2" y2="515.3" stroke="#4a4a4a" stroke-width="1.1"/>
<text x="380.9" y="518.1" font-size="9" text-anchor="end" fill="#333" stroke="#333" stroke-width="0.25" font-weight="normal" font-family='"Liberation Sans", Arial, sans-serif'  textLength="9.01" lengthAdjust="spacingAndGlyphs">90</text>
<line x1="384.2" y1="498.4" x2="387.2" y2="498.4" stroke="#4a4a4a" stroke-width="1.1"/>
<text x="380.9" y="501.2" font-size="9" text-anchor="end" fill="#333" stroke="#333" stroke-width="0.25" font-weight="normal" font-family='"Liberation Sans", Arial, sans-serif'  textLength="13.51" lengthAdjust="spacingAndGlyphs">100</text>
<line x1="387.2" y1="667.8" x2="713.3" y2="667.8" stroke="#4a4a4a" stroke-width="1.3"/>
<line x1="387.2" y1="667.8" x2="387.2" y2="670.8" stroke="#4a4a4a" stroke-width="1.1"/>
<text x="387.2" y="682.5" font-size="9" text-anchor="middle" fill="#333" stroke="#333" stroke-width="0.25" font-weight="normal" font-family='"Liberation Sans", Arial, sans-serif' >0</text>
<line x1="433.8" y1="667.8" x2="433.8" y2="670.8" stroke="#4a4a4a" stroke-width="1.1"/>
<text x="433.8" y="682.5" font-size="9" text-anchor="middle" fill="#333" stroke="#333" stroke-width="0.25" font-weight="normal" font-family='"Liberation Sans", Arial, sans-serif' >20</text>
<line x1="480.4" y1="667.8" x2="480.4" y2="670.8" stroke="#4a4a4a" stroke-width="1.1"/>
<text x="480.4" y="682.5" font-size="9" text-anchor="middle" fill="#333" stroke="#333" stroke-width="0.25" font-weight="normal" font-family='"Liberation Sans", Arial, sans-serif' >40</text>
<line x1="527.0" y1="667.8" x2="527.0" y2="670.8" stroke="#4a4a4a" stroke-width="1.1"/>
<text x="527.0" y="682.5" font-size="9" text-anchor="middle" fill="#333" stroke="#333" stroke-width="0.25" font-weight="normal" font-family='"Liberation Sans", Arial, sans-serif' >60</text>
<line x1="573.5" y1="667.8" x2="573.5" y2="670.8" stroke="#4a4a4a" stroke-width="1.1"/>
<text x="573.5" y="682.5" font-size="9" text-anchor="middle" fill="#333" stroke="#333" stroke-width="0.25" font-weight="normal" font-family='"Liberation Sans", Arial, sans-serif' >80</text>
<line x1="620.1" y1="667.8" x2="620.1" y2="670.8" stroke="#4a4a4a" stroke-width="1.1"/>
<text x="620.1" y="682.5" font-size="9" text-anchor="middle" fill="#333" stroke="#333" stroke-width="0.25" font-weight="normal" font-family='"Liberation Sans", Arial, sans-serif' >100</text>
<line x1="666.7" y1="667.8" x2="666.7" y2="670.8" stroke="#4a4a4a" stroke-width="1.1"/>
<text x="666.7" y="682.5" font-size="9" text-anchor="middle" fill="#333" stroke="#333" stroke-width="0.25" font-weight="normal" font-family='"Liberation Sans", Arial, sans-serif' >120</text>
<line x1="713.3" y1="667.8" x2="713.3" y2="670.8" stroke="#4a4a4a" stroke-width="1.1"/>
<text x="713.3" y="682.5" font-size="9" text-anchor="middle" fill="#333" stroke="#333" stroke-width="0.25" font-weight="normal" font-family='"Liberation Sans", Arial, sans-serif' >140</text>
<path d="M384.9 673.6L388.3 667.4L391.8 673.6Z" fill="none" stroke="#888" stroke-width="1.0"/>
<path d="M419.1 670.3L422.5 664.1L425.9 670.3Z" fill="none" stroke="#888" stroke-width="1.0"/>
<path d="M426.8 669.2L430.3 663.0L433.7 669.2Z" fill="none" stroke="#6a6a6a" stroke-width="1.05"/>
<path d="M427.9 667.0L431.4 660.7L434.9 667.0Z" fill="none" stroke="#6a6a6a" stroke-width="1.05"/>
<path d="M430.6 667.8L434.1 661.7L437.5 667.8Z" fill="none" stroke="#6a6a6a" stroke-width="1.05"/>
<path d="M433.3 666.2L436.8 659.8L440.4 666.2Z" fill="none" stroke="#6a6a6a" stroke-width="1.05"/>
<path d="M435.4 665.5L438.9 659.3L442.3 665.5Z" fill="none" stroke="#6a6a6a" stroke-width="1.05"/>
<path d="M437.3 663.9L440.7 657.6L444.2 663.9Z" fill="none" stroke="#6a6a6a" stroke-width="1.05"/>
<path d="M439.4 662.9L443.0 656.5L446.5 662.9Z" fill="none" stroke="#6a6a6a" stroke-width="1.05"/>
<path d="M441.2 662.7L444.6 656.6L448.0 662.7Z" fill="none" stroke="#6a6a6a" stroke-width="1.05"/>
<path d="M441.7 661.3L445.3 654.9L448.8 661.3Z" fill="none" stroke="#6a6a6a" stroke-width="1.05"/>
<path d="M444.5 658.4L447.8 652.3L451.2 658.4Z" fill="none" stroke="#6a6a6a" stroke-width="1.05"/>
<path d="M446.0 657.1L449.6 650.6L453.2 657.1Z" fill="none" stroke="#6a6a6a" stroke-width="1.05"/>
<path d="M447.3 655.0L450.8 648.7L454.3 655.0Z" fill="none" stroke="#6a6a6a" stroke-width="1.05"/>
<path d="M448.0 654.6L451.6 648.2L455.2 654.6Z" fill="none" stroke="#6a6a6a" stroke-width="1.05"/>
<path d="M449.6 652.0L453.1 645.7L456.6 652.0Z" fill="none" stroke="#6a6a6a" stroke-width="1.05"/>
<path d="M451.6 650.5L454.9 644.6L458.2 650.5Z" fill="none" stroke="#6a6a6a" stroke-width="1.05"/>
<path d="M451.5 647.7L454.9 641.6L458.3 647.7Z" fill="none" stroke="#6a6a6a" stroke-width="1.05"/>
<path d="M452.6 644.7L456.2 638.3L459.8 644.7Z" fill="none" stroke="#6a6a6a" stroke-width="1.05"/>
<path d="M453.5 642.6L457.0 636.3L460.5 642.6Z" fill="none" stroke="#6a6a6a" stroke-width="1.05"/>
<path d="M454.2 640.7L457.6 634.5L461.1 640.7Z" fill="none" stroke="#6a6a6a" stroke-width="1.05"/>
<path d="M454.8 638.8L458.3 632.3L461.9 638.8Z" fill="none" stroke="#6a6a6a" stroke-width="1.05"/>
<path d="M457.0 636.3L460.5 629.9L464.0 636.3Z" fill="none" stroke="#6a6a6a" stroke-width="1.05"/>
<path d="M456.6 635.0L460.2 628.5L463.8 635.0Z" fill="none" stroke="#6a6a6a" stroke-width="1.05"/>
<path d="M459.1 632.7L462.5 626.6L465.9 632.7Z" fill="none" stroke="#6a6a6a" stroke-width="1.05"/>
<path d="M459.5 630.5L463.2 624.0L466.8 630.5Z" fill="none" stroke="#6a6a6a" stroke-width="1.05"/>
<path d="M460.8 629.7L464.4 623.3L467.9 629.7Z" fill="none" stroke="#6a6a6a" stroke-width="1.05"/>
<path d="M463.6 629.3L466.9 623.3L470.3 629.3Z" fill="none" stroke="#6a6a6a" stroke-width="1.05"/>
<path d="M466.3 627.8L469.9 621.5L473.4 627.8Z" fill="none" stroke="#6a6a6a" stroke-width="1.05"/>
<path d="M467.7 625.3L471.3 618.9L474.8 625.3Z" fill="none" stroke="#6a6a6a" stroke-width="1.05"/>
<path d="M469.3 623.7L472.7 617.5L476.1 623.7Z" fill="none" stroke="#6a6a6a" stroke-width="1.05"/>
<path d="M470.8 621.7L474.1 615.8L477.4 621.7Z" fill="none" stroke="#6a6a6a" stroke-width="1.05"/>
<path d="M472.4 619.9L475.8 613.7L479.3 619.9Z" fill="none" stroke="#6a6a6a" stroke-width="1.05"/>
<path d="M474.2 618.0L477.5 612.0L480.8 618.0Z" fill="none" stroke="#6a6a6a" stroke-width="1.05"/>
<path d="M474.4 617.2L477.8 611.1L481.2 617.2Z" fill="none" stroke="#6a6a6a" stroke-width="1.05"/>
<path d="M476.0 615.5L479.6 609.0L483.2 615.5Z" fill="none" stroke="#6a6a6a" stroke-width="1.05"/>
<path d="M477.6 613.7L481.2 607.3L484.8 613.7Z" fill="none" stroke="#6a6a6a" stroke-width="1.05"/>
<path d="M480.1 611.7L483.5 605.5L487.0 611.7Z" fill="none" stroke="#6a6a6a" stroke-width="1.05"/>
<path d="M481.5 609.8L484.9 603.6L488.3 609.8Z" fill="none" stroke="#6a6a6a" stroke-width="1.05"/>
<path d="M483.0 609.7L486.4 603.6L489.8 609.7Z" fill="none" stroke="#6a6a6a" stroke-width="1.05"/>
<path d="M485.3 608.8L488.9 602.3L492.5 608.8Z" fill="none" stroke="#6a6a6a" stroke-width="1.05"/>
<path d="M486.8 606.5L490.2 600.4L493.5 606.5Z" fill="none" stroke="#6a6a6a" stroke-width="1.05"/>
<path d="M488.5 605.0L492.0 598.6L495.6 605.0Z" fill="none" stroke="#6a6a6a" stroke-width="1.05"/>
<path d="M491.7 602.9L494.9 597.0L498.2 602.9Z" fill="none" stroke="#6a6a6a" stroke-width="1.05"/>
<path d="M492.5 601.1L495.8 595.2L499.1 601.1Z" fill="none" stroke="#6a6a6a" stroke-width="1.05"/>
<path d="M494.6 599.8L498.1 593.5L501.6 599.8Z" fill="none" stroke="#6a6a6a" stroke-width="1.05"/>
<path d="M495.3 599.9L498.9 593.5L502.5 599.9Z" fill="none" stroke="#6a6a6a" stroke-width="1.05"/>
<path d="M496.3 596.8L499.9 590.3L503.6 596.8Z" fill="none" stroke="#6a6a6a" stroke-width="1.05"/>
<path d="M499.2 595.6L502.7 589.2L506.2 595.6Z" fill="none" stroke="#6a6a6a" stroke-width="1.05"/>
<path d="M501.3 594.1L504.7 587.9L508.2 594.1Z" fill="none" stroke="#6a6a6a" stroke-width="1.05"/>
<path d="M501.8 592.3L505.1 586.3L508.5 592.3Z" fill="none" stroke="#6a6a6a" stroke-width="1.05"/>
<path d="M504.7 591.4L508.0 585.4L511.3 591.4Z" fill="none" stroke="#6a6a6a" stroke-width="1.05"/>
<path d="M506.5 588.9L509.8 583.0L513.1 588.9Z" fill="none" stroke="#6a6a6a" stroke-width="1.05"/>
<path d="M508.1 588.5L511.7 582.1L515.3 588.5Z" fill="none" stroke="#6a6a6a" stroke-width="1.05"/>
<path d="M510.2 587.3L513.5 581.4L516.8 587.3Z" fill="none" stroke="#6a6a6a" stroke-width="1.05"/>
<path d="M512.2 584.9L515.7 578.6L519.2 584.9Z" fill="none" stroke="#6a6a6a" stroke-width="1.05"/>
<path d="M514.1 585.2L517.7 578.8L521.3 585.2Z" fill="none" stroke="#6a6a6a" stroke-width="1.05"/>
<path d="M515.1 583.4L518.6 577.0L522.2 583.4Z" fill="none" stroke="#6a6a6a" stroke-width="1.05"/>
<path d="M516.2 582.5L519.8 576.0L523.4 582.5Z" fill="none" stroke="#6a6a6a" stroke-width="1.05"/>
<path d="M518.9 580.7L522.3 574.5L525.7 580.7Z" fill="none" stroke="#6a6a6a" stroke-width="1.05"/>
<path d="M520.7 579.4L524.0 573.5L527.3 579.4Z" fill="none" stroke="#6a6a6a" stroke-width="1.05"/>
<path d="M523.7 579.0L527.1 572.9L530.5 579.0Z" fill="none" stroke="#6a6a6a" stroke-width="1.05"/>
<path d="M525.9 576.3L529.5 569.9L533.0 576.3Z" fill="none" stroke="#6a6a6a" stroke-width="1.05"/>
<path d="M526.8 576.9L530.2 570.8L533.6 576.9Z" fill="none" stroke="#6a6a6a" stroke-width="1.05"/>
<path d="M530.2 573.9L533.5 567.9L536.8 573.9Z" fill="none" stroke="#6a6a6a" stroke-width="1.05"/>
<path d="M531.8 574.1L535.3 567.9L538.8 574.1Z" fill="none" stroke="#6a6a6a" stroke-width="1.05"/>
<path d="M532.3 572.0L535.7 565.9L539.1 572.0Z" fill="none" stroke="#6a6a6a" stroke-width="1.05"/>
<path d="M534.2 572.6L537.8 566.2L541.3 572.6Z" fill="none" stroke="#6a6a6a" stroke-width="1.05"/>
<path d="M538.2 570.8L541.6 564.7L545.0 570.8Z" fill="none" stroke="#6a6a6a" stroke-width="1.05"/>
<path d="M538.6 569.8L541.9 563.8L545.2 569.8Z" fill="none" stroke="#6a6a6a" stroke-width="1.05"/>
<path d="M541.5 568.5L545.0 562.2L548.4 568.5Z" fill="none" stroke="#6a6a6a" stroke-width="1.05"/>
<path d="M542.7 566.8L546.1 560.6L549.6 566.8Z" fill="none" stroke="#6a6a6a" stroke-width="1.05"/>
<path d="M544.8 566.7L548.1 560.7L551.5 566.7Z" fill="none" stroke="#6a6a6a" stroke-width="1.05"/>
<path d="M547.3 565.1L550.8 558.9L554.2 565.1Z" fill="none" stroke="#6a6a6a" stroke-width="1.05"/>
<path d="M549.6 564.0L552.9 557.9L556.3 564.0Z" fill="none" stroke="#6a6a6a" stroke-width="1.05"/>
<path d="M551.8 564.2L555.3 558.1L558.7 564.2Z" fill="none" stroke="#6a6a6a" stroke-width="1.05"/>
<path d="M553.1 561.8L556.4 555.8L559.8 561.8Z" fill="none" stroke="#6a6a6a" stroke-width="1.05"/>
<path d="M555.8 561.8L559.3 555.6L562.8 561.8Z" fill="none" stroke="#6a6a6a" stroke-width="1.05"/>
<path d="M557.2 559.8L560.6 553.7L564.0 559.8Z" fill="none" stroke="#6a6a6a" stroke-width="1.05"/>
<path d="M559.6 559.1L563.2 552.6L566.8 559.1Z" fill="none" stroke="#6a6a6a" stroke-width="1.05"/>
<path d="M561.9 558.5L565.4 552.2L569.0 558.5Z" fill="none" stroke="#6a6a6a" stroke-width="1.05"/>
<path d="M564.3 557.6L567.7 551.5L571.1 557.6Z" fill="none" stroke="#6a6a6a" stroke-width="1.05"/>
<path d="M566.4 556.8L569.7 550.8L573.1 556.8Z" fill="none" stroke="#6a6a6a" stroke-width="1.05"/>
<path d="M568.4 554.5L571.7 548.5L575.0 554.5Z" fill="none" stroke="#6a6a6a" stroke-width="1.05"/>
<path d="M569.2 554.1L572.5 548.1L575.8 554.1Z" fill="none" stroke="#6a6a6a" stroke-width="1.05"/>
<path d="M572.5 552.1L575.9 545.9L579.3 552.1Z" fill="none" stroke="#6a6a6a" stroke-width="1.05"/>
<path d="M573.3 552.8L576.9 546.5L580.4 552.8Z" fill="none" stroke="#6a6a6a" stroke-width="1.05"/>
<path d="M593.4 550.6L596.9 544.4L600.4 550.6Z" fill="none" stroke="#777" stroke-width="1.0"/>
<path d="M598.6 549.4L602.1 543.2L605.6 549.4Z" fill="none" stroke="#777" stroke-width="1.0"/>
<path d="M600.5 548.1L604.0 541.9L607.5 548.1Z" fill="none" stroke="#777" stroke-width="1.0"/>
<path d="M602.8 547.1L606.3 540.9L609.8 547.1Z" fill="none" stroke="#777" stroke-width="1.0"/>
<path d="M606.3 545.9L609.8 539.7L613.2 545.9Z" fill="none" stroke="#777" stroke-width="1.0"/>
<path d="M609.8 544.8L613.3 538.6L616.8 544.8Z" fill="none" stroke="#777" stroke-width="1.0"/>
<path d="M612.6 543.1L616.1 536.9L619.6 543.1Z" fill="none" stroke="#777" stroke-width="1.0"/>
<path d="M621.5 541.7L625.0 535.5L628.5 541.7Z" fill="none" stroke="#777" stroke-width="1.0"/>
<path d="M627.4 540.1L630.9 533.9L634.4 540.1Z" fill="none" stroke="#777" stroke-width="1.0"/>
<path d="M631.4 539.4L634.9 533.2L638.4 539.4Z" fill="none" stroke="#777" stroke-width="1.0"/>
<path d="M637.9 537.7L641.4 531.5L644.9 537.7Z" fill="none" stroke="#777" stroke-width="1.0"/>
<path d="M645.0 537.0L648.5 530.8L652.0 537.0Z" fill="none" stroke="#777" stroke-width="1.0"/>
<path d="M649.8 535.8L653.2 529.6L656.7 535.8Z" fill="none" stroke="#777" stroke-width="1.0"/>
<path d="M658.6 534.7L662.1 528.5L665.6 534.7Z" fill="none" stroke="#777" stroke-width="1.0"/>
<path d="M663.8 533.7L667.2 527.5L670.7 533.7Z" fill="none" stroke="#777" stroke-width="1.0"/>
<path d="M667.2 533.0L670.7 526.8L674.2 533.0Z" fill="none" stroke="#777" stroke-width="1.0"/>
<path d="M674.3 530.7L677.8 524.5L681.2 530.7Z" fill="none" stroke="#777" stroke-width="1.0"/>
<path d="M676.5 529.6L680.0 523.4L683.5 529.6Z" fill="none" stroke="#777" stroke-width="1.0"/>
<path d="M677.8 529.0L681.3 522.8L684.8 529.0Z" fill="none" stroke="#777" stroke-width="1.0"/>
<path d="M680.5 527.1L684.0 520.9L687.5 527.1Z" fill="none" stroke="#777" stroke-width="1.0"/>
<path d="M682.5 526.0L686.0 519.8L689.5 526.0Z" fill="none" stroke="#777" stroke-width="1.0"/>
<path d="M688.4 524.8L691.9 518.6L695.4 524.8Z" fill="none" stroke="#777" stroke-width="1.0"/>
<path d="M693.0 522.9L696.5 516.7L700.0 522.9Z" fill="none" stroke="#777" stroke-width="1.0"/>
<path d="M702.4 522.5L705.9 516.3L709.4 522.5Z" fill="none" stroke="#777" stroke-width="1.0"/>
<path d="M708.3 521.3L711.8 515.1L715.2 521.3Z" fill="none" stroke="#777" stroke-width="1.0"/>
<circle cx="387.8" cy="667.7" r="2.53" fill="#141414"/>
<circle cx="393.8" cy="666.3" r="2.53" fill="#141414"/>
<circle cx="398.6" cy="665.8" r="2.23" fill="#141414"/>
<circle cx="400.0" cy="664.0" r="2.43" fill="#141414"/>
<circle cx="400.9" cy="662.8" r="2.47" fill="#141414"/>
<circle cx="402.0" cy="662.0" r="2.34" fill="#141414"/>
<circle cx="402.0" cy="661.2" r="2.32" fill="#141414"/>
<circle cx="403.7" cy="659.5" r="2.27" fill="#141414"/>
<circle cx="404.1" cy="658.1" r="2.44" fill="#141414"/>
<circle cx="404.8" cy="657.1" r="2.42" fill="#141414"/>
<circle cx="405.7" cy="656.2" r="2.39" fill="#141414"/>
<circle cx="407.2" cy="655.1" r="2.48" fill="#141414"/>
<circle cx="407.9" cy="653.7" r="2.27" fill="#141414"/>
<circle cx="408.7" cy="652.6" r="2.46" fill="#141414"/>
<circle cx="409.1" cy="651.1" r="2.43" fill="#141414"/>
<circle cx="409.9" cy="649.7" r="2.22" fill="#141414"/>
<circle cx="410.1" cy="647.9" r="2.45" fill="#141414"/>
<circle cx="410.2" cy="646.9" r="2.30" fill="#141414"/>
<circle cx="410.5" cy="645.1" r="2.37" fill="#141414"/>
<circle cx="410.1" cy="643.0" r="2.41" fill="#141414"/>
<circle cx="411.0" cy="641.6" r="2.48" fill="#141414"/>
<circle cx="410.4" cy="640.5" r="2.34" fill="#141414"/>
<circle cx="410.5" cy="639.5" r="2.41" fill="#141414"/>
<circle cx="410.9" cy="637.6" r="2.27" fill="#141414"/>
<circle cx="412.5" cy="636.7" r="2.38" fill="#141414"/>
<circle cx="412.9" cy="634.7" r="2.59" fill="#141414"/>
<circle cx="413.5" cy="633.8" r="2.51" fill="#141414"/>
<circle cx="414.0" cy="632.3" r="2.54" fill="#141414"/>
<circle cx="415.2" cy="631.2" r="2.25" fill="#141414"/>
<circle cx="415.3" cy="629.3" r="2.39" fill="#141414"/>
<circle cx="416.4" cy="628.2" r="2.55" fill="#141414"/>
<circle cx="417.1" cy="626.8" r="2.39" fill="#141414"/>
<circle cx="417.6" cy="625.1" r="2.29" fill="#141414"/>
<circle cx="417.3" cy="624.2" r="2.52" fill="#141414"/>
<circle cx="418.0" cy="622.2" r="2.33" fill="#141414"/>
<circle cx="418.0" cy="621.5" r="2.26" fill="#141414"/>
<circle cx="418.4" cy="619.6" r="2.39" fill="#141414"/>
<circle cx="419.0" cy="618.5" r="2.31" fill="#141414"/>
<circle cx="419.8" cy="617.2" r="2.49" fill="#141414"/>
<circle cx="420.0" cy="615.8" r="2.22" fill="#141414"/>
<circle cx="420.5" cy="614.2" r="2.43" fill="#141414"/>
<circle cx="420.9" cy="612.8" r="2.49" fill="#141414"/>
<circle cx="422.0" cy="611.5" r="2.47" fill="#141414"/>
<circle cx="422.3" cy="609.5" r="2.59" fill="#141414"/>
<circle cx="422.7" cy="608.2" r="2.57" fill="#141414"/>
<circle cx="423.6" cy="606.7" r="2.29" fill="#141414"/>
<circle cx="423.8" cy="605.3" r="2.42" fill="#141414"/>
<circle cx="424.5" cy="604.2" r="2.41" fill="#141414"/>
<circle cx="424.1" cy="603.3" r="2.28" fill="#141414"/>
<circle cx="426.3" cy="602.1" r="2.50" fill="#141414"/>
<circle cx="427.4" cy="601.9" r="2.50" fill="#141414"/>
<circle cx="428.7" cy="600.8" r="2.24" fill="#141414"/>
<circle cx="430.3" cy="600.2" r="2.38" fill="#141414"/>
<circle cx="430.9" cy="598.9" r="2.34" fill="#141414"/>
<circle cx="432.0" cy="597.6" r="2.31" fill="#141414"/>
<circle cx="433.0" cy="597.0" r="2.44" fill="#141414"/>
<circle cx="433.5" cy="595.3" r="2.34" fill="#141414"/>
<circle cx="433.6" cy="594.3" r="2.21" fill="#141414"/>
<circle cx="433.8" cy="592.7" r="2.34" fill="#141414"/>
<circle cx="434.9" cy="590.8" r="2.32" fill="#141414"/>
<circle cx="434.6" cy="589.4" r="2.47" fill="#141414"/>
<circle cx="435.5" cy="588.2" r="2.56" fill="#141414"/>
<circle cx="435.4" cy="586.6" r="2.23" fill="#141414"/>
<circle cx="435.8" cy="585.6" r="2.28" fill="#141414"/>
<circle cx="436.4" cy="584.3" r="2.36" fill="#141414"/>
<circle cx="437.4" cy="582.4" r="2.52" fill="#141414"/>
<circle cx="438.1" cy="581.4" r="2.33" fill="#141414"/>
<circle cx="439.2" cy="580.9" r="2.46" fill="#141414"/>
<circle cx="440.4" cy="579.7" r="2.46" fill="#141414"/>
<circle cx="441.5" cy="578.3" r="2.57" fill="#141414"/>
<circle cx="442.5" cy="577.6" r="2.22" fill="#141414"/>
<circle cx="444.0" cy="576.4" r="2.47" fill="#141414"/>
<circle cx="444.8" cy="575.5" r="2.52" fill="#141414"/>
<circle cx="446.4" cy="574.1" r="2.53" fill="#141414"/>
<circle cx="447.7" cy="573.4" r="2.36" fill="#141414"/>
<circle cx="448.1" cy="572.8" r="2.24" fill="#141414"/>
<circle cx="449.3" cy="571.5" r="2.48" fill="#141414"/>
<circle cx="450.3" cy="570.8" r="2.54" fill="#141414"/>
<circle cx="451.0" cy="569.6" r="2.35" fill="#141414"/>
<circle cx="452.2" cy="568.0" r="2.46" fill="#141414"/>
<circle cx="453.3" cy="567.3" r="2.43" fill="#141414"/>
<circle cx="454.5" cy="566.6" r="2.50" fill="#141414"/>
<circle cx="456.1" cy="565.3" r="2.26" fill="#141414"/>
<circle cx="457.5" cy="564.6" r="2.50" fill="#141414"/>
<circle cx="457.8" cy="563.6" r="2.21" fill="#141414"/>
<circle cx="459.1" cy="562.7" r="2.34" fill="#141414"/>
<circle cx="459.8" cy="560.6" r="2.25" fill="#141414"/>
<circle cx="459.9" cy="559.4" r="2.32" fill="#141414"/>
<circle cx="460.7" cy="557.7" r="2.52" fill="#141414"/>
<circle cx="461.7" cy="556.6" r="2.43" fill="#141414"/>
<circle cx="462.6" cy="555.7" r="2.37" fill="#141414"/>
<circle cx="464.2" cy="554.3" r="2.29" fill="#141414"/>
<circle cx="465.2" cy="553.9" r="2.23" fill="#141414"/>
<circle cx="466.5" cy="553.0" r="2.54" fill="#141414"/>
<circle cx="466.9" cy="552.0" r="2.57" fill="#141414"/>
<circle cx="467.5" cy="550.0" r="2.54" fill="#141414"/>
<circle cx="469.1" cy="549.5" r="2.55" fill="#141414"/>
<circle cx="469.9" cy="547.9" r="2.58" fill="#141414"/>
<circle cx="470.5" cy="546.6" r="2.57" fill="#141414"/>
<circle cx="470.7" cy="545.8" r="2.35" fill="#141414"/>
<circle cx="471.1" cy="543.8" r="2.33" fill="#141414"/>
<circle cx="472.1" cy="543.1" r="2.22" fill="#141414"/>
<circle cx="473.4" cy="542.1" r="2.45" fill="#141414"/>
<circle cx="475.4" cy="541.3" r="2.36" fill="#141414"/>
<circle cx="476.6" cy="541.2" r="2.30" fill="#141414"/>
<circle cx="477.9" cy="540.2" r="2.26" fill="#141414"/>
<circle cx="478.7" cy="538.8" r="2.45" fill="#141414"/>
<circle cx="479.7" cy="537.7" r="2.58" fill="#141414"/>
<circle cx="480.7" cy="537.2" r="2.23" fill="#141414"/>
<circle cx="488.0" cy="534.7" r="2.47" fill="#141414"/>
<circle cx="488.7" cy="534.3" r="2.18" fill="#141414"/>
<circle cx="489.9" cy="533.3" r="2.46" fill="#141414"/>
<circle cx="490.9" cy="531.7" r="2.14" fill="#141414"/>
<circle cx="498.2" cy="529.9" r="2.38" fill="#141414"/>
<circle cx="499.6" cy="528.9" r="2.12" fill="#141414"/>
<circle cx="500.9" cy="528.4" r="2.17" fill="#141414"/>
<circle cx="502.7" cy="528.4" r="2.43" fill="#141414"/>
<circle cx="503.2" cy="527.0" r="2.16" fill="#141414"/>
<circle cx="504.4" cy="525.8" r="2.40" fill="#141414"/>
<circle cx="505.4" cy="525.5" r="2.22" fill="#141414"/>
<circle cx="506.8" cy="523.7" r="2.40" fill="#141414"/>
<circle cx="507.9" cy="522.8" r="2.23" fill="#141414"/>
<circle cx="508.2" cy="522.4" r="2.30" fill="#141414"/>
<circle cx="510.2" cy="520.9" r="2.12" fill="#141414"/>
<circle cx="511.8" cy="520.8" r="2.48" fill="#141414"/>
<circle cx="518.4" cy="519.6" r="2.12" fill="#141414"/>
<circle cx="519.9" cy="518.5" r="2.36" fill="#141414"/>
<circle cx="521.0" cy="517.2" r="2.41" fill="#141414"/>
<circle cx="522.0" cy="516.0" r="2.38" fill="#141414"/>
<circle cx="523.0" cy="515.8" r="2.42" fill="#141414"/>
<circle cx="524.2" cy="514.6" r="2.46" fill="#141414"/>
<circle cx="524.9" cy="513.2" r="2.36" fill="#141414"/>
<circle cx="526.6" cy="513.1" r="2.38" fill="#141414"/>
<circle cx="527.6" cy="512.2" r="2.16" fill="#141414"/>
<circle cx="533.8" cy="509.9" r="2.42" fill="#141414"/>
<circle cx="535.5" cy="509.3" r="2.42" fill="#141414"/>
<circle cx="544.8" cy="508.8" r="2.42" fill="#141414"/>
<circle cx="568.3" cy="507.4" r="2.42" fill="#141414"/>
<circle cx="580.1" cy="506.0" r="2.42" fill="#141414"/>
<circle cx="603.3" cy="505.2" r="2.42" fill="#141414"/>
<circle cx="613.8" cy="503.8" r="2.42" fill="#141414"/>
<circle cx="689.7" cy="503.0" r="2.42" fill="#141414"/>
<circle cx="707.6" cy="501.6" r="2.42" fill="#141414"/>
<text x="547.2" y="608.2" font-size="11.6" font-weight="bold" fill="#111" stroke="#111" stroke-width="0.3" font-family='"Liberation Sans", Arial, sans-serif'>SO<tspan font-size="8" dy="-4.2">2-</tspan><tspan font-size="8" dy="6.4">4</tspan><tspan dy="-2.2">, μeq/l</tspan></text>
<line x1="21.2" y1="906.8" x2="21.2" y2="750.0" stroke="#4a4a4a" stroke-width="1.3"/>
<line x1="18.2" y1="906.8" x2="21.2" y2="906.8" stroke="#4a4a4a" stroke-width="1.1"/>
<text x="14.0" y="909.4" font-size="9" text-anchor="end" fill="#333" stroke="#333" stroke-width="0.25" font-weight="normal" font-family='"Liberation Sans", Arial, sans-serif'  textLength="4.50" lengthAdjust="spacingAndGlyphs">0</text>
<line x1="18.2" y1="891.1" x2="21.2" y2="891.1" stroke="#4a4a4a" stroke-width="1.1"/>
<text x="14.0" y="893.7" font-size="9" text-anchor="end" fill="#333" stroke="#333" stroke-width="0.25" font-weight="normal" font-family='"Liberation Sans", Arial, sans-serif'  textLength="9.01" lengthAdjust="spacingAndGlyphs">10</text>
<line x1="18.2" y1="875.4" x2="21.2" y2="875.4" stroke="#4a4a4a" stroke-width="1.1"/>
<text x="14.0" y="878.0" font-size="9" text-anchor="end" fill="#333" stroke="#333" stroke-width="0.25" font-weight="normal" font-family='"Liberation Sans", Arial, sans-serif'  textLength="9.01" lengthAdjust="spacingAndGlyphs">20</text>
<line x1="18.2" y1="859.8" x2="21.2" y2="859.8" stroke="#4a4a4a" stroke-width="1.1"/>
<text x="14.0" y="862.4" font-size="9" text-anchor="end" fill="#333" stroke="#333" stroke-width="0.25" font-weight="normal" font-family='"Liberation Sans", Arial, sans-serif'  textLength="9.01" lengthAdjust="spacingAndGlyphs">30</text>
<line x1="18.2" y1="844.1" x2="21.2" y2="844.1" stroke="#4a4a4a" stroke-width="1.1"/>
<text x="14.0" y="846.7" font-size="9" text-anchor="end" fill="#333" stroke="#333" stroke-width="0.25" font-weight="normal" font-family='"Liberation Sans", Arial, sans-serif'  textLength="9.01" lengthAdjust="spacingAndGlyphs">40</text>
<line x1="18.2" y1="828.4" x2="21.2" y2="828.4" stroke="#4a4a4a" stroke-width="1.1"/>
<text x="14.0" y="831.0" font-size="9" text-anchor="end" fill="#333" stroke="#333" stroke-width="0.25" font-weight="normal" font-family='"Liberation Sans", Arial, sans-serif'  textLength="9.01" lengthAdjust="spacingAndGlyphs">50</text>
<line x1="18.2" y1="812.7" x2="21.2" y2="812.7" stroke="#4a4a4a" stroke-width="1.1"/>
<text x="14.0" y="815.3" font-size="9" text-anchor="end" fill="#333" stroke="#333" stroke-width="0.25" font-weight="normal" font-family='"Liberation Sans", Arial, sans-serif'  textLength="9.01" lengthAdjust="spacingAndGlyphs">60</text>
<line x1="18.2" y1="797.0" x2="21.2" y2="797.0" stroke="#4a4a4a" stroke-width="1.1"/>
<text x="14.0" y="799.6" font-size="9" text-anchor="end" fill="#333" stroke="#333" stroke-width="0.25" font-weight="normal" font-family='"Liberation Sans", Arial, sans-serif'  textLength="9.01" lengthAdjust="spacingAndGlyphs">70</text>
<line x1="18.2" y1="781.4" x2="21.2" y2="781.4" stroke="#4a4a4a" stroke-width="1.1"/>
<text x="14.0" y="784.0" font-size="9" text-anchor="end" fill="#333" stroke="#333" stroke-width="0.25" font-weight="normal" font-family='"Liberation Sans", Arial, sans-serif'  textLength="9.01" lengthAdjust="spacingAndGlyphs">80</text>
<line x1="18.2" y1="765.7" x2="21.2" y2="765.7" stroke="#4a4a4a" stroke-width="1.1"/>
<text x="14.0" y="768.3" font-size="9" text-anchor="end" fill="#333" stroke="#333" stroke-width="0.25" font-weight="normal" font-family='"Liberation Sans", Arial, sans-serif'  textLength="9.01" lengthAdjust="spacingAndGlyphs">90</text>
<line x1="18.2" y1="750.0" x2="21.2" y2="750.0" stroke="#4a4a4a" stroke-width="1.1"/>
<text x="14.0" y="752.6" font-size="9" text-anchor="end" fill="#333" stroke="#333" stroke-width="0.25" font-weight="normal" font-family='"Liberation Sans", Arial, sans-serif'  textLength="13.51" lengthAdjust="spacingAndGlyphs">100</text>
<line x1="21.2" y1="906.8" x2="340.6" y2="906.8" stroke="#4a4a4a" stroke-width="1.3"/>
<line x1="21.2" y1="906.8" x2="21.2" y2="909.8" stroke="#4a4a4a" stroke-width="1.1"/>
<text x="21.2" y="920.8" font-size="9" text-anchor="middle" fill="#333" stroke="#333" stroke-width="0.25" font-weight="normal" font-family='"Liberation Sans", Arial, sans-serif' >0</text>
<line x1="61.1" y1="906.8" x2="61.1" y2="909.8" stroke="#4a4a4a" stroke-width="1.1"/>
<text x="61.1" y="920.8" font-size="9" text-anchor="middle" fill="#333" stroke="#333" stroke-width="0.25" font-weight="normal" font-family='"Liberation Sans", Arial, sans-serif' >50</text>
<line x1="101.1" y1="906.8" x2="101.1" y2="909.8" stroke="#4a4a4a" stroke-width="1.1"/>
<text x="101.1" y="920.8" font-size="9" text-anchor="middle" fill="#333" stroke="#333" stroke-width="0.25" font-weight="normal" font-family='"Liberation Sans", Arial, sans-serif' >100</text>
<line x1="141.0" y1="906.8" x2="141.0" y2="909.8" stroke="#4a4a4a" stroke-width="1.1"/>
<text x="141.0" y="920.8" font-size="9" text-anchor="middle" fill="#333" stroke="#333" stroke-width="0.25" font-weight="normal" font-family='"Liberation Sans", Arial, sans-serif' >150</text>
<line x1="180.9" y1="906.8" x2="180.9" y2="909.8" stroke="#4a4a4a" stroke-width="1.1"/>
<text x="180.9" y="920.8" font-size="9" text-anchor="middle" fill="#333" stroke="#333" stroke-width="0.25" font-weight="normal" font-family='"Liberation Sans", Arial, sans-serif' >200</text>
<line x1="220.8" y1="906.8" x2="220.8" y2="909.8" stroke="#4a4a4a" stroke-width="1.1"/>
<text x="220.8" y="920.8" font-size="9" text-anchor="middle" fill="#333" stroke="#333" stroke-width="0.25" font-weight="normal" font-family='"Liberation Sans", Arial, sans-serif' >250</text>
<line x1="260.8" y1="906.8" x2="260.8" y2="909.8" stroke="#4a4a4a" stroke-width="1.1"/>
<text x="260.8" y="920.8" font-size="9" text-anchor="middle" fill="#333" stroke="#333" stroke-width="0.25" font-weight="normal" font-family='"Liberation Sans", Arial, sans-serif' >300</text>
<line x1="300.7" y1="906.8" x2="300.7" y2="909.8" stroke="#4a4a4a" stroke-width="1.1"/>
<text x="300.7" y="920.8" font-size="9" text-anchor="middle" fill="#333" stroke="#333" stroke-width="0.25" font-weight="normal" font-family='"Liberation Sans", Arial, sans-serif' >350</text>
<line x1="340.6" y1="906.8" x2="340.6" y2="909.8" stroke="#4a4a4a" stroke-width="1.1"/>
<text x="340.6" y="920.8" font-size="9" text-anchor="middle" fill="#333" stroke="#333" stroke-width="0.25" font-weight="normal" font-family='"Liberation Sans", Arial, sans-serif' >400</text>
<path d="M26.9 909.8L30.6 903.1L34.4 909.8Z" fill="none" stroke="#727272" stroke-width="1.05"/>
<path d="M27.6 908.5L31.3 901.9L34.9 908.5Z" fill="none" stroke="#727272" stroke-width="1.05"/>
<path d="M28.9 906.2L32.4 899.9L36.0 906.2Z" fill="none" stroke="#727272" stroke-width="1.05"/>
<path d="M30.9 903.2L34.5 896.8L38.0 903.2Z" fill="none" stroke="#727272" stroke-width="1.05"/>
<path d="M31.9 902.8L35.5 896.3L39.0 902.8Z" fill="none" stroke="#727272" stroke-width="1.05"/>
<path d="M31.7 900.2L35.6 893.3L39.4 900.2Z" fill="none" stroke="#727272" stroke-width="1.05"/>
<path d="M33.0 897.4L36.8 890.4L40.7 897.4Z" fill="none" stroke="#727272" stroke-width="1.05"/>
<path d="M32.6 895.9L36.2 889.3L39.8 895.9Z" fill="none" stroke="#727272" stroke-width="1.05"/>
<path d="M33.3 891.9L36.9 885.4L40.6 891.9Z" fill="none" stroke="#727272" stroke-width="1.05"/>
<path d="M35.0 889.7L38.7 883.0L42.5 889.7Z" fill="none" stroke="#727272" stroke-width="1.05"/>
<path d="M35.0 887.8L38.7 881.1L42.4 887.8Z" fill="none" stroke="#727272" stroke-width="1.05"/>
<path d="M34.2 884.6L37.8 878.1L41.4 884.6Z" fill="none" stroke="#727272" stroke-width="1.05"/>
<path d="M35.9 883.1L39.5 876.5L43.1 883.1Z" fill="none" stroke="#727272" stroke-width="1.05"/>
<path d="M36.0 880.7L39.6 874.2L43.3 880.7Z" fill="none" stroke="#727272" stroke-width="1.05"/>
<path d="M36.9 878.9L40.5 872.4L44.1 878.9Z" fill="none" stroke="#727272" stroke-width="1.05"/>
<path d="M36.6 876.4L40.4 869.5L44.3 876.4Z" fill="none" stroke="#727272" stroke-width="1.05"/>
<path d="M37.3 873.5L41.2 866.5L45.1 873.5Z" fill="none" stroke="#727272" stroke-width="1.05"/>
<path d="M36.5 871.4L40.2 864.5L44.0 871.4Z" fill="none" stroke="#727272" stroke-width="1.05"/>
<path d="M37.2 868.9L40.7 862.6L44.3 868.9Z" fill="none" stroke="#727272" stroke-width="1.05"/>
<path d="M38.6 867.3L42.3 860.6L46.0 867.3Z" fill="none" stroke="#727272" stroke-width="1.05"/>
<path d="M39.4 864.0L43.2 857.2L47.0 864.0Z" fill="none" stroke="#727272" stroke-width="1.05"/>
<path d="M39.3 862.2L43.0 855.5L46.7 862.2Z" fill="none" stroke="#727272" stroke-width="1.05"/>
<path d="M40.3 860.6L44.0 854.0L47.7 860.6Z" fill="none" stroke="#727272" stroke-width="1.05"/>
<path d="M40.3 856.4L44.0 849.6L47.8 856.4Z" fill="none" stroke="#727272" stroke-width="1.05"/>
<path d="M40.7 856.1L44.5 849.3L48.3 856.1Z" fill="none" stroke="#727272" stroke-width="1.05"/>
<path d="M40.4 852.4L44.2 845.6L47.9 852.4Z" fill="none" stroke="#727272" stroke-width="1.05"/>
<path d="M40.5 850.0L44.0 843.6L47.6 850.0Z" fill="none" stroke="#727272" stroke-width="1.05"/>
<path d="M41.0 847.0L44.8 840.2L48.6 847.0Z" fill="none" stroke="#727272" stroke-width="1.05"/>
<path d="M41.8 845.0L45.4 838.4L49.1 845.0Z" fill="none" stroke="#727272" stroke-width="1.05"/>
<path d="M44.0 842.3L47.7 835.7L51.4 842.3Z" fill="none" stroke="#727272" stroke-width="1.05"/>
<path d="M43.8 841.9L47.6 835.0L51.4 841.9Z" fill="none" stroke="#727272" stroke-width="1.05"/>
<path d="M45.3 838.1L49.0 831.5L52.6 838.1Z" fill="none" stroke="#727272" stroke-width="1.05"/>
<path d="M44.7 837.4L48.6 830.4L52.5 837.4Z" fill="none" stroke="#727272" stroke-width="1.05"/>
<path d="M45.3 833.3L48.9 826.8L52.5 833.3Z" fill="none" stroke="#727272" stroke-width="1.05"/>
<path d="M46.1 831.8L49.9 825.1L53.6 831.8Z" fill="none" stroke="#727272" stroke-width="1.05"/>
<path d="M47.8 828.9L51.4 822.2L55.1 828.9Z" fill="none" stroke="#727272" stroke-width="1.05"/>
<path d="M49.1 828.2L52.9 821.3L56.8 828.2Z" fill="none" stroke="#727272" stroke-width="1.05"/>
<path d="M51.1 825.9L54.9 819.2L58.6 825.9Z" fill="none" stroke="#727272" stroke-width="1.05"/>
<path d="M52.2 823.0L56.1 816.0L59.9 823.0Z" fill="none" stroke="#727272" stroke-width="1.05"/>
<path d="M54.1 823.0L57.9 816.1L61.7 823.0Z" fill="none" stroke="#727272" stroke-width="1.05"/>
<path d="M55.2 820.0L58.8 813.6L62.3 820.0Z" fill="none" stroke="#727272" stroke-width="1.05"/>
<path d="M57.5 817.6L61.0 811.2L64.6 817.6Z" fill="none" stroke="#727272" stroke-width="1.05"/>
<path d="M57.6 815.9L61.3 809.3L64.9 815.9Z" fill="none" stroke="#727272" stroke-width="1.05"/>
<path d="M58.0 813.2L61.6 806.7L65.1 813.2Z" fill="none" stroke="#727272" stroke-width="1.05"/>
<path d="M58.8 811.6L62.3 805.3L65.9 811.6Z" fill="none" stroke="#727272" stroke-width="1.05"/>
<path d="M61.1 809.9L64.7 803.5L68.2 809.9Z" fill="none" stroke="#727272" stroke-width="1.05"/>
<path d="M60.5 807.2L64.2 800.6L67.8 807.2Z" fill="none" stroke="#727272" stroke-width="1.05"/>
<path d="M61.5 806.6L65.4 799.6L69.3 806.6Z" fill="none" stroke="#727272" stroke-width="1.05"/>
<path d="M64.1 803.6L67.7 797.3L71.2 803.6Z" fill="none" stroke="#727272" stroke-width="1.05"/>
<path d="M64.7 801.5L68.4 795.0L72.0 801.5Z" fill="none" stroke="#727272" stroke-width="1.05"/>
<path d="M68.1 799.3L71.6 792.9L75.1 799.3Z" fill="none" stroke="#727272" stroke-width="1.05"/>
<path d="M70.0 798.4L73.5 792.0L77.1 798.4Z" fill="none" stroke="#727272" stroke-width="1.05"/>
<path d="M70.6 795.8L74.3 789.1L78.1 795.8Z" fill="none" stroke="#727272" stroke-width="1.05"/>
<path d="M73.2 796.0L77.0 789.2L80.8 796.0Z" fill="none" stroke="#727272" stroke-width="1.05"/>
<path d="M73.6 793.0L77.1 786.6L80.7 793.0Z" fill="none" stroke="#727272" stroke-width="1.05"/>
<path d="M76.2 791.9L80.0 785.0L83.8 791.9Z" fill="none" stroke="#727272" stroke-width="1.05"/>
<path d="M77.0 789.6L80.8 782.8L84.6 789.6Z" fill="none" stroke="#727272" stroke-width="1.05"/>
<path d="M80.6 790.1L84.4 783.2L88.2 790.1Z" fill="none" stroke="#727272" stroke-width="1.05"/>
<path d="M82.7 788.8L86.3 782.3L89.9 788.8Z" fill="none" stroke="#727272" stroke-width="1.05"/>
<path d="M84.3 786.9L87.9 780.6L91.4 786.9Z" fill="none" stroke="#727272" stroke-width="1.05"/>
<path d="M85.3 785.8L88.9 779.3L92.5 785.8Z" fill="none" stroke="#727272" stroke-width="1.05"/>
<path d="M88.9 786.3L92.5 779.7L96.2 786.3Z" fill="none" stroke="#727272" stroke-width="1.05"/>
<path d="M91.5 785.8L95.3 778.8L99.2 785.8Z" fill="none" stroke="#727272" stroke-width="1.05"/>
<path d="M92.8 783.4L96.4 777.0L100.0 783.4Z" fill="none" stroke="#727272" stroke-width="1.05"/>
<path d="M101.3 783.3L105.0 776.7L108.7 783.3Z" fill="none" stroke="#888" stroke-width="1.0"/>
<path d="M111.6 780.5L115.3 773.9L119.0 780.5Z" fill="none" stroke="#888" stroke-width="1.0"/>
<path d="M114.3 779.3L118.0 772.7L121.7 779.3Z" fill="none" stroke="#888" stroke-width="1.0"/>
<path d="M118.5 777.8L122.2 771.2L125.9 777.8Z" fill="none" stroke="#888" stroke-width="1.0"/>
<path d="M121.8 776.8L125.5 770.2L129.2 776.8Z" fill="none" stroke="#888" stroke-width="1.0"/>
<path d="M125.4 775.7L129.1 769.1L132.8 775.7Z" fill="none" stroke="#888" stroke-width="1.0"/>
<path d="M128.8 774.3L132.5 767.7L136.2 774.3Z" fill="none" stroke="#888" stroke-width="1.0"/>
<path d="M132.3 773.0L136.0 766.4L139.7 773.0Z" fill="none" stroke="#888" stroke-width="1.0"/>
<path d="M135.8 771.3L139.5 764.7L143.2 771.3Z" fill="none" stroke="#888" stroke-width="1.0"/>
<path d="M137.7 770.9L141.4 764.3L145.1 770.9Z" fill="none" stroke="#888" stroke-width="1.0"/>
<path d="M139.2 769.5L142.9 762.9L146.6 769.5Z" fill="none" stroke="#888" stroke-width="1.0"/>
<path d="M141.8 768.1L145.5 761.5L149.2 768.1Z" fill="none" stroke="#888" stroke-width="1.0"/>
<path d="M143.9 768.8L147.6 762.2L151.3 768.8Z" fill="none" stroke="#888" stroke-width="1.0"/>
<path d="M152.9 767.4L156.6 760.8L160.3 767.4Z" fill="none" stroke="#888" stroke-width="1.0"/>
<path d="M157.7 766.7L161.4 760.1L165.1 766.7Z" fill="none" stroke="#888" stroke-width="1.0"/>
<path d="M171.5 765.4L175.2 758.8L178.9 765.4Z" fill="none" stroke="#888" stroke-width="1.0"/>
<path d="M182.5 764.7L186.2 758.1L189.9 764.7Z" fill="none" stroke="#888" stroke-width="1.0"/>
<path d="M185.3 763.3L189.0 756.7L192.7 763.3Z" fill="none" stroke="#888" stroke-width="1.0"/>
<path d="M188.0 762.3L191.7 755.7L195.4 762.3Z" fill="none" stroke="#888" stroke-width="1.0"/>
<path d="M191.5 761.2L195.2 754.6L198.9 761.2Z" fill="none" stroke="#888" stroke-width="1.0"/>
<path d="M194.2 760.5L197.9 753.9L201.6 760.5Z" fill="none" stroke="#888" stroke-width="1.0"/>
<path d="M199.7 759.9L203.4 753.3L207.1 759.9Z" fill="none" stroke="#888" stroke-width="1.0"/>
<path d="M201.8 759.2L205.5 752.6L209.2 759.2Z" fill="none" stroke="#888" stroke-width="1.0"/>
<path d="M219.1 758.5L222.8 751.9L226.5 758.5Z" fill="none" stroke="#888" stroke-width="1.0"/>
<path d="M227.3 757.1L231.0 750.5L234.7 757.1Z" fill="none" stroke="#888" stroke-width="1.0"/>
<path d="M233.5 756.6L237.2 750.0L240.9 756.6Z" fill="none" stroke="#888" stroke-width="1.0"/>
<path d="M246.3 756.2L250.0 749.6L253.7 756.2Z" fill="none" stroke="#888" stroke-width="1.0"/>
<path d="M321.4 755.1L325.1 748.5L328.8 755.1Z" fill="none" stroke="#888" stroke-width="1.0"/>
<circle cx="28.7" cy="907.7" r="2.48" fill="#141414"/>
<circle cx="28.5" cy="905.8" r="2.27" fill="#141414"/>
<circle cx="28.7" cy="904.6" r="2.59" fill="#141414"/>
<circle cx="29.5" cy="902.9" r="2.26" fill="#141414"/>
<circle cx="29.2" cy="901.0" r="2.23" fill="#141414"/>
<circle cx="30.2" cy="899.4" r="2.39" fill="#141414"/>
<circle cx="30.1" cy="898.2" r="2.34" fill="#141414"/>
<circle cx="31.5" cy="897.1" r="2.42" fill="#141414"/>
<circle cx="32.5" cy="895.7" r="2.42" fill="#141414"/>
<circle cx="32.8" cy="895.1" r="2.52" fill="#141414"/>
<circle cx="34.2" cy="893.9" r="2.43" fill="#141414"/>
<circle cx="34.7" cy="892.3" r="2.46" fill="#141414"/>
<circle cx="34.2" cy="890.1" r="2.31" fill="#141414"/>
<circle cx="35.7" cy="889.7" r="2.52" fill="#141414"/>
<circle cx="35.8" cy="887.5" r="2.35" fill="#141414"/>
<circle cx="37.2" cy="886.3" r="2.55" fill="#141414"/>
<circle cx="37.6" cy="885.4" r="2.31" fill="#141414"/>
<circle cx="38.6" cy="884.4" r="2.52" fill="#141414"/>
<circle cx="39.7" cy="884.0" r="2.46" fill="#141414"/>
<circle cx="41.4" cy="883.3" r="2.59" fill="#141414"/>
<circle cx="42.6" cy="883.4" r="2.43" fill="#141414"/>
<circle cx="44.2" cy="881.7" r="2.42" fill="#141414"/>
<circle cx="45.0" cy="881.2" r="2.25" fill="#141414"/>
<circle cx="46.1" cy="880.0" r="2.55" fill="#141414"/>
<circle cx="46.8" cy="879.3" r="2.25" fill="#141414"/>
<circle cx="48.1" cy="877.6" r="2.28" fill="#141414"/>
<circle cx="49.8" cy="876.2" r="2.35" fill="#141414"/>
<circle cx="50.1" cy="875.7" r="2.23" fill="#141414"/>
<circle cx="50.7" cy="874.4" r="2.21" fill="#141414"/>
<circle cx="50.9" cy="873.1" r="2.25" fill="#141414"/>
<circle cx="51.3" cy="871.2" r="2.49" fill="#141414"/>
<circle cx="52.1" cy="869.4" r="2.53" fill="#141414"/>
<circle cx="53.0" cy="868.0" r="2.35" fill="#141414"/>
<circle cx="53.0" cy="867.6" r="2.52" fill="#141414"/>
<circle cx="54.4" cy="865.8" r="2.23" fill="#141414"/>
<circle cx="54.9" cy="864.3" r="2.43" fill="#141414"/>
<circle cx="55.8" cy="863.3" r="2.46" fill="#141414"/>
<circle cx="55.9" cy="861.6" r="2.44" fill="#141414"/>
<circle cx="56.3" cy="860.6" r="2.54" fill="#141414"/>
<circle cx="57.4" cy="859.0" r="2.47" fill="#141414"/>
<circle cx="58.2" cy="858.1" r="2.38" fill="#141414"/>
<circle cx="59.0" cy="856.7" r="2.53" fill="#141414"/>
<circle cx="60.4" cy="856.1" r="2.42" fill="#141414"/>
<circle cx="61.6" cy="855.3" r="2.58" fill="#141414"/>
<circle cx="62.5" cy="853.8" r="2.35" fill="#141414"/>
<circle cx="62.9" cy="852.1" r="2.50" fill="#141414"/>
<circle cx="64.8" cy="851.0" r="2.27" fill="#141414"/>
<circle cx="65.0" cy="850.8" r="2.31" fill="#141414"/>
<circle cx="66.8" cy="848.9" r="2.59" fill="#141414"/>
<circle cx="67.6" cy="848.7" r="2.48" fill="#141414"/>
<circle cx="68.6" cy="847.5" r="2.54" fill="#141414"/>
<circle cx="69.8" cy="846.7" r="2.23" fill="#141414"/>
<circle cx="70.7" cy="845.6" r="2.55" fill="#141414"/>
<circle cx="71.9" cy="844.1" r="2.50" fill="#141414"/>
<circle cx="72.9" cy="843.7" r="2.36" fill="#141414"/>
<circle cx="74.0" cy="842.4" r="2.33" fill="#141414"/>
<circle cx="75.7" cy="841.8" r="2.36" fill="#141414"/>
<circle cx="76.7" cy="840.4" r="2.34" fill="#141414"/>
<circle cx="78.4" cy="839.8" r="2.42" fill="#141414"/>
<circle cx="79.4" cy="839.1" r="2.31" fill="#141414"/>
<circle cx="80.3" cy="838.5" r="2.54" fill="#141414"/>
<circle cx="81.9" cy="836.7" r="2.55" fill="#141414"/>
<circle cx="82.9" cy="836.8" r="2.26" fill="#141414"/>
<circle cx="84.1" cy="835.7" r="2.29" fill="#141414"/>
<circle cx="85.1" cy="833.9" r="2.48" fill="#141414"/>
<circle cx="85.8" cy="833.5" r="2.39" fill="#141414"/>
<circle cx="87.1" cy="832.9" r="2.57" fill="#141414"/>
<circle cx="88.0" cy="831.4" r="2.26" fill="#141414"/>
<circle cx="88.6" cy="829.7" r="2.26" fill="#141414"/>
<circle cx="89.8" cy="828.6" r="2.24" fill="#141414"/>
<circle cx="90.9" cy="827.7" r="2.43" fill="#141414"/>
<circle cx="91.7" cy="826.0" r="2.40" fill="#141414"/>
<circle cx="92.2" cy="825.5" r="2.44" fill="#141414"/>
<circle cx="93.0" cy="823.4" r="2.55" fill="#141414"/>
<circle cx="94.3" cy="822.2" r="2.36" fill="#141414"/>
<circle cx="95.7" cy="822.2" r="2.35" fill="#141414"/>
<circle cx="96.9" cy="820.6" r="2.38" fill="#141414"/>
<circle cx="108.0" cy="818.3" r="2.12" fill="#141414"/>
<circle cx="109.8" cy="817.7" r="2.23" fill="#141414"/>
<circle cx="111.3" cy="816.8" r="2.20" fill="#141414"/>
<circle cx="112.8" cy="815.9" r="2.29" fill="#141414"/>
<circle cx="114.9" cy="815.2" r="2.37" fill="#141414"/>
<circle cx="116.3" cy="813.9" r="2.40" fill="#141414"/>
<circle cx="118.0" cy="813.1" r="2.19" fill="#141414"/>
<circle cx="119.3" cy="812.3" r="2.24" fill="#141414"/>
<circle cx="120.8" cy="811.5" r="2.13" fill="#141414"/>
<circle cx="122.3" cy="810.8" r="2.15" fill="#141414"/>
<circle cx="123.7" cy="809.3" r="2.47" fill="#141414"/>
<circle cx="124.7" cy="808.2" r="2.14" fill="#141414"/>
<circle cx="126.3" cy="807.7" r="2.18" fill="#141414"/>
<circle cx="128.0" cy="807.4" r="2.34" fill="#141414"/>
<circle cx="138.8" cy="805.3" r="2.23" fill="#141414"/>
<circle cx="140.6" cy="805.0" r="2.20" fill="#141414"/>
<circle cx="141.6" cy="803.9" r="2.45" fill="#141414"/>
<circle cx="144.0" cy="803.4" r="2.22" fill="#141414"/>
<circle cx="145.1" cy="802.4" r="2.41" fill="#141414"/>
<circle cx="146.0" cy="801.6" r="2.41" fill="#141414"/>
<circle cx="148.0" cy="800.3" r="2.14" fill="#141414"/>
<circle cx="154.5" cy="799.0" r="2.42" fill="#141414"/>
<circle cx="164.8" cy="797.9" r="2.42" fill="#141414"/>
<circle cx="169.0" cy="796.6" r="2.42" fill="#141414"/>
<circle cx="177.9" cy="795.4" r="2.42" fill="#141414"/>
<circle cx="181.4" cy="793.8" r="2.42" fill="#141414"/>
<circle cx="184.4" cy="792.4" r="2.42" fill="#141414"/>
<circle cx="197.9" cy="791.7" r="2.42" fill="#141414"/>
<circle cx="205.5" cy="790.8" r="2.42" fill="#141414"/>
<circle cx="206.2" cy="789.4" r="2.42" fill="#141414"/>
<circle cx="210.6" cy="788.6" r="2.42" fill="#141414"/>
<circle cx="229.0" cy="787.6" r="2.42" fill="#141414"/>
<circle cx="255.0" cy="786.3" r="2.42" fill="#141414"/>
<circle cx="259.6" cy="785.2" r="2.42" fill="#141414"/>
<circle cx="280.8" cy="784.3" r="2.42" fill="#141414"/>
<circle cx="317.0" cy="783.6" r="2.42" fill="#141414"/>
<text x="159.9" y="856" font-size="11.25" font-weight="bold" fill="#111" stroke="#111" stroke-width="0.3" font-family='"Liberation Sans", Arial, sans-serif'>Cl<tspan font-size="7" dy="-4">-</tspan><tspan dy="4">, μeq/l</tspan></text>
<line x1="388.4" y1="914.7" x2="388.4" y2="756.2" stroke="#4a4a4a" stroke-width="1.3"/>
<line x1="385.4" y1="914.7" x2="388.4" y2="914.7" stroke="#4a4a4a" stroke-width="1.1"/>
<text x="381.4" y="917.3" font-size="9" text-anchor="end" fill="#333" stroke="#333" stroke-width="0.25" font-weight="normal" font-family='"Liberation Sans", Arial, sans-serif'  textLength="4.50" lengthAdjust="spacingAndGlyphs">0</text>
<line x1="385.4" y1="898.9" x2="388.4" y2="898.9" stroke="#4a4a4a" stroke-width="1.1"/>
<text x="381.4" y="901.5" font-size="9" text-anchor="end" fill="#333" stroke="#333" stroke-width="0.25" font-weight="normal" font-family='"Liberation Sans", Arial, sans-serif'  textLength="9.01" lengthAdjust="spacingAndGlyphs">10</text>
<line x1="385.4" y1="883.0" x2="388.4" y2="883.0" stroke="#4a4a4a" stroke-width="1.1"/>
<text x="381.4" y="885.6" font-size="9" text-anchor="end" fill="#333" stroke="#333" stroke-width="0.25" font-weight="normal" font-family='"Liberation Sans", Arial, sans-serif'  textLength="9.01" lengthAdjust="spacingAndGlyphs">20</text>
<line x1="385.4" y1="867.2" x2="388.4" y2="867.2" stroke="#4a4a4a" stroke-width="1.1"/>
<text x="381.4" y="869.8" font-size="9" text-anchor="end" fill="#333" stroke="#333" stroke-width="0.25" font-weight="normal" font-family='"Liberation Sans", Arial, sans-serif'  textLength="9.01" lengthAdjust="spacingAndGlyphs">30</text>
<line x1="385.4" y1="851.3" x2="388.4" y2="851.3" stroke="#4a4a4a" stroke-width="1.1"/>
<text x="381.4" y="853.9" font-size="9" text-anchor="end" fill="#333" stroke="#333" stroke-width="0.25" font-weight="normal" font-family='"Liberation Sans", Arial, sans-serif'  textLength="9.01" lengthAdjust="spacingAndGlyphs">40</text>
<line x1="385.4" y1="835.5" x2="388.4" y2="835.5" stroke="#4a4a4a" stroke-width="1.1"/>
<text x="381.4" y="838.1" font-size="9" text-anchor="end" fill="#333" stroke="#333" stroke-width="0.25" font-weight="normal" font-family='"Liberation Sans", Arial, sans-serif'  textLength="9.01" lengthAdjust="spacingAndGlyphs">50</text>
<line x1="385.4" y1="819.6" x2="388.4" y2="819.6" stroke="#4a4a4a" stroke-width="1.1"/>
<text x="381.4" y="822.2" font-size="9" text-anchor="end" fill="#333" stroke="#333" stroke-width="0.25" font-weight="normal" font-family='"Liberation Sans", Arial, sans-serif'  textLength="9.01" lengthAdjust="spacingAndGlyphs">60</text>
<line x1="385.4" y1="803.8" x2="388.4" y2="803.8" stroke="#4a4a4a" stroke-width="1.1"/>
<text x="381.4" y="806.4" font-size="9" text-anchor="end" fill="#333" stroke="#333" stroke-width="0.25" font-weight="normal" font-family='"Liberation Sans", Arial, sans-serif'  textLength="9.01" lengthAdjust="spacingAndGlyphs">70</text>
<line x1="385.4" y1="787.9" x2="388.4" y2="787.9" stroke="#4a4a4a" stroke-width="1.1"/>
<text x="381.4" y="790.5" font-size="9" text-anchor="end" fill="#333" stroke="#333" stroke-width="0.25" font-weight="normal" font-family='"Liberation Sans", Arial, sans-serif'  textLength="9.01" lengthAdjust="spacingAndGlyphs">80</text>
<line x1="385.4" y1="772.1" x2="388.4" y2="772.1" stroke="#4a4a4a" stroke-width="1.1"/>
<text x="381.4" y="774.7" font-size="9" text-anchor="end" fill="#333" stroke="#333" stroke-width="0.25" font-weight="normal" font-family='"Liberation Sans", Arial, sans-serif'  textLength="9.01" lengthAdjust="spacingAndGlyphs">90</text>
<line x1="385.4" y1="756.2" x2="388.4" y2="756.2" stroke="#4a4a4a" stroke-width="1.1"/>
<text x="381.4" y="758.8" font-size="9" text-anchor="end" fill="#333" stroke="#333" stroke-width="0.25" font-weight="normal" font-family='"Liberation Sans", Arial, sans-serif'  textLength="13.51" lengthAdjust="spacingAndGlyphs">100</text>
<line x1="388.4" y1="914.7" x2="720.0" y2="914.7" stroke="#4a4a4a" stroke-width="1.3"/>
<line x1="388.4" y1="914.7" x2="388.4" y2="917.7" stroke="#4a4a4a" stroke-width="1.1"/>
<text x="388.4" y="927.3" font-size="9" text-anchor="middle" fill="#333" stroke="#333" stroke-width="0.25" font-weight="normal" font-family='"Liberation Sans", Arial, sans-serif' >0</text>
<line x1="454.7" y1="914.7" x2="454.7" y2="917.7" stroke="#4a4a4a" stroke-width="1.1"/>
<text x="454.7" y="927.3" font-size="9" text-anchor="middle" fill="#333" stroke="#333" stroke-width="0.25" font-weight="normal" font-family='"Liberation Sans", Arial, sans-serif' >10</text>
<line x1="521.0" y1="914.7" x2="521.0" y2="917.7" stroke="#4a4a4a" stroke-width="1.1"/>
<text x="521.0" y="927.3" font-size="9" text-anchor="middle" fill="#333" stroke="#333" stroke-width="0.25" font-weight="normal" font-family='"Liberation Sans", Arial, sans-serif' >20</text>
<line x1="587.4" y1="914.7" x2="587.4" y2="917.7" stroke="#4a4a4a" stroke-width="1.1"/>
<text x="587.4" y="927.3" font-size="9" text-anchor="middle" fill="#333" stroke="#333" stroke-width="0.25" font-weight="normal" font-family='"Liberation Sans", Arial, sans-serif' >30</text>
<line x1="653.7" y1="914.7" x2="653.7" y2="917.7" stroke="#4a4a4a" stroke-width="1.1"/>
<text x="653.7" y="927.3" font-size="9" text-anchor="middle" fill="#333" stroke="#333" stroke-width="0.25" font-weight="normal" font-family='"Liberation Sans", Arial, sans-serif' >40</text>
<line x1="720.0" y1="914.7" x2="720.0" y2="917.7" stroke="#4a4a4a" stroke-width="1.1"/>
<text x="720.0" y="927.3" font-size="9" text-anchor="middle" fill="#333" stroke="#333" stroke-width="0.25" font-weight="normal" font-family='"Liberation Sans", Arial, sans-serif' >50</text>
<path d="M386.2 835.5L389.9 828.9L393.6 835.5Z" fill="none" stroke="#888" stroke-width="1.0"/>
<path d="M385.7 865.8L389.4 859.2L393.1 865.8Z" fill="none" stroke="#888" stroke-width="1.0"/>
<path d="M386.8 820.6L390.5 814.0L394.2 820.6Z" fill="none" stroke="#888" stroke-width="1.0"/>
<path d="M386.8 809.6L390.5 803.0L394.2 809.6Z" fill="none" stroke="#7a7a7a" stroke-width="1.0"/>
<path d="M387.3 805.2L391.0 798.6L394.7 805.2Z" fill="none" stroke="#7a7a7a" stroke-width="1.0"/>
<path d="M387.9 800.8L391.6 794.2L395.3 800.8Z" fill="none" stroke="#7a7a7a" stroke-width="1.0"/>
<path d="M389.0 798.6L392.7 792.0L396.4 798.6Z" fill="none" stroke="#7a7a7a" stroke-width="1.0"/>
<path d="M390.1 794.1L393.8 787.5L397.5 794.1Z" fill="none" stroke="#7a7a7a" stroke-width="1.0"/>
<path d="M390.6 790.8L394.3 784.2L398.0 790.8Z" fill="none" stroke="#7a7a7a" stroke-width="1.0"/>
<path d="M392.3 788.1L396.0 781.5L399.7 788.1Z" fill="none" stroke="#7a7a7a" stroke-width="1.0"/>
<path d="M394.3 786.5L398.0 779.9L401.7 786.5Z" fill="none" stroke="#7a7a7a" stroke-width="1.0"/>
<path d="M395.6 785.3L399.3 778.7L403.0 785.3Z" fill="none" stroke="#7a7a7a" stroke-width="1.0"/>
<path d="M397.8 783.7L401.5 777.1L405.2 783.7Z" fill="none" stroke="#7a7a7a" stroke-width="1.0"/>
<path d="M400.8 783.1L404.5 776.5L408.2 783.1Z" fill="none" stroke="#7a7a7a" stroke-width="1.0"/>
<path d="M403.9 782.5L407.6 775.9L411.3 782.5Z" fill="none" stroke="#7a7a7a" stroke-width="1.0"/>
<path d="M406.3 781.6L410.0 775.0L413.7 781.6Z" fill="none" stroke="#7a7a7a" stroke-width="1.0"/>
<path d="M408.3 780.9L412.0 774.3L415.7 780.9Z" fill="none" stroke="#7a7a7a" stroke-width="1.0"/>
<path d="M411.6 779.8L415.3 773.2L419.0 779.8Z" fill="none" stroke="#7a7a7a" stroke-width="1.0"/>
<path d="M416.0 778.1L419.7 771.5L423.4 778.1Z" fill="none" stroke="#7a7a7a" stroke-width="1.0"/>
<path d="M418.8 776.5L422.5 769.9L426.2 776.5Z" fill="none" stroke="#7a7a7a" stroke-width="1.0"/>
<path d="M420.5 777.0L424.2 770.4L427.9 777.0Z" fill="none" stroke="#7a7a7a" stroke-width="1.0"/>
<path d="M430.4 775.4L434.1 768.8L437.8 775.4Z" fill="none" stroke="#888" stroke-width="1.0"/>
<path d="M436.5 774.3L440.2 767.7L443.9 774.3Z" fill="none" stroke="#888" stroke-width="1.0"/>
<path d="M441.4 773.2L445.1 766.6L448.8 773.2Z" fill="none" stroke="#888" stroke-width="1.0"/>
<path d="M444.7 771.5L448.4 764.9L452.1 771.5Z" fill="none" stroke="#888" stroke-width="1.0"/>
<path d="M447.1 770.0L450.8 763.4L454.5 770.0Z" fill="none" stroke="#888" stroke-width="1.0"/>
<path d="M448.0 770.4L451.7 763.8L455.4 770.4Z" fill="none" stroke="#888" stroke-width="1.0"/>
<path d="M450.9 768.5L454.6 761.9L458.3 768.5Z" fill="none" stroke="#888" stroke-width="1.0"/>
<path d="M451.4 769.3L455.1 762.7L458.8 769.3Z" fill="none" stroke="#888" stroke-width="1.0"/>
<path d="M454.7 768.8L458.4 762.2L462.1 768.8Z" fill="none" stroke="#888" stroke-width="1.0"/>
<path d="M455.4 768.5L459.1 761.9L462.8 768.5Z" fill="none" stroke="#888" stroke-width="1.0"/>
<path d="M460.7 767.3L464.4 760.7L468.1 767.3Z" fill="none" stroke="#888" stroke-width="1.0"/>
<path d="M465.3 767.0L469.0 760.4L472.7 767.0Z" fill="none" stroke="#888" stroke-width="1.0"/>
<path d="M469.8 766.2L473.5 759.6L477.2 766.2Z" fill="none" stroke="#888" stroke-width="1.0"/>
<path d="M478.9 765.4L482.6 758.8L486.3 765.4Z" fill="none" stroke="#888" stroke-width="1.0"/>
<path d="M482.7 764.7L486.4 758.1L490.1 764.7Z" fill="none" stroke="#888" stroke-width="1.0"/>
<path d="M485.0 764.2L488.7 757.6L492.4 764.2Z" fill="none" stroke="#888" stroke-width="1.0"/>
<path d="M503.2 763.6L506.9 757.0L510.6 763.6Z" fill="none" stroke="#888" stroke-width="1.0"/>
<path d="M571.5 762.9L575.2 756.3L578.9 762.9Z" fill="none" stroke="#888" stroke-width="1.0"/>
<path d="M610.8 762.0L614.5 755.4L618.2 762.0Z" fill="none" stroke="#888" stroke-width="1.0"/>
<path d="M616.4 761.4L620.1 754.8L623.8 761.4Z" fill="none" stroke="#888" stroke-width="1.0"/>
<path d="M666.3 760.8L670.0 754.2L673.7 760.8Z" fill="none" stroke="#888" stroke-width="1.0"/>
<path d="M711.8 760.4L715.5 753.8L719.2 760.4Z" fill="none" stroke="#888" stroke-width="1.0"/>
<circle cx="388.3" cy="914.3" r="2.25" fill="#141414"/>
<circle cx="388.7" cy="911.9" r="2.22" fill="#141414"/>
<circle cx="388.9" cy="911.2" r="2.52" fill="#141414"/>
<circle cx="389.2" cy="910.0" r="2.31" fill="#141414"/>
<circle cx="388.8" cy="908.5" r="2.52" fill="#141414"/>
<circle cx="389.3" cy="906.4" r="2.38" fill="#141414"/>
<circle cx="389.6" cy="905.3" r="2.37" fill="#141414"/>
<circle cx="389.7" cy="904.4" r="2.39" fill="#141414"/>
<circle cx="389.4" cy="902.1" r="2.43" fill="#141414"/>
<circle cx="389.3" cy="901.0" r="2.23" fill="#141414"/>
<circle cx="389.5" cy="900.1" r="2.31" fill="#141414"/>
<circle cx="390.3" cy="898.1" r="2.43" fill="#141414"/>
<circle cx="389.4" cy="897.3" r="2.59" fill="#141414"/>
<circle cx="390.4" cy="895.8" r="2.40" fill="#141414"/>
<circle cx="390.6" cy="894.4" r="2.41" fill="#141414"/>
<circle cx="391.3" cy="892.4" r="2.50" fill="#141414"/>
<circle cx="391.9" cy="891.7" r="2.59" fill="#141414"/>
<circle cx="392.7" cy="890.1" r="2.27" fill="#141414"/>
<circle cx="392.4" cy="889.0" r="2.42" fill="#141414"/>
<circle cx="393.6" cy="888.2" r="2.22" fill="#141414"/>
<circle cx="393.8" cy="886.3" r="2.44" fill="#141414"/>
<circle cx="393.8" cy="884.8" r="2.32" fill="#141414"/>
<circle cx="394.0" cy="883.3" r="2.26" fill="#141414"/>
<circle cx="393.7" cy="882.7" r="2.49" fill="#141414"/>
<circle cx="394.4" cy="880.5" r="2.52" fill="#141414"/>
<circle cx="394.6" cy="879.3" r="2.49" fill="#141414"/>
<circle cx="395.4" cy="878.3" r="2.54" fill="#141414"/>
<circle cx="395.5" cy="877.0" r="2.31" fill="#141414"/>
<circle cx="396.9" cy="875.5" r="2.21" fill="#141414"/>
<circle cx="397.2" cy="874.3" r="2.37" fill="#141414"/>
<circle cx="397.9" cy="873.3" r="2.45" fill="#141414"/>
<circle cx="398.5" cy="872.3" r="2.37" fill="#141414"/>
<circle cx="399.0" cy="871.1" r="2.52" fill="#141414"/>
<circle cx="400.3" cy="870.4" r="2.23" fill="#141414"/>
<circle cx="401.1" cy="868.3" r="2.29" fill="#141414"/>
<circle cx="401.3" cy="867.4" r="2.45" fill="#141414"/>
<circle cx="401.8" cy="866.5" r="2.28" fill="#141414"/>
<circle cx="401.9" cy="865.1" r="2.39" fill="#141414"/>
<circle cx="402.5" cy="863.3" r="2.51" fill="#141414"/>
<circle cx="403.5" cy="862.3" r="2.48" fill="#141414"/>
<circle cx="404.0" cy="861.2" r="2.32" fill="#141414"/>
<circle cx="405.3" cy="859.5" r="2.50" fill="#141414"/>
<circle cx="405.3" cy="858.4" r="2.54" fill="#141414"/>
<circle cx="406.6" cy="857.4" r="2.44" fill="#141414"/>
<circle cx="407.7" cy="856.5" r="2.27" fill="#141414"/>
<circle cx="408.0" cy="855.2" r="2.28" fill="#141414"/>
<circle cx="409.8" cy="854.4" r="2.53" fill="#141414"/>
<circle cx="410.6" cy="853.1" r="2.23" fill="#141414"/>
<circle cx="411.0" cy="852.7" r="2.50" fill="#141414"/>
<circle cx="412.4" cy="851.6" r="2.32" fill="#141414"/>
<circle cx="413.2" cy="850.3" r="2.45" fill="#141414"/>
<circle cx="413.8" cy="849.3" r="2.49" fill="#141414"/>
<circle cx="415.3" cy="848.6" r="2.30" fill="#141414"/>
<circle cx="416.5" cy="847.9" r="2.44" fill="#141414"/>
<circle cx="418.0" cy="847.3" r="2.45" fill="#141414"/>
<circle cx="418.9" cy="846.4" r="2.56" fill="#141414"/>
<circle cx="419.5" cy="845.2" r="2.31" fill="#141414"/>
<circle cx="421.3" cy="844.8" r="2.28" fill="#141414"/>
<circle cx="430.1" cy="843.4" r="2.38" fill="#141414"/>
<circle cx="430.6" cy="841.8" r="2.33" fill="#141414"/>
<circle cx="431.4" cy="841.1" r="2.31" fill="#141414"/>
<circle cx="432.9" cy="839.3" r="2.43" fill="#141414"/>
<circle cx="433.8" cy="837.9" r="2.37" fill="#141414"/>
<circle cx="435.7" cy="837.8" r="2.37" fill="#141414"/>
<circle cx="436.5" cy="836.7" r="2.22" fill="#141414"/>
<circle cx="438.3" cy="836.9" r="2.16" fill="#141414"/>
<circle cx="439.5" cy="835.6" r="2.45" fill="#141414"/>
<circle cx="441.7" cy="835.6" r="2.27" fill="#141414"/>
<circle cx="442.9" cy="835.4" r="2.20" fill="#141414"/>
<circle cx="444.5" cy="834.4" r="2.25" fill="#141414"/>
<circle cx="445.3" cy="833.1" r="2.18" fill="#141414"/>
<circle cx="446.9" cy="832.5" r="2.15" fill="#141414"/>
<circle cx="448.2" cy="831.4" r="2.22" fill="#141414"/>
<circle cx="450.0" cy="830.4" r="2.17" fill="#141414"/>
<circle cx="450.8" cy="830.2" r="2.13" fill="#141414"/>
<circle cx="452.4" cy="828.7" r="2.27" fill="#141414"/>
<circle cx="453.0" cy="828.4" r="2.33" fill="#141414"/>
<circle cx="454.0" cy="826.4" r="2.29" fill="#141414"/>
<circle cx="455.3" cy="825.3" r="2.37" fill="#141414"/>
<circle cx="456.6" cy="824.4" r="2.48" fill="#141414"/>
<circle cx="457.7" cy="823.3" r="2.37" fill="#141414"/>
<circle cx="458.7" cy="822.9" r="2.30" fill="#141414"/>
<circle cx="459.4" cy="821.6" r="2.45" fill="#141414"/>
<circle cx="460.4" cy="819.6" r="2.22" fill="#141414"/>
<circle cx="462.2" cy="819.2" r="2.38" fill="#141414"/>
<circle cx="463.3" cy="817.5" r="2.28" fill="#141414"/>
<circle cx="464.4" cy="816.9" r="2.16" fill="#141414"/>
<circle cx="465.7" cy="816.0" r="2.39" fill="#141414"/>
<circle cx="466.6" cy="815.5" r="2.20" fill="#141414"/>
<circle cx="467.9" cy="814.9" r="2.29" fill="#141414"/>
<circle cx="469.5" cy="814.4" r="2.17" fill="#141414"/>
<circle cx="471.4" cy="813.5" r="2.32" fill="#141414"/>
<circle cx="473.1" cy="813.2" r="2.31" fill="#141414"/>
<circle cx="474.5" cy="812.0" r="2.31" fill="#141414"/>
<circle cx="475.5" cy="811.3" r="2.24" fill="#141414"/>
<circle cx="484.8" cy="809.5" r="2.42" fill="#141414"/>
<circle cx="488.1" cy="808.1" r="2.42" fill="#141414"/>
<circle cx="492.3" cy="806.2" r="2.42" fill="#141414"/>
<circle cx="494.0" cy="804.6" r="2.42" fill="#141414"/>
<circle cx="495.6" cy="803.2" r="2.42" fill="#141414"/>
<circle cx="506.3" cy="802.0" r="2.42" fill="#141414"/>
<circle cx="508.5" cy="801.0" r="2.42" fill="#141414"/>
<circle cx="510.5" cy="799.9" r="2.42" fill="#141414"/>
<circle cx="514.6" cy="798.7" r="2.42" fill="#141414"/>
<circle cx="516.5" cy="798.0" r="2.42" fill="#141414"/>
<circle cx="518.7" cy="797.1" r="2.42" fill="#141414"/>
<circle cx="524.5" cy="794.9" r="2.42" fill="#141414"/>
<circle cx="536.1" cy="793.7" r="2.42" fill="#141414"/>
<circle cx="545.2" cy="792.4" r="2.42" fill="#141414"/>
<circle cx="549.4" cy="791.3" r="2.42" fill="#141414"/>
<circle cx="557.6" cy="789.1" r="2.42" fill="#141414"/>
<circle cx="560.1" cy="787.5" r="2.42" fill="#141414"/>
<circle cx="573.4" cy="785.8" r="2.42" fill="#141414"/>
<circle cx="574.1" cy="786.5" r="2.42" fill="#141414"/>
<circle cx="575.5" cy="785.2" r="2.42" fill="#141414"/>
<circle cx="577.2" cy="784.0" r="2.42" fill="#141414"/>
<circle cx="579.3" cy="783.2" r="2.42" fill="#141414"/>
<circle cx="581.4" cy="782.3" r="2.42" fill="#141414"/>
<circle cx="583.5" cy="781.3" r="2.42" fill="#141414"/>
<circle cx="585.5" cy="780.2" r="2.42" fill="#141414"/>
<circle cx="587.6" cy="779.2" r="2.42" fill="#141414"/>
<circle cx="589.7" cy="778.2" r="2.42" fill="#141414"/>
<circle cx="592.3" cy="776.7" r="2.42" fill="#141414"/>
<circle cx="600.6" cy="775.7" r="2.42" fill="#141414"/>
<circle cx="605.2" cy="774.0" r="2.42" fill="#141414"/>
<circle cx="609.7" cy="772.6" r="2.42" fill="#141414"/>
<circle cx="613.5" cy="771.6" r="2.42" fill="#141414"/>
<circle cx="623.4" cy="770.9" r="2.42" fill="#141414"/>
<circle cx="627.9" cy="769.5" r="2.42" fill="#141414"/>
<circle cx="629.6" cy="767.8" r="2.42" fill="#141414"/>
<circle cx="634.6" cy="766.4" r="2.42" fill="#141414"/>
<circle cx="639.3" cy="764.9" r="2.42" fill="#141414"/>
<circle cx="644.1" cy="763.7" r="2.42" fill="#141414"/>
<circle cx="680.7" cy="762.7" r="2.42" fill="#141414"/>
<circle cx="704.9" cy="761.6" r="2.42" fill="#141414"/>
<text x="520.8" y="859" font-size="11" font-weight="bold" fill="#111" stroke="#111" stroke-width="0.3" font-family='"Liberation Sans", Arial, sans-serif'>NO<tspan font-size="7.5" dy="3">3</tspan><tspan font-size="7.5" dy="-8">-</tspan><tspan dy="5"> μeq/l</tspan></text>
</svg></body></html>
